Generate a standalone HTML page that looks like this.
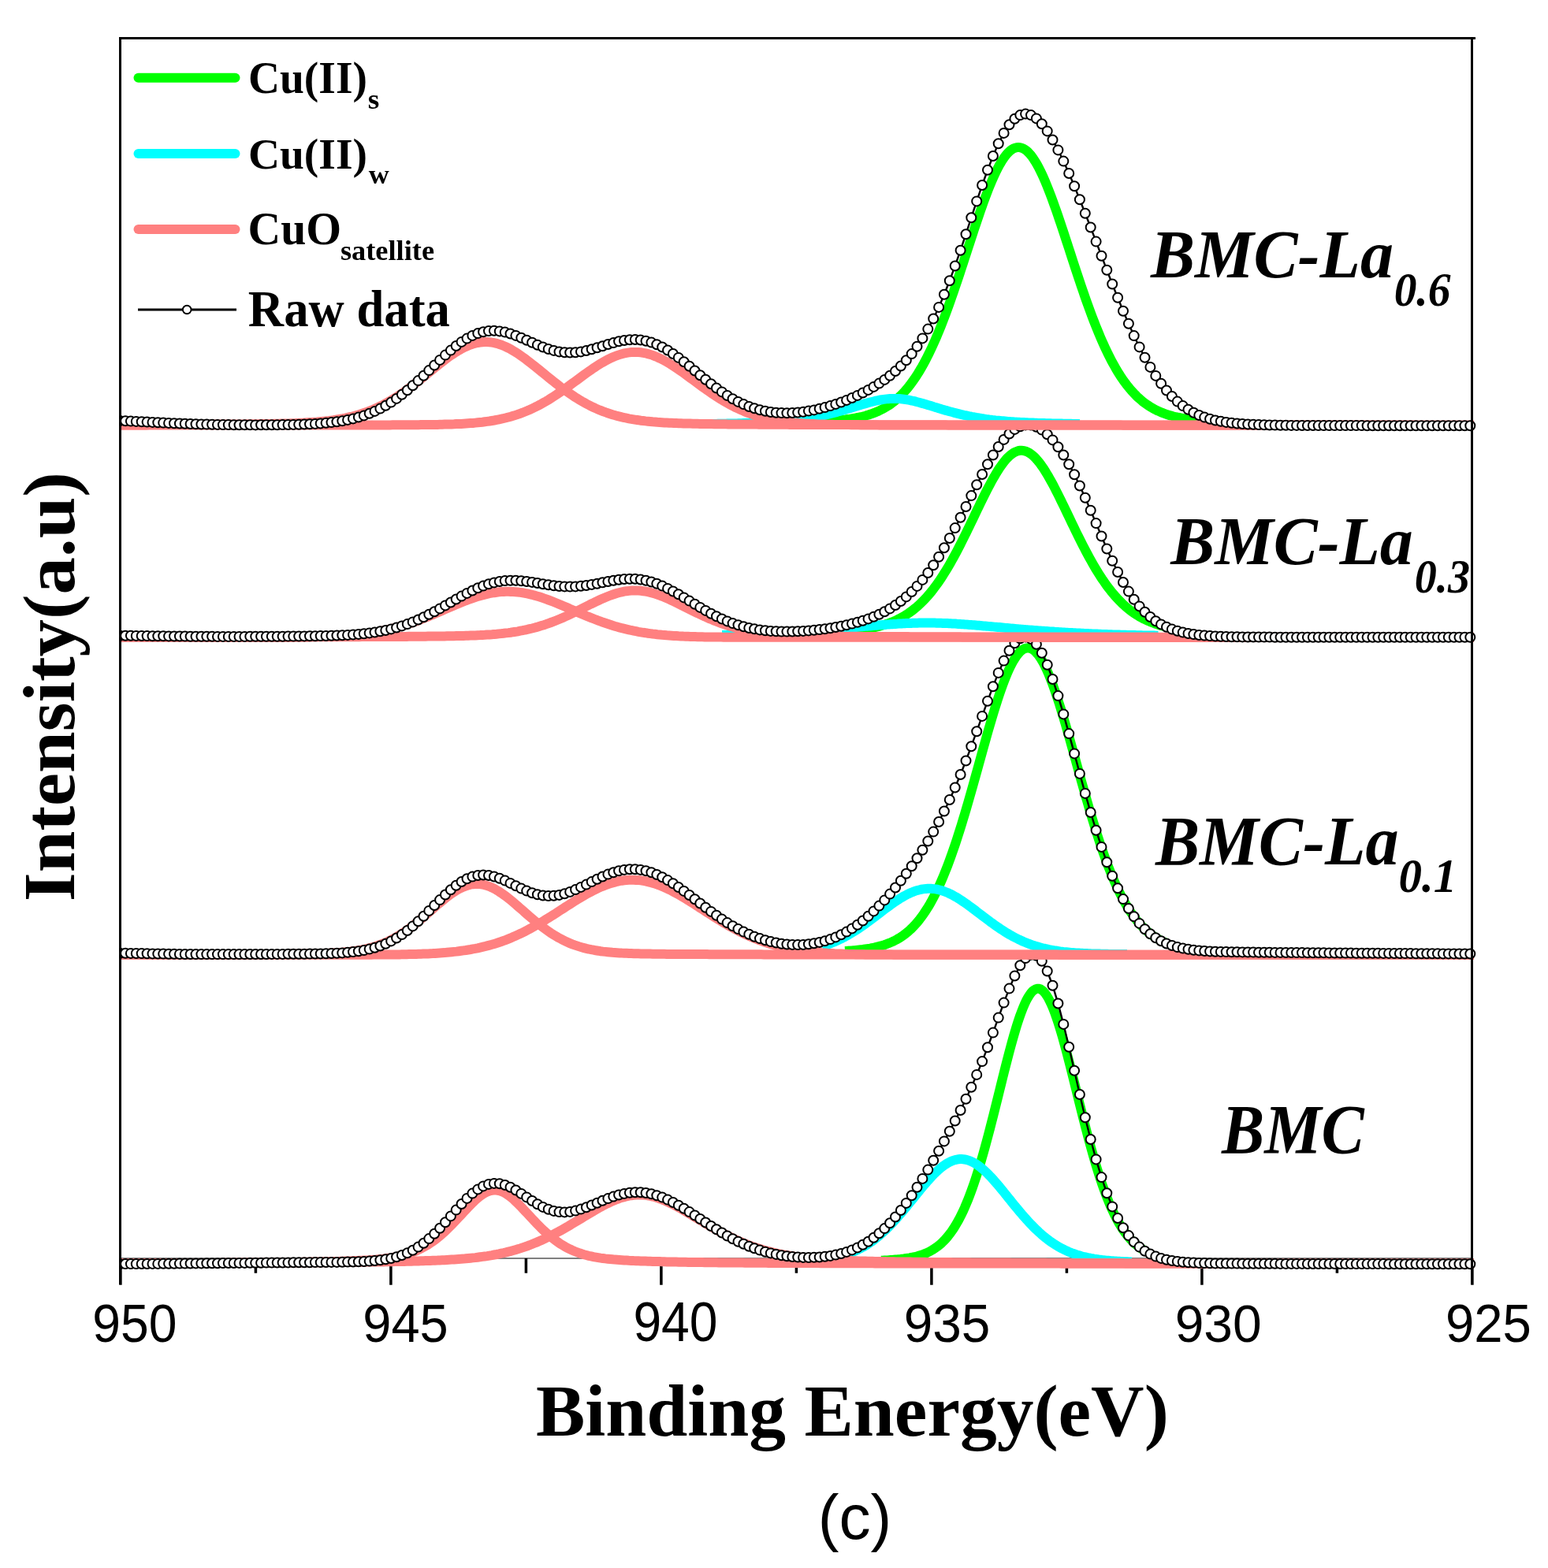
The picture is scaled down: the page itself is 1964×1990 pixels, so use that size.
<!DOCTYPE html><html><head><meta charset="utf-8"><title>XPS Cu 2p</title><style>html,body{margin:0;padding:0;background:#fff}svg{display:block}</style></head><body>
<svg xmlns="http://www.w3.org/2000/svg" width="1964" height="1990" viewBox="0 0 1964 1990">
<rect width="1964" height="1990" fill="#fff"/>
<defs>
<clipPath id="c0"><rect x="152" y="1211.7" width="1730" height="488.29999999999995"/></clipPath>
<clipPath id="c1"><rect x="152" y="808.9" width="1730" height="891.1"/></clipPath>
<clipPath id="c2"><rect x="152" y="539.7" width="1730" height="1160.3"/></clipPath>
<clipPath id="c3"><rect x="152" y="48" width="1730" height="1652"/></clipPath>
</defs>
<path d="M152.9,1597V1630.8 M324.4,1597V1615.8 M495.9,1597V1630.8 M667.4,1597V1615.8 M838.9,1597V1630.8 M1010.4,1597V1615.8 M1181.9,1597V1630.8 M1353.4,1597V1615.8 M1524.9,1597V1630.8 M1696.4,1597V1615.8 M1867.9,1597V1630.8" stroke="#000" stroke-width="3.5" fill="none"/>
<path d="M152,1597H1867" stroke="#000" stroke-width="1"/>
<g clip-path="url(#c0)" fill="none" stroke-width="12"><path d="M1118.0,1599.8 1120.0,1599.7 1122.0,1599.6 1124.0,1599.5 1126.0,1599.4 1128.0,1599.2 1130.0,1599.1 1132.0,1599.0 1134.0,1598.8 1136.0,1598.6 1138.0,1598.5 1140.0,1598.3 1142.0,1598.1 1144.0,1597.8 1146.0,1597.6 1148.0,1597.3 1150.0,1597.0 1152.0,1596.7 1154.0,1596.4 1156.0,1596.0 1158.0,1595.6 1160.0,1595.2 1162.0,1594.7 1164.0,1594.2 1166.0,1593.6 1168.0,1593.0 1170.0,1592.3 1172.0,1591.6 1174.0,1590.8 1176.0,1590.0 1178.0,1589.0 1180.0,1588.0 1182.0,1586.9 1184.0,1585.7 1186.0,1584.4 1188.0,1583.0 1190.0,1581.5 1192.0,1579.9 1194.0,1578.2 1196.0,1576.3 1198.0,1574.3 1200.0,1572.1 1202.0,1569.8 1204.0,1567.3 1206.0,1564.7 1208.0,1561.9 1210.0,1558.9 1212.0,1555.7 1214.0,1552.3 1216.0,1548.8 1218.0,1545.0 1220.0,1541.0 1222.0,1536.8 1224.0,1532.4 1226.0,1527.7 1228.0,1522.9 1230.0,1517.8 1232.0,1512.4 1234.0,1506.9 1236.0,1501.1 1238.0,1495.1 1240.0,1488.9 1242.0,1482.5 1244.0,1475.9 1246.0,1469.1 1248.0,1462.1 1250.0,1454.9 1252.0,1447.5 1254.0,1440.0 1256.0,1432.4 1258.0,1424.6 1260.0,1416.7 1262.0,1408.8 1264.0,1400.8 1266.0,1392.7 1268.0,1384.6 1270.0,1376.5 1272.0,1368.4 1274.0,1360.4 1276.0,1352.5 1278.0,1344.7 1280.0,1337.0 1282.0,1329.5 1284.0,1322.1 1286.0,1315.0 1288.0,1308.2 1290.0,1301.6 1292.0,1295.4 1294.0,1289.5 1296.0,1284.0 1298.0,1278.9 1300.0,1274.2 1302.0,1270.0 1304.0,1266.2 1306.0,1263.0 1308.0,1260.2 1310.0,1258.0 1312.0,1256.4 1314.0,1255.3 1316.0,1254.8 1318.0,1254.8 1320.0,1255.4 1322.0,1256.6 1324.0,1258.3 1326.0,1260.6 1328.0,1263.4 1330.0,1266.8 1332.0,1270.6 1334.0,1274.9 1336.0,1279.6 1338.0,1284.8 1340.0,1290.4 1342.0,1296.4 1344.0,1302.6 1346.0,1309.3 1348.0,1316.1 1350.0,1323.3 1352.0,1330.6 1354.0,1338.2 1356.0,1345.9 1358.0,1353.7 1360.0,1361.7 1362.0,1369.7 1364.0,1377.8 1366.0,1385.9 1368.0,1394.0 1370.0,1402.0 1372.0,1410.0 1374.0,1418.0 1376.0,1425.8 1378.0,1433.6 1380.0,1441.2 1382.0,1448.7 1384.0,1456.0 1386.0,1463.2 1388.0,1470.2 1390.0,1477.0 1392.0,1483.5 1394.0,1489.9 1396.0,1496.1 1398.0,1502.1 1400.0,1507.8 1402.0,1513.3 1404.0,1518.6 1406.0,1523.6 1408.0,1528.5 1410.0,1533.1 1412.0,1537.5 1414.0,1541.6 1416.0,1545.6 1418.0,1549.3 1420.0,1552.9 1422.0,1556.2 1424.0,1559.4 1426.0,1562.3 1428.0,1565.1 1430.0,1567.7 1432.0,1570.2 1434.0,1572.5 1436.0,1574.6 1438.0,1576.6 1440.0,1578.5 1442.0,1580.2 1444.0,1581.8 1446.0,1583.3 1448.0,1584.6 1450.0,1585.9 1452.0,1587.1" stroke="#00ff00"/><path d="M1050.0,1597.7 1052.0,1597.3 1054.0,1597.0 1056.0,1596.6 1058.0,1596.2 1060.0,1595.8 1062.0,1595.3 1064.0,1594.8 1066.0,1594.3 1068.0,1593.8 1070.0,1593.2 1072.0,1592.6 1074.0,1591.9 1076.0,1591.2 1078.0,1590.5 1080.0,1589.7 1082.0,1588.9 1084.0,1588.1 1086.0,1587.2 1088.0,1586.2 1090.0,1585.2 1092.0,1584.2 1094.0,1583.1 1096.0,1582.0 1098.0,1580.8 1100.0,1579.6 1102.0,1578.3 1104.0,1576.9 1106.0,1575.5 1108.0,1574.1 1110.0,1572.5 1112.0,1571.0 1114.0,1569.4 1116.0,1567.7 1118.0,1565.9 1120.0,1564.1 1122.0,1562.3 1124.0,1560.4 1126.0,1558.4 1128.0,1556.4 1130.0,1554.4 1132.0,1552.3 1134.0,1550.1 1136.0,1547.9 1138.0,1545.7 1140.0,1543.4 1142.0,1541.1 1144.0,1538.8 1146.0,1536.4 1148.0,1534.0 1150.0,1531.6 1152.0,1529.1 1154.0,1526.6 1156.0,1524.2 1158.0,1521.7 1160.0,1519.2 1162.0,1516.7 1164.0,1514.2 1166.0,1511.8 1168.0,1509.3 1170.0,1506.9 1172.0,1504.5 1174.0,1502.2 1176.0,1499.8 1178.0,1497.6 1180.0,1495.4 1182.0,1493.2 1184.0,1491.1 1186.0,1489.1 1188.0,1487.2 1190.0,1485.3 1192.0,1483.5 1194.0,1481.9 1196.0,1480.3 1198.0,1478.9 1200.0,1477.5 1202.0,1476.3 1204.0,1475.2 1206.0,1474.2 1208.0,1473.3 1210.0,1472.6 1212.0,1472.0 1214.0,1471.6 1216.0,1471.3 1218.0,1471.1 1220.0,1471.1 1222.0,1471.2 1224.0,1471.5 1226.0,1471.9 1228.0,1472.4 1230.0,1473.1 1232.0,1473.9 1234.0,1474.9 1236.0,1475.9 1238.0,1477.1 1240.0,1478.4 1242.0,1479.9 1244.0,1481.4 1246.0,1483.1 1248.0,1484.8 1250.0,1486.6 1252.0,1488.5 1254.0,1490.5 1256.0,1492.6 1258.0,1494.7 1260.0,1496.9 1262.0,1499.2 1264.0,1501.5 1266.0,1503.8 1268.0,1506.2 1270.0,1508.6 1272.0,1511.1 1274.0,1513.5 1276.0,1516.0 1278.0,1518.5 1280.0,1521.0 1282.0,1523.4 1284.0,1525.9 1286.0,1528.4 1288.0,1530.8 1290.0,1533.3 1292.0,1535.7 1294.0,1538.1 1296.0,1540.4 1298.0,1542.8 1300.0,1545.0 1302.0,1547.3 1304.0,1549.5 1306.0,1551.7 1308.0,1553.8 1310.0,1555.8 1312.0,1557.9 1314.0,1559.8 1316.0,1561.7 1318.0,1563.6 1320.0,1565.4 1322.0,1567.2 1324.0,1568.9 1326.0,1570.5 1328.0,1572.1 1330.0,1573.6 1332.0,1575.1 1334.0,1576.5 1336.0,1577.9 1338.0,1579.2 1340.0,1580.4 1342.0,1581.6 1344.0,1582.8 1346.0,1583.9 1348.0,1584.9 1350.0,1585.9 1352.0,1586.9 1354.0,1587.8 1356.0,1588.7 1358.0,1589.5 1360.0,1590.3 1362.0,1591.0 1364.0,1591.7 1366.0,1592.4 1368.0,1593.0 1370.0,1593.6 1372.0,1594.2 1374.0,1594.7 1376.0,1595.2 1378.0,1595.6 1380.0,1596.1 1382.0,1596.5 1384.0,1596.9 1386.0,1597.2 1388.0,1597.6 1390.0,1597.9 1392.0,1598.2 1394.0,1598.5 1396.0,1598.7 1398.0,1599.0 1400.0,1599.2 1402.0,1599.4 1404.0,1599.6 1406.0,1599.8 1408.0,1600.0 1410.0,1600.2 1412.0,1600.3 1414.0,1600.5 1416.0,1600.6 1418.0,1600.7 1420.0,1600.8 1422.0,1601.0 1424.0,1601.1 1426.0,1601.2 1428.0,1601.2 1430.0,1601.3 1432.0,1601.4 1434.0,1601.5 1436.0,1601.5" stroke="#00ffff"/><path d="M150.0,1603.3 153.0,1603.3 156.0,1603.3 159.0,1603.3 162.0,1603.3 165.0,1603.3 168.0,1603.3 171.0,1603.3 174.0,1603.3 177.0,1603.3 180.0,1603.3 183.0,1603.3 186.0,1603.2 189.0,1603.2 192.0,1603.2 195.0,1603.2 198.0,1603.2 201.0,1603.2 204.0,1603.2 207.0,1603.2 210.0,1603.2 213.0,1603.2 216.0,1603.2 219.0,1603.1 222.0,1603.1 225.0,1603.1 228.0,1603.1 231.0,1603.1 234.0,1603.1 237.0,1603.1 240.0,1603.1 243.0,1603.0 246.0,1603.0 249.0,1603.0 252.0,1603.0 255.0,1603.0 258.0,1603.0 261.0,1603.0 264.0,1602.9 267.0,1602.9 270.0,1602.9 273.0,1602.9 276.0,1602.9 279.0,1602.9 282.0,1602.8 285.0,1602.8 288.0,1602.8 291.0,1602.8 294.0,1602.8 297.0,1602.8 300.0,1602.7 303.0,1602.7 306.0,1602.7 309.0,1602.7 312.0,1602.6 315.0,1602.6 318.0,1602.6 321.0,1602.6 324.0,1602.5 327.0,1602.5 330.0,1602.5 333.0,1602.5 336.0,1602.4 339.0,1602.4 342.0,1602.4 345.0,1602.3 348.0,1602.3 351.0,1602.3 354.0,1602.2 357.0,1602.2 360.0,1602.2 363.0,1602.1 366.0,1602.1 369.0,1602.1 372.0,1602.0 375.0,1602.0 378.0,1601.9 381.0,1601.9 384.0,1601.8 387.0,1601.8 390.0,1601.7 393.0,1601.7 396.0,1601.6 399.0,1601.6 402.0,1601.5 405.0,1601.5 408.0,1601.4 411.0,1601.3 414.0,1601.3 417.0,1601.2 420.0,1601.1 423.0,1601.0 426.0,1600.9 429.0,1600.9 432.0,1600.8 435.0,1600.7 438.0,1600.6 441.0,1600.5 444.0,1600.4 447.0,1600.2 450.0,1600.1 453.0,1600.0 456.0,1599.8 459.0,1599.7 462.0,1599.5 465.0,1599.4 468.0,1599.2 471.0,1598.9 474.0,1598.7 477.0,1598.5 480.0,1598.2 483.0,1597.9 486.0,1597.6 489.0,1597.2 492.0,1596.8 495.0,1596.4 498.0,1595.9 501.0,1595.4 504.0,1594.8 507.0,1594.1 510.0,1593.4 513.0,1592.6 516.0,1591.8 519.0,1590.8 522.0,1589.8 525.0,1588.7 528.0,1587.4 531.0,1586.1 534.0,1584.7 537.0,1583.1 540.0,1581.4 543.0,1579.6 546.0,1577.6 549.0,1575.6 552.0,1573.4 555.0,1571.0 558.0,1568.6 561.0,1566.0 564.0,1563.3 567.0,1560.4 570.0,1557.5 573.0,1554.5 576.0,1551.4 579.0,1548.2 582.0,1545.0 585.0,1541.8 588.0,1538.5 591.0,1535.3 594.0,1532.1 597.0,1529.0 600.0,1526.0 603.0,1523.2 606.0,1520.5 609.0,1518.1 612.0,1516.0 615.0,1514.1 618.0,1512.6 621.0,1511.5 624.0,1510.8 627.0,1510.5 630.0,1510.5 633.0,1511.1 636.0,1512.0 639.0,1513.3 642.0,1514.9 645.0,1516.9 648.0,1519.2 651.0,1521.7 654.0,1524.5 657.0,1527.4 660.0,1530.4 663.0,1533.6 666.0,1536.8 669.0,1540.0 672.0,1543.3 675.0,1546.5 678.0,1549.7 681.0,1552.8 684.0,1555.9 687.0,1558.9 690.0,1561.8 693.0,1564.5 696.0,1567.2 699.0,1569.7 702.0,1572.1 705.0,1574.4 708.0,1576.5 711.0,1578.6 714.0,1580.4 717.0,1582.2 720.0,1583.8 723.0,1585.3 726.0,1586.7 729.0,1588.0 732.0,1589.2 735.0,1590.3 738.0,1591.3 741.0,1592.2 744.0,1593.0 747.0,1593.8 750.0,1594.4 753.0,1595.1 756.0,1595.6 759.0,1596.1 762.0,1596.6 765.0,1597.0 768.0,1597.4 771.0,1597.7 774.0,1598.0 777.0,1598.3 780.0,1598.6 783.0,1598.8 786.0,1599.0 789.0,1599.2 792.0,1599.4 795.0,1599.6 798.0,1599.8 801.0,1599.9 804.0,1600.1 807.0,1600.2 810.0,1600.3 813.0,1600.4 816.0,1600.5 819.0,1600.6 822.0,1600.7 825.0,1600.8 828.0,1600.9 831.0,1601.0 834.0,1601.1 837.0,1601.1 840.0,1601.2 843.0,1601.3 846.0,1601.4 849.0,1601.4 852.0,1601.5 855.0,1601.5 858.0,1601.6 861.0,1601.7 864.0,1601.7 867.0,1601.8 870.0,1601.8 873.0,1601.9 876.0,1601.9 879.0,1602.0 882.0,1602.0 885.0,1602.0 888.0,1602.1 891.0,1602.1 894.0,1602.2 897.0,1602.2 900.0,1602.2 903.0,1602.3 906.0,1602.3 909.0,1602.3 912.0,1602.4 915.0,1602.4 918.0,1602.4 921.0,1602.5 924.0,1602.5 927.0,1602.5 930.0,1602.5 933.0,1602.6 936.0,1602.6 939.0,1602.6 942.0,1602.6 945.0,1602.7 948.0,1602.7 951.0,1602.7 954.0,1602.7 957.0,1602.7 960.0,1602.8 963.0,1602.8 966.0,1602.8 969.0,1602.8 972.0,1602.8 975.0,1602.9 978.0,1602.9 981.0,1602.9 984.0,1602.9 987.0,1602.9 990.0,1602.9 993.0,1603.0 996.0,1603.0 999.0,1603.0 1002.0,1603.0 1005.0,1603.0 1008.0,1603.0 1011.0,1603.0 1014.0,1603.1 1017.0,1603.1 1020.0,1603.1 1023.0,1603.1 1026.0,1603.1 1029.0,1603.1 1032.0,1603.1 1035.0,1603.1 1038.0,1603.1 1041.0,1603.2 1044.0,1603.2 1047.0,1603.2 1050.0,1603.2 1053.0,1603.2 1056.0,1603.2 1059.0,1603.2 1062.0,1603.2 1065.0,1603.2 1068.0,1603.2 1071.0,1603.3 1074.0,1603.3 1077.0,1603.3 1080.0,1603.3 1083.0,1603.3 1086.0,1603.3 1089.0,1603.3 1092.0,1603.3 1095.0,1603.3 1098.0,1603.3 1101.0,1603.3 1104.0,1603.3 1107.0,1603.3 1110.0,1603.4 1113.0,1603.4 1116.0,1603.4 1119.0,1603.4 1122.0,1603.4 1125.0,1603.4 1128.0,1603.4 1131.0,1603.4 1134.0,1603.4 1137.0,1603.4 1140.0,1603.4 1143.0,1603.4 1146.0,1603.4 1149.0,1603.4 1152.0,1603.4 1155.0,1603.4 1158.0,1603.4 1161.0,1603.5 1164.0,1603.5 1167.0,1603.5 1170.0,1603.5 1173.0,1603.5 1176.0,1603.5 1179.0,1603.5 1182.0,1603.5 1185.0,1603.5 1188.0,1603.5 1191.0,1603.5 1194.0,1603.5 1197.0,1603.5 1200.0,1603.5 1203.0,1603.5 1206.0,1603.5 1209.0,1603.5 1212.0,1603.5 1215.0,1603.5 1218.0,1603.5 1221.0,1603.5 1224.0,1603.5 1227.0,1603.5 1230.0,1603.5 1233.0,1603.5 1236.0,1603.6 1239.0,1603.6 1242.0,1603.6 1245.0,1603.6 1248.0,1603.6 1251.0,1603.6 1254.0,1603.6 1257.0,1603.6 1260.0,1603.6 1263.0,1603.6 1266.0,1603.6 1269.0,1603.6 1272.0,1603.6 1275.0,1603.6 1278.0,1603.6 1281.0,1603.6 1284.0,1603.6 1287.0,1603.6 1290.0,1603.6 1293.0,1603.6 1296.0,1603.6 1299.0,1603.6 1302.0,1603.6 1305.0,1603.6 1308.0,1603.6 1311.0,1603.6 1314.0,1603.6 1317.0,1603.6 1320.0,1603.6 1323.0,1603.6 1326.0,1603.6 1329.0,1603.6 1332.0,1603.6 1335.0,1603.6 1338.0,1603.6 1341.0,1603.6 1344.0,1603.6 1347.0,1603.7 1350.0,1603.7 1353.0,1603.7 1356.0,1603.7 1359.0,1603.7 1362.0,1603.7 1365.0,1603.7 1368.0,1603.7 1371.0,1603.7 1374.0,1603.7 1377.0,1603.7 1380.0,1603.7 1383.0,1603.7 1386.0,1603.7 1389.0,1603.7 1392.0,1603.7 1395.0,1603.7 1398.0,1603.7 1401.0,1603.7 1404.0,1603.7 1407.0,1603.7 1410.0,1603.7 1413.0,1603.7 1416.0,1603.7 1419.0,1603.7 1422.0,1603.7 1425.0,1603.7 1428.0,1603.7 1431.0,1603.7 1434.0,1603.7 1437.0,1603.7 1440.0,1603.7 1443.0,1603.7 1446.0,1603.7 1449.0,1603.7 1452.0,1603.7 1455.0,1603.7 1458.0,1603.7 1461.0,1603.7 1464.0,1603.7 1467.0,1603.7 1470.0,1603.7 1473.0,1603.7 1476.0,1603.7 1479.0,1603.7 1482.0,1603.7 1485.0,1603.7 1488.0,1603.7 1491.0,1603.7 1494.0,1603.7 1497.0,1603.7 1500.0,1603.7 1503.0,1603.7 1506.0,1603.7 1509.0,1603.7 1512.0,1603.7 1515.0,1603.7 1518.0,1603.7 1521.0,1603.7 1524.0,1603.7 1527.0,1603.7 1530.0,1603.7 1533.0,1603.7 1536.0,1603.7 1539.0,1603.7 1542.0,1603.7 1545.0,1603.7 1548.0,1603.7 1551.0,1603.7 1554.0,1603.7 1557.0,1603.8 1560.0,1603.8 1563.0,1603.8 1566.0,1603.8 1569.0,1603.8 1572.0,1603.8 1575.0,1603.8 1578.0,1603.8 1581.0,1603.8 1584.0,1603.8 1587.0,1603.8 1590.0,1603.8 1593.0,1603.8 1596.0,1603.8 1599.0,1603.8 1602.0,1603.8 1605.0,1603.8 1608.0,1603.8 1611.0,1603.8 1614.0,1603.8 1617.0,1603.8 1620.0,1603.8 1623.0,1603.8 1626.0,1603.8 1629.0,1603.8 1632.0,1603.8 1635.0,1603.8 1638.0,1603.8 1641.0,1603.8 1644.0,1603.8 1647.0,1603.8 1650.0,1603.8 1653.0,1603.8 1656.0,1603.8 1659.0,1603.8 1662.0,1603.8 1665.0,1603.8 1668.0,1603.8 1671.0,1603.8 1674.0,1603.8 1677.0,1603.8 1680.0,1603.8 1683.0,1603.8 1686.0,1603.8 1689.0,1603.8 1692.0,1603.8 1695.0,1603.8 1698.0,1603.8 1701.0,1603.8 1704.0,1603.8 1707.0,1603.8 1710.0,1603.8 1713.0,1603.8 1716.0,1603.8 1719.0,1603.8 1722.0,1603.8 1725.0,1603.8 1728.0,1603.8 1731.0,1603.8 1734.0,1603.8 1737.0,1603.8 1740.0,1603.8 1743.0,1603.8 1746.0,1603.8 1749.0,1603.8 1752.0,1603.8 1755.0,1603.8 1758.0,1603.8 1761.0,1603.8 1764.0,1603.8 1767.0,1603.8 1770.0,1603.8 1773.0,1603.8 1776.0,1603.8 1779.0,1603.8 1782.0,1603.8 1785.0,1603.8 1788.0,1603.8 1791.0,1603.8 1794.0,1603.8 1797.0,1603.8 1800.0,1603.8 1803.0,1603.8 1806.0,1603.8 1809.0,1603.8 1812.0,1603.8 1815.0,1603.8 1818.0,1603.8 1821.0,1603.8 1824.0,1603.8 1827.0,1603.8 1830.0,1603.8 1833.0,1603.8 1836.0,1603.8 1839.0,1603.8 1842.0,1603.8 1845.0,1603.8 1848.0,1603.8 1851.0,1603.8 1854.0,1603.8 1857.0,1603.8 1860.0,1603.8 1863.0,1603.8 1866.0,1603.8 1869.0,1603.8 1870.0,1603.8" stroke="#ff8080"/><path d="M150.0,1603.3 153.0,1603.2 156.0,1603.2 159.0,1603.2 162.0,1603.2 165.0,1603.2 168.0,1603.2 171.0,1603.2 174.0,1603.2 177.0,1603.2 180.0,1603.2 183.0,1603.2 186.0,1603.2 189.0,1603.2 192.0,1603.2 195.0,1603.2 198.0,1603.1 201.0,1603.1 204.0,1603.1 207.0,1603.1 210.0,1603.1 213.0,1603.1 216.0,1603.1 219.0,1603.1 222.0,1603.1 225.0,1603.1 228.0,1603.1 231.0,1603.1 234.0,1603.1 237.0,1603.0 240.0,1603.0 243.0,1603.0 246.0,1603.0 249.0,1603.0 252.0,1603.0 255.0,1603.0 258.0,1603.0 261.0,1603.0 264.0,1603.0 267.0,1603.0 270.0,1602.9 273.0,1602.9 276.0,1602.9 279.0,1602.9 282.0,1602.9 285.0,1602.9 288.0,1602.9 291.0,1602.9 294.0,1602.9 297.0,1602.8 300.0,1602.8 303.0,1602.8 306.0,1602.8 309.0,1602.8 312.0,1602.8 315.0,1602.8 318.0,1602.8 321.0,1602.7 324.0,1602.7 327.0,1602.7 330.0,1602.7 333.0,1602.7 336.0,1602.7 339.0,1602.7 342.0,1602.6 345.0,1602.6 348.0,1602.6 351.0,1602.6 354.0,1602.6 357.0,1602.6 360.0,1602.5 363.0,1602.5 366.0,1602.5 369.0,1602.5 372.0,1602.5 375.0,1602.4 378.0,1602.4 381.0,1602.4 384.0,1602.4 387.0,1602.4 390.0,1602.3 393.0,1602.3 396.0,1602.3 399.0,1602.3 402.0,1602.3 405.0,1602.2 408.0,1602.2 411.0,1602.2 414.0,1602.2 417.0,1602.1 420.0,1602.1 423.0,1602.1 426.0,1602.1 429.0,1602.0 432.0,1602.0 435.0,1602.0 438.0,1601.9 441.0,1601.9 444.0,1601.9 447.0,1601.9 450.0,1601.8 453.0,1601.8 456.0,1601.8 459.0,1601.7 462.0,1601.7 465.0,1601.6 468.0,1601.6 471.0,1601.6 474.0,1601.5 477.0,1601.5 480.0,1601.4 483.0,1601.4 486.0,1601.4 489.0,1601.3 492.0,1601.3 495.0,1601.2 498.0,1601.2 501.0,1601.1 504.0,1601.0 507.0,1601.0 510.0,1600.9 513.0,1600.9 516.0,1600.8 519.0,1600.7 522.0,1600.7 525.0,1600.6 528.0,1600.5 531.0,1600.4 534.0,1600.3 537.0,1600.2 540.0,1600.1 543.0,1600.0 546.0,1599.9 549.0,1599.8 552.0,1599.7 555.0,1599.6 558.0,1599.4 561.0,1599.3 564.0,1599.2 567.0,1599.0 570.0,1598.8 573.0,1598.6 576.0,1598.4 579.0,1598.2 582.0,1598.0 585.0,1597.8 588.0,1597.6 591.0,1597.3 594.0,1597.0 597.0,1596.7 600.0,1596.4 603.0,1596.1 606.0,1595.7 609.0,1595.3 612.0,1594.9 615.0,1594.5 618.0,1594.1 621.0,1593.6 624.0,1593.1 627.0,1592.5 630.0,1592.0 633.0,1591.4 636.0,1590.7 639.0,1590.1 642.0,1589.4 645.0,1588.6 648.0,1587.9 651.0,1587.1 654.0,1586.2 657.0,1585.3 660.0,1584.4 663.0,1583.4 666.0,1582.4 669.0,1581.3 672.0,1580.2 675.0,1579.0 678.0,1577.8 681.0,1576.6 684.0,1575.3 687.0,1574.0 690.0,1572.6 693.0,1571.2 696.0,1569.7 699.0,1568.2 702.0,1566.7 705.0,1565.1 708.0,1563.5 711.0,1561.9 714.0,1560.2 717.0,1558.5 720.0,1556.8 723.0,1555.0 726.0,1553.2 729.0,1551.4 732.0,1549.6 735.0,1547.8 738.0,1546.0 741.0,1544.2 744.0,1542.4 747.0,1540.6 750.0,1538.8 753.0,1537.0 756.0,1535.3 759.0,1533.6 762.0,1531.9 765.0,1530.3 768.0,1528.7 771.0,1527.2 774.0,1525.8 777.0,1524.4 780.0,1523.2 783.0,1522.0 786.0,1520.9 789.0,1519.9 792.0,1519.1 795.0,1518.3 798.0,1517.7 801.0,1517.2 804.0,1516.8 807.0,1516.5 810.0,1516.4 813.0,1516.5 816.0,1516.6 819.0,1516.9 822.0,1517.3 825.0,1517.9 828.0,1518.5 831.0,1519.3 834.0,1520.2 837.0,1521.3 840.0,1522.4 843.0,1523.6 846.0,1524.9 849.0,1526.3 852.0,1527.7 855.0,1529.2 858.0,1530.8 861.0,1532.4 864.0,1534.1 867.0,1535.8 870.0,1537.6 873.0,1539.4 876.0,1541.2 879.0,1543.0 882.0,1544.8 885.0,1546.6 888.0,1548.4 891.0,1550.2 894.0,1552.0 897.0,1553.8 900.0,1555.6 903.0,1557.3 906.0,1559.1 909.0,1560.8 912.0,1562.4 915.0,1564.1 918.0,1565.7 921.0,1567.2 924.0,1568.7 927.0,1570.2 930.0,1571.7 933.0,1573.1 936.0,1574.4 939.0,1575.7 942.0,1577.0 945.0,1578.2 948.0,1579.4 951.0,1580.6 954.0,1581.7 957.0,1582.7 960.0,1583.7 963.0,1584.7 966.0,1585.6 969.0,1586.5 972.0,1587.3 975.0,1588.1 978.0,1588.9 981.0,1589.6 984.0,1590.3 987.0,1591.0 990.0,1591.6 993.0,1592.2 996.0,1592.7 999.0,1593.2 1002.0,1593.7 1005.0,1594.2 1008.0,1594.7 1011.0,1595.1 1014.0,1595.5 1017.0,1595.8 1020.0,1596.2 1023.0,1596.5 1026.0,1596.8 1029.0,1597.1 1032.0,1597.4 1035.0,1597.6 1038.0,1597.9 1041.0,1598.1 1044.0,1598.3 1047.0,1598.5 1050.0,1598.7 1053.0,1598.9 1056.0,1599.0 1059.0,1599.2 1062.0,1599.4 1065.0,1599.5 1068.0,1599.6 1071.0,1599.7 1074.0,1599.9 1077.0,1600.0 1080.0,1600.1 1083.0,1600.2 1086.0,1600.3 1089.0,1600.4 1092.0,1600.5 1095.0,1600.5 1098.0,1600.6 1101.0,1600.7 1104.0,1600.8 1107.0,1600.8 1110.0,1600.9 1113.0,1600.9 1116.0,1601.0 1119.0,1601.1 1122.0,1601.1 1125.0,1601.2 1128.0,1601.2 1131.0,1601.3 1134.0,1601.3 1137.0,1601.4 1140.0,1601.4 1143.0,1601.5 1146.0,1601.5 1149.0,1601.5 1152.0,1601.6 1155.0,1601.6 1158.0,1601.7 1161.0,1601.7 1164.0,1601.7 1167.0,1601.8 1170.0,1601.8 1173.0,1601.8 1176.0,1601.9 1179.0,1601.9 1182.0,1601.9 1185.0,1602.0 1188.0,1602.0 1191.0,1602.0 1194.0,1602.0 1197.0,1602.1 1200.0,1602.1 1203.0,1602.1 1206.0,1602.1 1209.0,1602.2 1212.0,1602.2 1215.0,1602.2 1218.0,1602.2 1221.0,1602.3 1224.0,1602.3 1227.0,1602.3 1230.0,1602.3 1233.0,1602.4 1236.0,1602.4 1239.0,1602.4 1242.0,1602.4 1245.0,1602.4 1248.0,1602.5 1251.0,1602.5 1254.0,1602.5 1257.0,1602.5 1260.0,1602.5 1263.0,1602.5 1266.0,1602.6 1269.0,1602.6 1272.0,1602.6 1275.0,1602.6 1278.0,1602.6 1281.0,1602.6 1284.0,1602.7 1287.0,1602.7 1290.0,1602.7 1293.0,1602.7 1296.0,1602.7 1299.0,1602.7 1302.0,1602.7 1305.0,1602.8 1308.0,1602.8 1311.0,1602.8 1314.0,1602.8 1317.0,1602.8 1320.0,1602.8 1323.0,1602.8 1326.0,1602.8 1329.0,1602.9 1332.0,1602.9 1335.0,1602.9 1338.0,1602.9 1341.0,1602.9 1344.0,1602.9 1347.0,1602.9 1350.0,1602.9 1353.0,1602.9 1356.0,1603.0 1359.0,1603.0 1362.0,1603.0 1365.0,1603.0 1368.0,1603.0 1371.0,1603.0 1374.0,1603.0 1377.0,1603.0 1380.0,1603.0 1383.0,1603.0 1386.0,1603.0 1389.0,1603.1 1392.0,1603.1 1395.0,1603.1 1398.0,1603.1 1401.0,1603.1 1404.0,1603.1 1407.0,1603.1 1410.0,1603.1 1413.0,1603.1 1416.0,1603.1 1419.0,1603.1 1422.0,1603.1 1425.0,1603.1 1428.0,1603.2 1431.0,1603.2 1434.0,1603.2 1437.0,1603.2 1440.0,1603.2 1443.0,1603.2 1446.0,1603.2 1449.0,1603.2 1452.0,1603.2 1455.0,1603.2 1458.0,1603.2 1461.0,1603.2 1464.0,1603.2 1467.0,1603.2 1470.0,1603.2 1473.0,1603.3 1476.0,1603.3 1479.0,1603.3 1482.0,1603.3 1485.0,1603.3 1488.0,1603.3 1491.0,1603.3 1494.0,1603.3 1497.0,1603.3 1500.0,1603.3 1503.0,1603.3 1506.0,1603.3 1509.0,1603.3 1512.0,1603.3 1515.0,1603.3 1518.0,1603.3 1521.0,1603.3 1524.0,1603.3 1527.0,1603.3 1530.0,1603.3 1533.0,1603.4 1536.0,1603.4 1539.0,1603.4 1542.0,1603.4 1545.0,1603.4 1548.0,1603.4 1551.0,1603.4 1554.0,1603.4 1557.0,1603.4 1560.0,1603.4 1563.0,1603.4 1566.0,1603.4 1569.0,1603.4 1572.0,1603.4 1575.0,1603.4 1578.0,1603.4 1581.0,1603.4 1584.0,1603.4 1587.0,1603.4 1590.0,1603.4 1593.0,1603.4 1596.0,1603.4 1599.0,1603.4 1602.0,1603.4 1605.0,1603.4 1608.0,1603.5 1611.0,1603.5 1614.0,1603.5 1617.0,1603.5 1620.0,1603.5 1623.0,1603.5 1626.0,1603.5 1629.0,1603.5 1632.0,1603.5 1635.0,1603.5 1638.0,1603.5 1641.0,1603.5 1644.0,1603.5 1647.0,1603.5 1650.0,1603.5 1653.0,1603.5 1656.0,1603.5 1659.0,1603.5 1662.0,1603.5 1665.0,1603.5 1668.0,1603.5 1671.0,1603.5 1674.0,1603.5 1677.0,1603.5 1680.0,1603.5 1683.0,1603.5 1686.0,1603.5 1689.0,1603.5 1692.0,1603.5 1695.0,1603.5 1698.0,1603.5 1701.0,1603.5 1704.0,1603.5 1707.0,1603.5 1710.0,1603.5 1713.0,1603.5 1716.0,1603.5 1719.0,1603.6 1722.0,1603.6 1725.0,1603.6 1728.0,1603.6 1731.0,1603.6 1734.0,1603.6 1737.0,1603.6 1740.0,1603.6 1743.0,1603.6 1746.0,1603.6 1749.0,1603.6 1752.0,1603.6 1755.0,1603.6 1758.0,1603.6 1761.0,1603.6 1764.0,1603.6 1767.0,1603.6 1770.0,1603.6 1773.0,1603.6 1776.0,1603.6 1779.0,1603.6 1782.0,1603.6 1785.0,1603.6 1788.0,1603.6 1791.0,1603.6 1794.0,1603.6 1797.0,1603.6 1800.0,1603.6 1803.0,1603.6 1806.0,1603.6 1809.0,1603.6 1812.0,1603.6 1815.0,1603.6 1818.0,1603.6 1821.0,1603.6 1824.0,1603.6 1827.0,1603.6 1830.0,1603.6 1833.0,1603.6 1836.0,1603.6 1839.0,1603.6 1842.0,1603.6 1845.0,1603.6 1848.0,1603.6 1851.0,1603.6 1854.0,1603.6 1857.0,1603.6 1860.0,1603.6 1863.0,1603.6 1866.0,1603.6 1869.0,1603.6 1870.0,1603.6" stroke="#ff8080"/><path d="M152.2,1604.2 159.1,1604.1 165.9,1604.1 172.8,1604.1 179.7,1604.0 186.6,1604.0 193.5,1603.9 200.3,1603.9 207.2,1603.8 214.1,1603.8 221.0,1603.7 227.9,1603.6 234.7,1603.6 241.6,1603.5 248.5,1603.4 255.4,1603.4 262.3,1603.3 269.1,1603.2 276.0,1603.2 282.9,1603.1 289.8,1603.0 296.7,1603.0 303.5,1602.9 310.4,1602.9 317.3,1602.8 324.2,1602.7 331.1,1602.7 337.9,1602.6 344.8,1602.6 351.7,1602.5 358.6,1602.5 365.5,1602.4 372.3,1602.3 379.2,1602.3 386.1,1602.2 393.0,1602.2 399.9,1602.1 406.7,1602.1 413.6,1602.0 420.5,1601.9 427.4,1601.9 434.3,1601.8 441.1,1601.6 448.0,1601.5 454.9,1601.3 461.8,1601.0 468.7,1600.6 475.5,1600.0 482.4,1599.3 489.3,1598.3 496.2,1597.0 503.1,1595.3 509.9,1593.0 516.8,1590.2 523.7,1586.8 530.6,1582.6 537.5,1577.7 544.3,1572.1 551.2,1565.7 558.1,1558.7 565.0,1551.2 571.9,1543.4 578.7,1535.6 585.6,1528.0 592.5,1520.9 599.4,1514.6 606.3,1509.4 613.1,1505.4 620.0,1502.9 626.9,1501.9 633.8,1502.2 640.7,1504.0 647.5,1506.8 654.4,1510.5 661.3,1514.9 668.2,1519.4 675.1,1524.0 681.9,1528.2 688.8,1531.9 695.7,1534.8 702.6,1536.9 709.5,1538.1 716.3,1538.4 723.2,1537.9 730.1,1536.6 737.0,1534.6 743.9,1532.2 750.7,1529.5 757.6,1526.7 764.5,1523.8 771.4,1521.1 778.3,1518.6 785.1,1516.5 792.0,1514.9 798.9,1513.8 805.8,1513.2 812.7,1513.3 819.5,1514.0 826.4,1515.3 833.3,1517.2 840.2,1519.6 847.1,1522.6 853.9,1526.0 860.8,1529.7 867.7,1533.8 874.6,1538.1 881.5,1542.5 888.3,1547.0 895.2,1551.5 902.1,1556.0 909.0,1560.3 915.9,1564.5 922.7,1568.5 929.6,1572.2 936.5,1575.7 943.4,1578.8 950.3,1581.7 957.1,1584.3 964.0,1586.6 970.9,1588.7 977.8,1590.4 984.7,1591.9 991.5,1593.2 998.4,1594.2 1005.3,1595.0 1012.2,1595.5 1019.1,1595.9 1025.9,1596.0 1032.8,1595.8 1039.7,1595.5 1046.6,1594.8 1053.5,1593.9 1060.3,1592.6 1067.2,1591.0 1074.1,1588.9 1081.0,1586.4 1087.9,1583.4 1094.7,1579.8 1101.6,1575.7 1108.5,1570.8 1115.4,1565.3 1122.3,1559.1 1129.1,1552.2 1136.0,1544.5 1142.9,1536.0 1149.8,1526.9 1156.7,1517.2 1163.5,1506.8 1170.4,1495.9 1177.3,1484.6 1184.2,1472.8 1191.1,1460.8 1197.9,1448.4 1204.8,1435.7 1211.7,1422.5 1218.6,1409.0 1225.5,1394.8 1232.3,1379.8 1239.2,1363.9 1246.1,1347.1 1253.0,1329.2 1259.9,1310.6 1266.7,1291.6 1273.6,1272.6 1280.5,1254.6 1287.4,1238.5 1294.3,1225.3 1301.1,1216.1 1308.0,1211.7 1314.9,1212.8 1321.8,1219.8 1328.7,1232.5 1335.5,1250.7 1342.4,1273.5 1349.3,1299.9 1356.2,1328.7 1363.1,1358.8 1369.9,1389.0 1376.8,1418.3 1383.7,1446.0 1390.6,1471.4 1397.5,1494.1 1404.3,1514.2 1411.2,1531.4 1418.1,1546.0 1425.0,1558.2 1431.9,1568.1 1438.7,1576.2 1445.6,1582.6 1452.5,1587.7 1459.4,1591.6 1466.3,1594.6 1473.1,1596.9 1480.0,1598.7 1486.9,1600.0 1493.8,1600.9 1500.7,1601.7 1507.5,1602.2 1514.4,1602.6 1521.3,1602.9 1528.2,1603.1 1535.1,1603.2 1541.9,1603.4 1548.8,1603.4 1555.7,1603.5 1562.6,1603.6 1569.5,1603.6 1576.3,1603.7 1583.2,1603.7 1590.1,1603.7 1597.0,1603.8 1603.9,1603.8 1610.7,1603.8 1617.6,1603.8 1624.5,1603.9 1631.4,1603.9 1638.3,1603.9 1645.1,1603.9 1652.0,1603.9 1658.9,1604.0 1665.8,1604.0 1672.7,1604.0 1679.5,1604.0 1686.4,1604.0 1693.3,1604.0 1700.2,1604.0 1707.1,1604.1 1713.9,1604.1 1720.8,1604.1 1727.7,1604.1 1734.6,1604.1 1741.5,1604.1 1748.3,1604.1 1755.2,1604.1 1762.1,1604.2 1769.0,1604.2 1775.9,1604.2 1782.7,1604.2 1789.6,1604.2 1796.5,1604.2 1803.4,1604.2 1810.3,1604.2 1817.1,1604.2 1824.0,1604.2 1830.9,1604.2 1837.8,1604.2 1844.7,1604.3 1851.5,1604.3 1858.4,1604.3 1865.3,1604.3" stroke="#000" stroke-width="2.4"/><g fill="#fff" stroke="#000" stroke-width="2.0"><circle cx="152.2" cy="1604.2" r="6.0"/><circle cx="159.1" cy="1604.1" r="6.0"/><circle cx="165.9" cy="1604.1" r="6.0"/><circle cx="172.8" cy="1604.1" r="6.0"/><circle cx="179.7" cy="1604.0" r="6.0"/><circle cx="186.6" cy="1604.0" r="6.0"/><circle cx="193.5" cy="1603.9" r="6.0"/><circle cx="200.3" cy="1603.9" r="6.0"/><circle cx="207.2" cy="1603.8" r="6.0"/><circle cx="214.1" cy="1603.8" r="6.0"/><circle cx="221.0" cy="1603.7" r="6.0"/><circle cx="227.9" cy="1603.6" r="6.0"/><circle cx="234.7" cy="1603.6" r="6.0"/><circle cx="241.6" cy="1603.5" r="6.0"/><circle cx="248.5" cy="1603.4" r="6.0"/><circle cx="255.4" cy="1603.4" r="6.0"/><circle cx="262.3" cy="1603.3" r="6.0"/><circle cx="269.1" cy="1603.2" r="6.0"/><circle cx="276.0" cy="1603.2" r="6.0"/><circle cx="282.9" cy="1603.1" r="6.0"/><circle cx="289.8" cy="1603.0" r="6.0"/><circle cx="296.7" cy="1603.0" r="6.0"/><circle cx="303.5" cy="1602.9" r="6.0"/><circle cx="310.4" cy="1602.9" r="6.0"/><circle cx="317.3" cy="1602.8" r="6.0"/><circle cx="324.2" cy="1602.7" r="6.0"/><circle cx="331.1" cy="1602.7" r="6.0"/><circle cx="337.9" cy="1602.6" r="6.0"/><circle cx="344.8" cy="1602.6" r="6.0"/><circle cx="351.7" cy="1602.5" r="6.0"/><circle cx="358.6" cy="1602.5" r="6.0"/><circle cx="365.5" cy="1602.4" r="6.0"/><circle cx="372.3" cy="1602.3" r="6.0"/><circle cx="379.2" cy="1602.3" r="6.0"/><circle cx="386.1" cy="1602.2" r="6.0"/><circle cx="393.0" cy="1602.2" r="6.0"/><circle cx="399.9" cy="1602.1" r="6.0"/><circle cx="406.7" cy="1602.1" r="6.0"/><circle cx="413.6" cy="1602.0" r="6.0"/><circle cx="420.5" cy="1601.9" r="6.0"/><circle cx="427.4" cy="1601.9" r="6.0"/><circle cx="434.3" cy="1601.8" r="6.0"/><circle cx="441.1" cy="1601.6" r="6.0"/><circle cx="448.0" cy="1601.5" r="6.0"/><circle cx="454.9" cy="1601.3" r="6.0"/><circle cx="461.8" cy="1601.0" r="6.0"/><circle cx="468.7" cy="1600.6" r="6.0"/><circle cx="475.5" cy="1600.0" r="6.0"/><circle cx="482.4" cy="1599.3" r="6.0"/><circle cx="489.3" cy="1598.3" r="6.0"/><circle cx="496.2" cy="1597.0" r="6.0"/><circle cx="503.1" cy="1595.3" r="6.0"/><circle cx="509.9" cy="1593.0" r="6.0"/><circle cx="516.8" cy="1590.2" r="6.0"/><circle cx="523.7" cy="1586.8" r="6.0"/><circle cx="530.6" cy="1582.6" r="6.0"/><circle cx="537.5" cy="1577.7" r="6.0"/><circle cx="544.3" cy="1572.1" r="6.0"/><circle cx="551.2" cy="1565.7" r="6.0"/><circle cx="558.1" cy="1558.7" r="6.0"/><circle cx="565.0" cy="1551.2" r="6.0"/><circle cx="571.9" cy="1543.4" r="6.0"/><circle cx="578.7" cy="1535.6" r="6.0"/><circle cx="585.6" cy="1528.0" r="6.0"/><circle cx="592.5" cy="1520.9" r="6.0"/><circle cx="599.4" cy="1514.6" r="6.0"/><circle cx="606.3" cy="1509.4" r="6.0"/><circle cx="613.1" cy="1505.4" r="6.0"/><circle cx="620.0" cy="1502.9" r="6.0"/><circle cx="626.9" cy="1501.9" r="6.0"/><circle cx="633.8" cy="1502.2" r="6.0"/><circle cx="640.7" cy="1504.0" r="6.0"/><circle cx="647.5" cy="1506.8" r="6.0"/><circle cx="654.4" cy="1510.5" r="6.0"/><circle cx="661.3" cy="1514.9" r="6.0"/><circle cx="668.2" cy="1519.4" r="6.0"/><circle cx="675.1" cy="1524.0" r="6.0"/><circle cx="681.9" cy="1528.2" r="6.0"/><circle cx="688.8" cy="1531.9" r="6.0"/><circle cx="695.7" cy="1534.8" r="6.0"/><circle cx="702.6" cy="1536.9" r="6.0"/><circle cx="709.5" cy="1538.1" r="6.0"/><circle cx="716.3" cy="1538.4" r="6.0"/><circle cx="723.2" cy="1537.9" r="6.0"/><circle cx="730.1" cy="1536.6" r="6.0"/><circle cx="737.0" cy="1534.6" r="6.0"/><circle cx="743.9" cy="1532.2" r="6.0"/><circle cx="750.7" cy="1529.5" r="6.0"/><circle cx="757.6" cy="1526.7" r="6.0"/><circle cx="764.5" cy="1523.8" r="6.0"/><circle cx="771.4" cy="1521.1" r="6.0"/><circle cx="778.3" cy="1518.6" r="6.0"/><circle cx="785.1" cy="1516.5" r="6.0"/><circle cx="792.0" cy="1514.9" r="6.0"/><circle cx="798.9" cy="1513.8" r="6.0"/><circle cx="805.8" cy="1513.2" r="6.0"/><circle cx="812.7" cy="1513.3" r="6.0"/><circle cx="819.5" cy="1514.0" r="6.0"/><circle cx="826.4" cy="1515.3" r="6.0"/><circle cx="833.3" cy="1517.2" r="6.0"/><circle cx="840.2" cy="1519.6" r="6.0"/><circle cx="847.1" cy="1522.6" r="6.0"/><circle cx="853.9" cy="1526.0" r="6.0"/><circle cx="860.8" cy="1529.7" r="6.0"/><circle cx="867.7" cy="1533.8" r="6.0"/><circle cx="874.6" cy="1538.1" r="6.0"/><circle cx="881.5" cy="1542.5" r="6.0"/><circle cx="888.3" cy="1547.0" r="6.0"/><circle cx="895.2" cy="1551.5" r="6.0"/><circle cx="902.1" cy="1556.0" r="6.0"/><circle cx="909.0" cy="1560.3" r="6.0"/><circle cx="915.9" cy="1564.5" r="6.0"/><circle cx="922.7" cy="1568.5" r="6.0"/><circle cx="929.6" cy="1572.2" r="6.0"/><circle cx="936.5" cy="1575.7" r="6.0"/><circle cx="943.4" cy="1578.8" r="6.0"/><circle cx="950.3" cy="1581.7" r="6.0"/><circle cx="957.1" cy="1584.3" r="6.0"/><circle cx="964.0" cy="1586.6" r="6.0"/><circle cx="970.9" cy="1588.7" r="6.0"/><circle cx="977.8" cy="1590.4" r="6.0"/><circle cx="984.7" cy="1591.9" r="6.0"/><circle cx="991.5" cy="1593.2" r="6.0"/><circle cx="998.4" cy="1594.2" r="6.0"/><circle cx="1005.3" cy="1595.0" r="6.0"/><circle cx="1012.2" cy="1595.5" r="6.0"/><circle cx="1019.1" cy="1595.9" r="6.0"/><circle cx="1025.9" cy="1596.0" r="6.0"/><circle cx="1032.8" cy="1595.8" r="6.0"/><circle cx="1039.7" cy="1595.5" r="6.0"/><circle cx="1046.6" cy="1594.8" r="6.0"/><circle cx="1053.5" cy="1593.9" r="6.0"/><circle cx="1060.3" cy="1592.6" r="6.0"/><circle cx="1067.2" cy="1591.0" r="6.0"/><circle cx="1074.1" cy="1588.9" r="6.0"/><circle cx="1081.0" cy="1586.4" r="6.0"/><circle cx="1087.9" cy="1583.4" r="6.0"/><circle cx="1094.7" cy="1579.8" r="6.0"/><circle cx="1101.6" cy="1575.7" r="6.0"/><circle cx="1108.5" cy="1570.8" r="6.0"/><circle cx="1115.4" cy="1565.3" r="6.0"/><circle cx="1122.3" cy="1559.1" r="6.0"/><circle cx="1129.1" cy="1552.2" r="6.0"/><circle cx="1136.0" cy="1544.5" r="6.0"/><circle cx="1142.9" cy="1536.0" r="6.0"/><circle cx="1149.8" cy="1526.9" r="6.0"/><circle cx="1156.7" cy="1517.2" r="6.0"/><circle cx="1163.5" cy="1506.8" r="6.0"/><circle cx="1170.4" cy="1495.9" r="6.0"/><circle cx="1177.3" cy="1484.6" r="6.0"/><circle cx="1184.2" cy="1472.8" r="6.0"/><circle cx="1191.1" cy="1460.8" r="6.0"/><circle cx="1197.9" cy="1448.4" r="6.0"/><circle cx="1204.8" cy="1435.7" r="6.0"/><circle cx="1211.7" cy="1422.5" r="6.0"/><circle cx="1218.6" cy="1409.0" r="6.0"/><circle cx="1225.5" cy="1394.8" r="6.0"/><circle cx="1232.3" cy="1379.8" r="6.0"/><circle cx="1239.2" cy="1363.9" r="6.0"/><circle cx="1246.1" cy="1347.1" r="6.0"/><circle cx="1253.0" cy="1329.2" r="6.0"/><circle cx="1259.9" cy="1310.6" r="6.0"/><circle cx="1266.7" cy="1291.6" r="6.0"/><circle cx="1273.6" cy="1272.6" r="6.0"/><circle cx="1280.5" cy="1254.6" r="6.0"/><circle cx="1287.4" cy="1238.5" r="6.0"/><circle cx="1294.3" cy="1225.3" r="6.0"/><circle cx="1301.1" cy="1216.1" r="6.0"/><circle cx="1308.0" cy="1211.7" r="6.0"/><circle cx="1314.9" cy="1212.8" r="6.0"/><circle cx="1321.8" cy="1219.8" r="6.0"/><circle cx="1328.7" cy="1232.5" r="6.0"/><circle cx="1335.5" cy="1250.7" r="6.0"/><circle cx="1342.4" cy="1273.5" r="6.0"/><circle cx="1349.3" cy="1299.9" r="6.0"/><circle cx="1356.2" cy="1328.7" r="6.0"/><circle cx="1363.1" cy="1358.8" r="6.0"/><circle cx="1369.9" cy="1389.0" r="6.0"/><circle cx="1376.8" cy="1418.3" r="6.0"/><circle cx="1383.7" cy="1446.0" r="6.0"/><circle cx="1390.6" cy="1471.4" r="6.0"/><circle cx="1397.5" cy="1494.1" r="6.0"/><circle cx="1404.3" cy="1514.2" r="6.0"/><circle cx="1411.2" cy="1531.4" r="6.0"/><circle cx="1418.1" cy="1546.0" r="6.0"/><circle cx="1425.0" cy="1558.2" r="6.0"/><circle cx="1431.9" cy="1568.1" r="6.0"/><circle cx="1438.7" cy="1576.2" r="6.0"/><circle cx="1445.6" cy="1582.6" r="6.0"/><circle cx="1452.5" cy="1587.7" r="6.0"/><circle cx="1459.4" cy="1591.6" r="6.0"/><circle cx="1466.3" cy="1594.6" r="6.0"/><circle cx="1473.1" cy="1596.9" r="6.0"/><circle cx="1480.0" cy="1598.7" r="6.0"/><circle cx="1486.9" cy="1600.0" r="6.0"/><circle cx="1493.8" cy="1600.9" r="6.0"/><circle cx="1500.7" cy="1601.7" r="6.0"/><circle cx="1507.5" cy="1602.2" r="6.0"/><circle cx="1514.4" cy="1602.6" r="6.0"/><circle cx="1521.3" cy="1602.9" r="6.0"/><circle cx="1528.2" cy="1603.1" r="6.0"/><circle cx="1535.1" cy="1603.2" r="6.0"/><circle cx="1541.9" cy="1603.4" r="6.0"/><circle cx="1548.8" cy="1603.4" r="6.0"/><circle cx="1555.7" cy="1603.5" r="6.0"/><circle cx="1562.6" cy="1603.6" r="6.0"/><circle cx="1569.5" cy="1603.6" r="6.0"/><circle cx="1576.3" cy="1603.7" r="6.0"/><circle cx="1583.2" cy="1603.7" r="6.0"/><circle cx="1590.1" cy="1603.7" r="6.0"/><circle cx="1597.0" cy="1603.8" r="6.0"/><circle cx="1603.9" cy="1603.8" r="6.0"/><circle cx="1610.7" cy="1603.8" r="6.0"/><circle cx="1617.6" cy="1603.8" r="6.0"/><circle cx="1624.5" cy="1603.9" r="6.0"/><circle cx="1631.4" cy="1603.9" r="6.0"/><circle cx="1638.3" cy="1603.9" r="6.0"/><circle cx="1645.1" cy="1603.9" r="6.0"/><circle cx="1652.0" cy="1603.9" r="6.0"/><circle cx="1658.9" cy="1604.0" r="6.0"/><circle cx="1665.8" cy="1604.0" r="6.0"/><circle cx="1672.7" cy="1604.0" r="6.0"/><circle cx="1679.5" cy="1604.0" r="6.0"/><circle cx="1686.4" cy="1604.0" r="6.0"/><circle cx="1693.3" cy="1604.0" r="6.0"/><circle cx="1700.2" cy="1604.0" r="6.0"/><circle cx="1707.1" cy="1604.1" r="6.0"/><circle cx="1713.9" cy="1604.1" r="6.0"/><circle cx="1720.8" cy="1604.1" r="6.0"/><circle cx="1727.7" cy="1604.1" r="6.0"/><circle cx="1734.6" cy="1604.1" r="6.0"/><circle cx="1741.5" cy="1604.1" r="6.0"/><circle cx="1748.3" cy="1604.1" r="6.0"/><circle cx="1755.2" cy="1604.1" r="6.0"/><circle cx="1762.1" cy="1604.2" r="6.0"/><circle cx="1769.0" cy="1604.2" r="6.0"/><circle cx="1775.9" cy="1604.2" r="6.0"/><circle cx="1782.7" cy="1604.2" r="6.0"/><circle cx="1789.6" cy="1604.2" r="6.0"/><circle cx="1796.5" cy="1604.2" r="6.0"/><circle cx="1803.4" cy="1604.2" r="6.0"/><circle cx="1810.3" cy="1604.2" r="6.0"/><circle cx="1817.1" cy="1604.2" r="6.0"/><circle cx="1824.0" cy="1604.2" r="6.0"/><circle cx="1830.9" cy="1604.2" r="6.0"/><circle cx="1837.8" cy="1604.2" r="6.0"/><circle cx="1844.7" cy="1604.3" r="6.0"/><circle cx="1851.5" cy="1604.3" r="6.0"/><circle cx="1858.4" cy="1604.3" r="6.0"/><circle cx="1865.3" cy="1604.3" r="6.0"/></g></g>
<g clip-path="url(#c1)" fill="none" stroke-width="12"><path d="M1072.0,1207.0 1074.0,1206.9 1076.0,1206.7 1078.0,1206.6 1080.0,1206.4 1082.0,1206.3 1084.0,1206.1 1086.0,1205.9 1088.0,1205.7 1090.0,1205.5 1092.0,1205.3 1094.0,1205.1 1096.0,1204.8 1098.0,1204.5 1100.0,1204.2 1102.0,1203.9 1104.0,1203.6 1106.0,1203.2 1108.0,1202.8 1110.0,1202.4 1112.0,1201.9 1114.0,1201.5 1116.0,1200.9 1118.0,1200.4 1120.0,1199.8 1122.0,1199.2 1124.0,1198.5 1126.0,1197.7 1128.0,1197.0 1130.0,1196.1 1132.0,1195.2 1134.0,1194.3 1136.0,1193.3 1138.0,1192.2 1140.0,1191.0 1142.0,1189.8 1144.0,1188.5 1146.0,1187.1 1148.0,1185.6 1150.0,1184.1 1152.0,1182.4 1154.0,1180.6 1156.0,1178.8 1158.0,1176.8 1160.0,1174.7 1162.0,1172.5 1164.0,1170.2 1166.0,1167.8 1168.0,1165.2 1170.0,1162.5 1172.0,1159.7 1174.0,1156.7 1176.0,1153.6 1178.0,1150.4 1180.0,1147.0 1182.0,1143.4 1184.0,1139.7 1186.0,1135.8 1188.0,1131.8 1190.0,1127.6 1192.0,1123.3 1194.0,1118.8 1196.0,1114.1 1198.0,1109.3 1200.0,1104.3 1202.0,1099.2 1204.0,1093.9 1206.0,1088.4 1208.0,1082.8 1210.0,1077.1 1212.0,1071.2 1214.0,1065.1 1216.0,1058.9 1218.0,1052.6 1220.0,1046.2 1222.0,1039.6 1224.0,1033.0 1226.0,1026.2 1228.0,1019.3 1230.0,1012.4 1232.0,1005.4 1234.0,998.3 1236.0,991.1 1238.0,984.0 1240.0,976.8 1242.0,969.6 1244.0,962.3 1246.0,955.1 1248.0,947.9 1250.0,940.8 1252.0,933.7 1254.0,926.7 1256.0,919.8 1258.0,913.0 1260.0,906.3 1262.0,899.8 1264.0,893.4 1266.0,887.2 1268.0,881.2 1270.0,875.3 1272.0,869.7 1274.0,864.4 1276.0,859.3 1278.0,854.5 1280.0,849.9 1282.0,845.7 1284.0,841.8 1286.0,838.2 1288.0,835.0 1290.0,832.1 1292.0,829.5 1294.0,827.4 1296.0,825.6 1298.0,824.2 1300.0,823.2 1302.0,822.6 1304.0,822.4 1306.0,822.6 1308.0,823.2 1310.0,824.2 1312.0,825.6 1314.0,827.4 1316.0,829.6 1318.0,832.1 1320.0,835.0 1322.0,838.3 1324.0,841.8 1326.0,845.8 1328.0,850.0 1330.0,854.5 1332.0,859.4 1334.0,864.5 1336.0,869.8 1338.0,875.4 1340.0,881.3 1342.0,887.3 1344.0,893.5 1346.0,899.9 1348.0,906.4 1350.0,913.1 1352.0,919.9 1354.0,926.8 1356.0,933.8 1358.0,940.9 1360.0,948.1 1362.0,955.2 1364.0,962.4 1366.0,969.7 1368.0,976.9 1370.0,984.1 1372.0,991.3 1374.0,998.4 1376.0,1005.5 1378.0,1012.5 1380.0,1019.4 1382.0,1026.3 1384.0,1033.1 1386.0,1039.7 1388.0,1046.3 1390.0,1052.7 1392.0,1059.0 1394.0,1065.2 1396.0,1071.3 1398.0,1077.2 1400.0,1082.9 1402.0,1088.5 1404.0,1094.0 1406.0,1099.3 1408.0,1104.4 1410.0,1109.4 1412.0,1114.2 1414.0,1118.9 1416.0,1123.4 1418.0,1127.7 1420.0,1131.9 1422.0,1135.9 1424.0,1139.8 1426.0,1143.5 1428.0,1147.0 1430.0,1150.4 1432.0,1153.7 1434.0,1156.8 1436.0,1159.7 1438.0,1162.6 1440.0,1165.2 1442.0,1167.8 1444.0,1170.2 1446.0,1172.6 1448.0,1174.8 1450.0,1176.8 1452.0,1178.8 1454.0,1180.7 1456.0,1182.4 1458.0,1184.1 1460.0,1185.6 1462.0,1187.1 1464.0,1188.5 1466.0,1189.8 1468.0,1191.0 1470.0,1192.2 1472.0,1193.3 1474.0,1194.3 1476.0,1195.2 1478.0,1196.1 1480.0,1197.0" stroke="#00ff00"/><path d="M1043.0,1201.0 1045.0,1200.4 1047.0,1199.7 1049.0,1199.1 1051.0,1198.3 1053.0,1197.6 1055.0,1196.8 1057.0,1196.0 1059.0,1195.2 1061.0,1194.3 1063.0,1193.4 1065.0,1192.4 1067.0,1191.5 1069.0,1190.5 1071.0,1189.4 1073.0,1188.3 1075.0,1187.2 1077.0,1186.1 1079.0,1184.9 1081.0,1183.7 1083.0,1182.5 1085.0,1181.2 1087.0,1179.9 1089.0,1178.6 1091.0,1177.3 1093.0,1175.9 1095.0,1174.5 1097.0,1173.1 1099.0,1171.6 1101.0,1170.2 1103.0,1168.7 1105.0,1167.2 1107.0,1165.7 1109.0,1164.2 1111.0,1162.7 1113.0,1161.1 1115.0,1159.6 1117.0,1158.1 1119.0,1156.6 1121.0,1155.0 1123.0,1153.5 1125.0,1152.0 1127.0,1150.6 1129.0,1149.1 1131.0,1147.7 1133.0,1146.2 1135.0,1144.9 1137.0,1143.5 1139.0,1142.2 1141.0,1140.9 1143.0,1139.7 1145.0,1138.5 1147.0,1137.3 1149.0,1136.2 1151.0,1135.2 1153.0,1134.2 1155.0,1133.3 1157.0,1132.4 1159.0,1131.6 1161.0,1130.9 1163.0,1130.2 1165.0,1129.7 1167.0,1129.2 1169.0,1128.7 1171.0,1128.4 1173.0,1128.1 1175.0,1127.9 1177.0,1127.8 1179.0,1127.7 1181.0,1127.8 1183.0,1127.9 1185.0,1128.1 1187.0,1128.4 1189.0,1128.7 1191.0,1129.2 1193.0,1129.7 1195.0,1130.3 1197.0,1130.9 1199.0,1131.7 1201.0,1132.5 1203.0,1133.3 1205.0,1134.3 1207.0,1135.2 1209.0,1136.3 1211.0,1137.4 1213.0,1138.5 1215.0,1139.7 1217.0,1141.0 1219.0,1142.3 1221.0,1143.6 1223.0,1144.9 1225.0,1146.3 1227.0,1147.7 1229.0,1149.2 1231.0,1150.7 1233.0,1152.1 1235.0,1153.6 1237.0,1155.1 1239.0,1156.7 1241.0,1158.2 1243.0,1159.7 1245.0,1161.2 1247.0,1162.8 1249.0,1164.3 1251.0,1165.8 1253.0,1167.3 1255.0,1168.8 1257.0,1170.3 1259.0,1171.7 1261.0,1173.2 1263.0,1174.6 1265.0,1176.0 1267.0,1177.3 1269.0,1178.7 1271.0,1180.0 1273.0,1181.3 1275.0,1182.6 1277.0,1183.8 1279.0,1185.0 1281.0,1186.2 1283.0,1187.3 1285.0,1188.4 1287.0,1189.5 1289.0,1190.5 1291.0,1191.5 1293.0,1192.5 1295.0,1193.4 1297.0,1194.4 1299.0,1195.2 1301.0,1196.1 1303.0,1196.9 1305.0,1197.6 1307.0,1198.4 1309.0,1199.1 1311.0,1199.8 1313.0,1200.4 1315.0,1201.1 1317.0,1201.6 1319.0,1202.2 1321.0,1202.8 1323.0,1203.3 1325.0,1203.7 1327.0,1204.2 1329.0,1204.6 1331.0,1205.1 1333.0,1205.5 1335.0,1205.8 1337.0,1206.2 1339.0,1206.5 1341.0,1206.8 1343.0,1207.1 1345.0,1207.4 1347.0,1207.6 1349.0,1207.9 1351.0,1208.1 1353.0,1208.3 1355.0,1208.5 1357.0,1208.7 1359.0,1208.9 1361.0,1209.1 1363.0,1209.2 1365.0,1209.4 1367.0,1209.5 1369.0,1209.6 1371.0,1209.7 1373.0,1209.8 1375.0,1209.9 1377.0,1210.0 1379.0,1210.1 1381.0,1210.2 1383.0,1210.3 1385.0,1210.4 1387.0,1210.4 1389.0,1210.5 1391.0,1210.5 1393.0,1210.6 1395.0,1210.6 1397.0,1210.7 1399.0,1210.7 1401.0,1210.8 1403.0,1210.8 1405.0,1210.8 1407.0,1210.9 1409.0,1210.9 1411.0,1210.9 1413.0,1211.0 1415.0,1211.0 1417.0,1211.0 1419.0,1211.0 1421.0,1211.0 1423.0,1211.1 1425.0,1211.1 1427.0,1211.1 1429.0,1211.1 1430.0,1211.1" stroke="#00ffff"/><path d="M150.0,1211.5 153.0,1211.5 156.0,1211.5 159.0,1211.5 162.0,1211.5 165.0,1211.5 168.0,1211.5 171.0,1211.5 174.0,1211.5 177.0,1211.5 180.0,1211.5 183.0,1211.5 186.0,1211.4 189.0,1211.4 192.0,1211.4 195.0,1211.4 198.0,1211.4 201.0,1211.4 204.0,1211.4 207.0,1211.4 210.0,1211.4 213.0,1211.4 216.0,1211.4 219.0,1211.4 222.0,1211.4 225.0,1211.4 228.0,1211.4 231.0,1211.4 234.0,1211.4 237.0,1211.4 240.0,1211.4 243.0,1211.3 246.0,1211.3 249.0,1211.3 252.0,1211.3 255.0,1211.3 258.0,1211.3 261.0,1211.3 264.0,1211.3 267.0,1211.3 270.0,1211.3 273.0,1211.3 276.0,1211.3 279.0,1211.3 282.0,1211.2 285.0,1211.2 288.0,1211.2 291.0,1211.2 294.0,1211.2 297.0,1211.2 300.0,1211.2 303.0,1211.2 306.0,1211.2 309.0,1211.2 312.0,1211.1 315.0,1211.1 318.0,1211.1 321.0,1211.1 324.0,1211.1 327.0,1211.1 330.0,1211.1 333.0,1211.1 336.0,1211.0 339.0,1211.0 342.0,1211.0 345.0,1211.0 348.0,1211.0 351.0,1211.0 354.0,1210.9 357.0,1210.9 360.0,1210.9 363.0,1210.9 366.0,1210.8 369.0,1210.8 372.0,1210.8 375.0,1210.7 378.0,1210.7 381.0,1210.7 384.0,1210.6 387.0,1210.6 390.0,1210.5 393.0,1210.5 396.0,1210.4 399.0,1210.4 402.0,1210.3 405.0,1210.2 408.0,1210.1 411.0,1210.0 414.0,1209.9 417.0,1209.8 420.0,1209.6 423.0,1209.5 426.0,1209.3 429.0,1209.1 432.0,1208.9 435.0,1208.6 438.0,1208.3 441.0,1208.0 444.0,1207.7 447.0,1207.3 450.0,1206.9 453.0,1206.4 456.0,1205.9 459.0,1205.4 462.0,1204.8 465.0,1204.1 468.0,1203.4 471.0,1202.6 474.0,1201.7 477.0,1200.8 480.0,1199.7 483.0,1198.6 486.0,1197.5 489.0,1196.2 492.0,1194.9 495.0,1193.4 498.0,1191.9 501.0,1190.2 504.0,1188.5 507.0,1186.7 510.0,1184.8 513.0,1182.8 516.0,1180.7 519.0,1178.6 522.0,1176.3 525.0,1174.0 528.0,1171.6 531.0,1169.1 534.0,1166.6 537.0,1164.1 540.0,1161.5 543.0,1158.8 546.0,1156.2 549.0,1153.6 552.0,1150.9 555.0,1148.3 558.0,1145.8 561.0,1143.3 564.0,1140.8 567.0,1138.4 570.0,1136.2 573.0,1134.0 576.0,1132.0 579.0,1130.2 582.0,1128.4 585.0,1126.9 588.0,1125.6 591.0,1124.4 594.0,1123.5 597.0,1122.7 600.0,1122.2 603.0,1122.0 606.0,1121.9 609.0,1122.1 612.0,1122.5 615.0,1123.2 618.0,1124.1 621.0,1125.1 624.0,1126.4 627.0,1127.9 630.0,1129.6 633.0,1131.4 636.0,1133.4 639.0,1135.5 642.0,1137.7 645.0,1140.0 648.0,1142.4 651.0,1144.9 654.0,1147.5 657.0,1150.1 660.0,1152.7 663.0,1155.3 666.0,1158.0 669.0,1160.6 672.0,1163.2 675.0,1165.8 678.0,1168.3 681.0,1170.8 684.0,1173.2 687.0,1175.5 690.0,1177.8 693.0,1180.0 696.0,1182.1 699.0,1184.2 702.0,1186.1 705.0,1187.9 708.0,1189.7 711.0,1191.3 714.0,1192.9 717.0,1194.4 720.0,1195.8 723.0,1197.1 726.0,1198.3 729.0,1199.4 732.0,1200.4 735.0,1201.4 738.0,1202.3 741.0,1203.1 744.0,1203.9 747.0,1204.5 750.0,1205.2 753.0,1205.7 756.0,1206.3 759.0,1206.7 762.0,1207.2 765.0,1207.6 768.0,1207.9 771.0,1208.2 774.0,1208.5 777.0,1208.8 780.0,1209.0 783.0,1209.2 786.0,1209.4 789.0,1209.6 792.0,1209.7 795.0,1209.8 798.0,1210.0 801.0,1210.1 804.0,1210.2 807.0,1210.3 810.0,1210.3 813.0,1210.4 816.0,1210.5 819.0,1210.5 822.0,1210.6 825.0,1210.6 828.0,1210.7 831.0,1210.7 834.0,1210.7 837.0,1210.8 840.0,1210.8 843.0,1210.8 846.0,1210.9 849.0,1210.9 852.0,1210.9 855.0,1210.9 858.0,1210.9 861.0,1211.0 864.0,1211.0 867.0,1211.0 870.0,1211.0 873.0,1211.0 876.0,1211.0 879.0,1211.1 882.0,1211.1 885.0,1211.1 888.0,1211.1 891.0,1211.1 894.0,1211.1 897.0,1211.1 900.0,1211.2 903.0,1211.2 906.0,1211.2 909.0,1211.2 912.0,1211.2 915.0,1211.2 918.0,1211.2 921.0,1211.2 924.0,1211.2 927.0,1211.2 930.0,1211.3 933.0,1211.3 936.0,1211.3 939.0,1211.3 942.0,1211.3 945.0,1211.3 948.0,1211.3 951.0,1211.3 954.0,1211.3 957.0,1211.3 960.0,1211.3 963.0,1211.3 966.0,1211.3 969.0,1211.4 972.0,1211.4 975.0,1211.4 978.0,1211.4 981.0,1211.4 984.0,1211.4 987.0,1211.4 990.0,1211.4 993.0,1211.4 996.0,1211.4 999.0,1211.4 1002.0,1211.4 1005.0,1211.4 1008.0,1211.4 1011.0,1211.4 1014.0,1211.4 1017.0,1211.4 1020.0,1211.4 1023.0,1211.4 1026.0,1211.4 1029.0,1211.5 1032.0,1211.5 1035.0,1211.5 1038.0,1211.5 1041.0,1211.5 1044.0,1211.5 1047.0,1211.5 1050.0,1211.5 1053.0,1211.5 1056.0,1211.5 1059.0,1211.5 1062.0,1211.5 1065.0,1211.5 1068.0,1211.5 1071.0,1211.5 1074.0,1211.5 1077.0,1211.5 1080.0,1211.5 1083.0,1211.5 1086.0,1211.5 1089.0,1211.5 1092.0,1211.5 1095.0,1211.5 1098.0,1211.5 1101.0,1211.5 1104.0,1211.5 1107.0,1211.5 1110.0,1211.5 1113.0,1211.5 1116.0,1211.5 1119.0,1211.5 1122.0,1211.5 1125.0,1211.6 1128.0,1211.6 1131.0,1211.6 1134.0,1211.6 1137.0,1211.6 1140.0,1211.6 1143.0,1211.6 1146.0,1211.6 1149.0,1211.6 1152.0,1211.6 1155.0,1211.6 1158.0,1211.6 1161.0,1211.6 1164.0,1211.6 1167.0,1211.6 1170.0,1211.6 1173.0,1211.6 1176.0,1211.6 1179.0,1211.6 1182.0,1211.6 1185.0,1211.6 1188.0,1211.6 1191.0,1211.6 1194.0,1211.6 1197.0,1211.6 1200.0,1211.6 1203.0,1211.6 1206.0,1211.6 1209.0,1211.6 1212.0,1211.6 1215.0,1211.6 1218.0,1211.6 1221.0,1211.6 1224.0,1211.6 1227.0,1211.6 1230.0,1211.6 1233.0,1211.6 1236.0,1211.6 1239.0,1211.6 1242.0,1211.6 1245.0,1211.6 1248.0,1211.6 1251.0,1211.6 1254.0,1211.6 1257.0,1211.6 1260.0,1211.6 1263.0,1211.6 1266.0,1211.6 1269.0,1211.6 1272.0,1211.6 1275.0,1211.6 1278.0,1211.6 1281.0,1211.6 1284.0,1211.6 1287.0,1211.6 1290.0,1211.6 1293.0,1211.6 1296.0,1211.6 1299.0,1211.6 1302.0,1211.6 1305.0,1211.6 1308.0,1211.6 1311.0,1211.6 1314.0,1211.6 1317.0,1211.6 1320.0,1211.6 1323.0,1211.6 1326.0,1211.6 1329.0,1211.6 1332.0,1211.6 1335.0,1211.6 1338.0,1211.6 1341.0,1211.6 1344.0,1211.7 1347.0,1211.7 1350.0,1211.7 1353.0,1211.7 1356.0,1211.7 1359.0,1211.7 1362.0,1211.7 1365.0,1211.7 1368.0,1211.7 1371.0,1211.7 1374.0,1211.7 1377.0,1211.7 1380.0,1211.7 1383.0,1211.7 1386.0,1211.7 1389.0,1211.7 1392.0,1211.7 1395.0,1211.7 1398.0,1211.7 1401.0,1211.7 1404.0,1211.7 1407.0,1211.7 1410.0,1211.7 1413.0,1211.7 1416.0,1211.7 1419.0,1211.7 1422.0,1211.7 1425.0,1211.7 1428.0,1211.7 1431.0,1211.7 1434.0,1211.7 1437.0,1211.7 1440.0,1211.7 1443.0,1211.7 1446.0,1211.7 1449.0,1211.7 1452.0,1211.7 1455.0,1211.7 1458.0,1211.7 1461.0,1211.7 1464.0,1211.7 1467.0,1211.7 1470.0,1211.7 1473.0,1211.7 1476.0,1211.7 1479.0,1211.7 1482.0,1211.7 1485.0,1211.7 1488.0,1211.7 1491.0,1211.7 1494.0,1211.7 1497.0,1211.7 1500.0,1211.7 1503.0,1211.7 1506.0,1211.7 1509.0,1211.7 1512.0,1211.7 1515.0,1211.7 1518.0,1211.7 1521.0,1211.7 1524.0,1211.7 1527.0,1211.7 1530.0,1211.7 1533.0,1211.7 1536.0,1211.7 1539.0,1211.7 1542.0,1211.7 1545.0,1211.7 1548.0,1211.7 1551.0,1211.7 1554.0,1211.7 1557.0,1211.7 1560.0,1211.7 1563.0,1211.7 1566.0,1211.7 1569.0,1211.7 1572.0,1211.7 1575.0,1211.7 1578.0,1211.7 1581.0,1211.7 1584.0,1211.7 1587.0,1211.7 1590.0,1211.7 1593.0,1211.7 1596.0,1211.7 1599.0,1211.7 1602.0,1211.7 1605.0,1211.7 1608.0,1211.7 1611.0,1211.7 1614.0,1211.7 1617.0,1211.7 1620.0,1211.7 1623.0,1211.7 1626.0,1211.7 1629.0,1211.7 1632.0,1211.7 1635.0,1211.7 1638.0,1211.7 1641.0,1211.7 1644.0,1211.7 1647.0,1211.7 1650.0,1211.7 1653.0,1211.7 1656.0,1211.7 1659.0,1211.7 1662.0,1211.7 1665.0,1211.7 1668.0,1211.7 1671.0,1211.7 1674.0,1211.7 1677.0,1211.7 1680.0,1211.7 1683.0,1211.7 1686.0,1211.7 1689.0,1211.7 1692.0,1211.7 1695.0,1211.7 1698.0,1211.7 1701.0,1211.7 1704.0,1211.7 1707.0,1211.7 1710.0,1211.7 1713.0,1211.7 1716.0,1211.7 1719.0,1211.7 1722.0,1211.7 1725.0,1211.7 1728.0,1211.7 1731.0,1211.7 1734.0,1211.7 1737.0,1211.7 1740.0,1211.7 1743.0,1211.7 1746.0,1211.7 1749.0,1211.7 1752.0,1211.7 1755.0,1211.7 1758.0,1211.7 1761.0,1211.7 1764.0,1211.7 1767.0,1211.7 1770.0,1211.7 1773.0,1211.7 1776.0,1211.7 1779.0,1211.7 1782.0,1211.7 1785.0,1211.7 1788.0,1211.7 1791.0,1211.7 1794.0,1211.7 1797.0,1211.7 1800.0,1211.7 1803.0,1211.7 1806.0,1211.7 1809.0,1211.7 1812.0,1211.7 1815.0,1211.7 1818.0,1211.7 1821.0,1211.7 1824.0,1211.7 1827.0,1211.7 1830.0,1211.7 1833.0,1211.7 1836.0,1211.7 1839.0,1211.7 1842.0,1211.7 1845.0,1211.7 1848.0,1211.7 1851.0,1211.7 1854.0,1211.7 1857.0,1211.7 1860.0,1211.7 1863.0,1211.7 1866.0,1211.7 1869.0,1211.7 1870.0,1211.7" stroke="#ff8080"/><path d="M150.0,1211.7 153.0,1211.7 156.0,1211.7 159.0,1211.7 162.0,1211.7 165.0,1211.7 168.0,1211.7 171.0,1211.7 174.0,1211.7 177.0,1211.7 180.0,1211.7 183.0,1211.7 186.0,1211.7 189.0,1211.7 192.0,1211.7 195.0,1211.7 198.0,1211.7 201.0,1211.7 204.0,1211.7 207.0,1211.7 210.0,1211.7 213.0,1211.7 216.0,1211.7 219.0,1211.7 222.0,1211.7 225.0,1211.7 228.0,1211.7 231.0,1211.7 234.0,1211.7 237.0,1211.7 240.0,1211.7 243.0,1211.7 246.0,1211.7 249.0,1211.7 252.0,1211.7 255.0,1211.7 258.0,1211.7 261.0,1211.7 264.0,1211.7 267.0,1211.7 270.0,1211.7 273.0,1211.7 276.0,1211.7 279.0,1211.7 282.0,1211.7 285.0,1211.7 288.0,1211.7 291.0,1211.7 294.0,1211.7 297.0,1211.7 300.0,1211.7 303.0,1211.7 306.0,1211.7 309.0,1211.7 312.0,1211.7 315.0,1211.7 318.0,1211.7 321.0,1211.7 324.0,1211.7 327.0,1211.7 330.0,1211.7 333.0,1211.7 336.0,1211.7 339.0,1211.7 342.0,1211.7 345.0,1211.7 348.0,1211.7 351.0,1211.7 354.0,1211.7 357.0,1211.7 360.0,1211.7 363.0,1211.7 366.0,1211.7 369.0,1211.7 372.0,1211.7 375.0,1211.7 378.0,1211.7 381.0,1211.7 384.0,1211.7 387.0,1211.7 390.0,1211.7 393.0,1211.7 396.0,1211.7 399.0,1211.7 402.0,1211.7 405.0,1211.7 408.0,1211.7 411.0,1211.7 414.0,1211.7 417.0,1211.7 420.0,1211.7 423.0,1211.7 426.0,1211.7 429.0,1211.7 432.0,1211.7 435.0,1211.7 438.0,1211.7 441.0,1211.7 444.0,1211.7 447.0,1211.7 450.0,1211.7 453.0,1211.7 456.0,1211.7 459.0,1211.7 462.0,1211.7 465.0,1211.7 468.0,1211.7 471.0,1211.7 474.0,1211.6 477.0,1211.6 480.0,1211.6 483.0,1211.6 486.0,1211.6 489.0,1211.5 492.0,1211.5 495.0,1211.5 498.0,1211.5 501.0,1211.4 504.0,1211.4 507.0,1211.4 510.0,1211.3 513.0,1211.3 516.0,1211.2 519.0,1211.1 522.0,1211.1 525.0,1211.0 528.0,1210.9 531.0,1210.8 534.0,1210.7 537.0,1210.6 540.0,1210.5 543.0,1210.4 546.0,1210.2 549.0,1210.1 552.0,1209.9 555.0,1209.7 558.0,1209.5 561.0,1209.3 564.0,1209.1 567.0,1208.8 570.0,1208.5 573.0,1208.2 576.0,1207.9 579.0,1207.6 582.0,1207.2 585.0,1206.8 588.0,1206.4 591.0,1206.0 594.0,1205.5 597.0,1205.0 600.0,1204.4 603.0,1203.9 606.0,1203.3 609.0,1202.6 612.0,1201.9 615.0,1201.2 618.0,1200.4 621.0,1199.6 624.0,1198.8 627.0,1197.9 630.0,1197.0 633.0,1196.0 636.0,1195.0 639.0,1193.9 642.0,1192.8 645.0,1191.6 648.0,1190.4 651.0,1189.1 654.0,1187.8 657.0,1186.4 660.0,1185.0 663.0,1183.6 666.0,1182.1 669.0,1180.5 672.0,1178.9 675.0,1177.3 678.0,1175.6 681.0,1173.9 684.0,1172.2 687.0,1170.4 690.0,1168.6 693.0,1166.7 696.0,1164.9 699.0,1163.0 702.0,1161.1 705.0,1159.2 708.0,1157.2 711.0,1155.3 714.0,1153.4 717.0,1151.4 720.0,1149.5 723.0,1147.6 726.0,1145.7 729.0,1143.8 732.0,1141.9 735.0,1140.1 738.0,1138.3 741.0,1136.5 744.0,1134.8 747.0,1133.2 750.0,1131.6 753.0,1130.0 756.0,1128.6 759.0,1127.1 762.0,1125.8 765.0,1124.6 768.0,1123.4 771.0,1122.3 774.0,1121.3 777.0,1120.4 780.0,1119.6 783.0,1118.8 786.0,1118.2 789.0,1117.7 792.0,1117.3 795.0,1117.0 798.0,1116.8 801.0,1116.7 804.0,1116.7 807.0,1116.9 810.0,1117.1 813.0,1117.4 816.0,1117.9 819.0,1118.4 822.0,1119.1 825.0,1119.8 828.0,1120.7 831.0,1121.6 834.0,1122.6 837.0,1123.8 840.0,1125.0 843.0,1126.2 846.0,1127.6 849.0,1129.0 852.0,1130.5 855.0,1132.1 858.0,1133.7 861.0,1135.4 864.0,1137.1 867.0,1138.9 870.0,1140.7 873.0,1142.5 876.0,1144.4 879.0,1146.3 882.0,1148.2 885.0,1150.1 888.0,1152.1 891.0,1154.0 894.0,1155.9 897.0,1157.9 900.0,1159.8 903.0,1161.7 906.0,1163.6 909.0,1165.5 912.0,1167.3 915.0,1169.2 918.0,1171.0 921.0,1172.7 924.0,1174.5 927.0,1176.2 930.0,1177.8 933.0,1179.5 936.0,1181.0 939.0,1182.6 942.0,1184.0 945.0,1185.5 948.0,1186.9 951.0,1188.2 954.0,1189.5 957.0,1190.8 960.0,1192.0 963.0,1193.1 966.0,1194.2 969.0,1195.3 972.0,1196.3 975.0,1197.3 978.0,1198.2 981.0,1199.1 984.0,1199.9 987.0,1200.7 990.0,1201.5 993.0,1202.2 996.0,1202.8 999.0,1203.5 1002.0,1204.1 1005.0,1204.6 1008.0,1205.2 1011.0,1205.7 1014.0,1206.1 1017.0,1206.6 1020.0,1207.0 1023.0,1207.3 1026.0,1207.7 1029.0,1208.0 1032.0,1208.3 1035.0,1208.6 1038.0,1208.9 1041.0,1209.1 1044.0,1209.4 1047.0,1209.6 1050.0,1209.8 1053.0,1209.9 1056.0,1210.1 1059.0,1210.3 1062.0,1210.4 1065.0,1210.5 1068.0,1210.6 1071.0,1210.7 1074.0,1210.8 1077.0,1210.9 1080.0,1211.0 1083.0,1211.1 1086.0,1211.2 1089.0,1211.2 1092.0,1211.3 1095.0,1211.3 1098.0,1211.4 1101.0,1211.4 1104.0,1211.4 1107.0,1211.5 1110.0,1211.5 1113.0,1211.5 1116.0,1211.6 1119.0,1211.6 1122.0,1211.6 1125.0,1211.6 1128.0,1211.6 1131.0,1211.6 1134.0,1211.7 1137.0,1211.7 1140.0,1211.7 1143.0,1211.7 1146.0,1211.7 1149.0,1211.7 1152.0,1211.7 1155.0,1211.7 1158.0,1211.7 1161.0,1211.7 1164.0,1211.7 1167.0,1211.7 1170.0,1211.7 1173.0,1211.7 1176.0,1211.7 1179.0,1211.7 1182.0,1211.7 1185.0,1211.7 1188.0,1211.7 1191.0,1211.7 1194.0,1211.7 1197.0,1211.7 1200.0,1211.7 1203.0,1211.7 1206.0,1211.7 1209.0,1211.7 1212.0,1211.7 1215.0,1211.7 1218.0,1211.7 1221.0,1211.7 1224.0,1211.7 1227.0,1211.7 1230.0,1211.7 1233.0,1211.7 1236.0,1211.7 1239.0,1211.7 1242.0,1211.7 1245.0,1211.7 1248.0,1211.7 1251.0,1211.7 1254.0,1211.7 1257.0,1211.7 1260.0,1211.7 1263.0,1211.7 1266.0,1211.7 1269.0,1211.7 1272.0,1211.7 1275.0,1211.7 1278.0,1211.7 1281.0,1211.7 1284.0,1211.7 1287.0,1211.7 1290.0,1211.7 1293.0,1211.7 1296.0,1211.7 1299.0,1211.7 1302.0,1211.7 1305.0,1211.7 1308.0,1211.7 1311.0,1211.7 1314.0,1211.7 1317.0,1211.7 1320.0,1211.7 1323.0,1211.7 1326.0,1211.7 1329.0,1211.7 1332.0,1211.7 1335.0,1211.7 1338.0,1211.7 1341.0,1211.7 1344.0,1211.7 1347.0,1211.7 1350.0,1211.7 1353.0,1211.7 1356.0,1211.7 1359.0,1211.7 1362.0,1211.7 1365.0,1211.7 1368.0,1211.7 1371.0,1211.7 1374.0,1211.7 1377.0,1211.7 1380.0,1211.7 1383.0,1211.7 1386.0,1211.7 1389.0,1211.7 1392.0,1211.7 1395.0,1211.7 1398.0,1211.7 1401.0,1211.7 1404.0,1211.7 1407.0,1211.7 1410.0,1211.7 1413.0,1211.7 1416.0,1211.7 1419.0,1211.7 1422.0,1211.7 1425.0,1211.7 1428.0,1211.7 1431.0,1211.7 1434.0,1211.7 1437.0,1211.7 1440.0,1211.7 1443.0,1211.7 1446.0,1211.7 1449.0,1211.7 1452.0,1211.7 1455.0,1211.7 1458.0,1211.7 1461.0,1211.7 1464.0,1211.7 1467.0,1211.7 1470.0,1211.7 1473.0,1211.7 1476.0,1211.7 1479.0,1211.7 1482.0,1211.7 1485.0,1211.7 1488.0,1211.7 1491.0,1211.7 1494.0,1211.7 1497.0,1211.7 1500.0,1211.7 1503.0,1211.7 1506.0,1211.7 1509.0,1211.7 1512.0,1211.7 1515.0,1211.7 1518.0,1211.7 1521.0,1211.7 1524.0,1211.7 1527.0,1211.7 1530.0,1211.7 1533.0,1211.7 1536.0,1211.7 1539.0,1211.7 1542.0,1211.7 1545.0,1211.7 1548.0,1211.7 1551.0,1211.7 1554.0,1211.7 1557.0,1211.7 1560.0,1211.7 1563.0,1211.8 1566.0,1211.8 1569.0,1211.8 1572.0,1211.8 1575.0,1211.8 1578.0,1211.8 1581.0,1211.8 1584.0,1211.8 1587.0,1211.8 1590.0,1211.8 1593.0,1211.8 1596.0,1211.8 1599.0,1211.8 1602.0,1211.8 1605.0,1211.8 1608.0,1211.8 1611.0,1211.8 1614.0,1211.8 1617.0,1211.8 1620.0,1211.8 1623.0,1211.8 1626.0,1211.8 1629.0,1211.8 1632.0,1211.8 1635.0,1211.8 1638.0,1211.8 1641.0,1211.8 1644.0,1211.8 1647.0,1211.8 1650.0,1211.8 1653.0,1211.8 1656.0,1211.8 1659.0,1211.8 1662.0,1211.8 1665.0,1211.8 1668.0,1211.8 1671.0,1211.8 1674.0,1211.8 1677.0,1211.8 1680.0,1211.8 1683.0,1211.8 1686.0,1211.8 1689.0,1211.8 1692.0,1211.8 1695.0,1211.8 1698.0,1211.8 1701.0,1211.8 1704.0,1211.8 1707.0,1211.8 1710.0,1211.8 1713.0,1211.8 1716.0,1211.8 1719.0,1211.8 1722.0,1211.8 1725.0,1211.8 1728.0,1211.8 1731.0,1211.8 1734.0,1211.8 1737.0,1211.8 1740.0,1211.8 1743.0,1211.8 1746.0,1211.8 1749.0,1211.8 1752.0,1211.8 1755.0,1211.8 1758.0,1211.8 1761.0,1211.8 1764.0,1211.8 1767.0,1211.8 1770.0,1211.8 1773.0,1211.8 1776.0,1211.8 1779.0,1211.8 1782.0,1211.8 1785.0,1211.8 1788.0,1211.8 1791.0,1211.8 1794.0,1211.8 1797.0,1211.8 1800.0,1211.8 1803.0,1211.8 1806.0,1211.8 1809.0,1211.8 1812.0,1211.8 1815.0,1211.8 1818.0,1211.8 1821.0,1211.8 1824.0,1211.8 1827.0,1211.8 1830.0,1211.8 1833.0,1211.8 1836.0,1211.8 1839.0,1211.8 1842.0,1211.8 1845.0,1211.8 1848.0,1211.8 1851.0,1211.8 1854.0,1211.8 1857.0,1211.8 1860.0,1211.8 1863.0,1211.8 1866.0,1211.8 1869.0,1211.8 1870.0,1211.8" stroke="#ff8080"/><path d="M152.2,1209.8 159.1,1209.8 165.9,1209.9 172.8,1210.0 179.7,1210.1 186.6,1210.2 193.5,1210.4 200.3,1210.5 207.2,1210.6 214.1,1210.7 221.0,1210.8 227.9,1210.9 234.7,1211.0 241.6,1211.0 248.5,1211.1 255.4,1211.1 262.3,1211.1 269.1,1211.1 276.0,1211.1 282.9,1211.1 289.8,1211.1 296.7,1211.1 303.5,1211.1 310.4,1211.1 317.3,1211.0 324.2,1211.0 331.1,1211.0 337.9,1211.0 344.8,1210.9 351.7,1210.9 358.6,1210.9 365.5,1210.8 372.3,1210.8 379.2,1210.8 386.1,1210.7 393.0,1210.6 399.9,1210.5 406.7,1210.4 413.6,1210.3 420.5,1210.0 427.4,1209.7 434.3,1209.4 441.1,1208.8 448.0,1208.1 454.9,1207.2 461.8,1206.1 468.7,1204.6 475.5,1202.8 482.4,1200.5 489.3,1197.7 496.2,1194.4 503.1,1190.5 509.9,1186.1 516.8,1181.0 523.7,1175.4 530.6,1169.3 537.5,1162.7 544.3,1155.9 551.2,1149.0 558.1,1142.1 565.0,1135.5 571.9,1129.3 578.7,1123.8 585.6,1119.0 592.5,1115.3 599.4,1112.6 606.3,1111.0 613.1,1110.5 620.0,1111.0 626.9,1112.5 633.8,1114.8 640.7,1117.6 647.5,1120.9 654.4,1124.3 661.3,1127.6 668.2,1130.6 675.1,1133.2 681.9,1135.2 688.8,1136.5 695.7,1137.1 702.6,1136.8 709.5,1135.9 716.3,1134.2 723.2,1131.9 730.1,1129.1 737.0,1125.9 743.9,1122.6 750.7,1119.1 757.6,1115.7 764.5,1112.5 771.4,1109.6 778.3,1107.2 785.1,1105.2 792.0,1103.9 798.9,1103.2 805.8,1103.2 812.7,1103.9 819.5,1105.2 826.4,1107.3 833.3,1110.0 840.2,1113.3 847.1,1117.1 853.9,1121.3 860.8,1126.0 867.7,1130.9 874.6,1136.0 881.5,1141.2 888.3,1146.5 895.2,1151.7 902.1,1156.9 909.0,1161.8 915.9,1166.6 922.7,1171.1 929.6,1175.2 936.5,1179.1 943.4,1182.6 950.3,1185.8 957.1,1188.7 964.0,1191.1 970.9,1193.3 977.8,1195.1 984.7,1196.5 991.5,1197.7 998.4,1198.5 1005.3,1198.9 1012.2,1199.1 1019.1,1198.9 1025.9,1198.3 1032.8,1197.3 1039.7,1196.0 1046.6,1194.2 1053.5,1192.1 1060.3,1189.4 1067.2,1186.2 1074.1,1182.6 1081.0,1178.4 1087.9,1173.7 1094.7,1168.5 1101.6,1162.7 1108.5,1156.4 1115.4,1149.6 1122.3,1142.4 1129.1,1134.6 1136.0,1126.5 1142.9,1117.8 1149.8,1108.8 1156.7,1099.2 1163.5,1089.2 1170.4,1078.7 1177.3,1067.5 1184.2,1055.6 1191.1,1043.0 1197.9,1029.5 1204.8,1015.0 1211.7,999.5 1218.6,983.0 1225.5,965.5 1232.3,947.2 1239.2,928.2 1246.1,908.9 1253.0,889.7 1259.9,871.2 1266.7,853.9 1273.6,838.6 1280.5,825.8 1287.4,816.2 1294.3,810.2 1301.1,808.4 1308.0,810.9 1314.9,817.7 1321.8,828.8 1328.7,843.7 1335.5,862.0 1342.4,883.1 1349.3,906.4 1356.2,931.1 1363.1,956.4 1369.9,981.9 1376.8,1006.9 1383.7,1031.0 1390.6,1053.7 1397.5,1074.9 1404.3,1094.3 1411.2,1111.8 1418.1,1127.3 1425.0,1141.1 1431.9,1153.0 1438.7,1163.2 1445.6,1171.9 1452.5,1179.2 1459.4,1185.3 1466.3,1190.2 1473.1,1194.3 1480.0,1197.5 1486.9,1200.0 1493.8,1202.1 1500.7,1203.6 1507.5,1204.8 1514.4,1205.7 1521.3,1206.4 1528.2,1207.0 1535.1,1207.4 1541.9,1207.7 1548.8,1207.9 1555.7,1208.1 1562.6,1208.2 1569.5,1208.3 1576.3,1208.4 1583.2,1208.5 1590.1,1208.6 1597.0,1208.7 1603.9,1208.7 1610.7,1208.8 1617.6,1208.9 1624.5,1208.9 1631.4,1209.0 1638.3,1209.0 1645.1,1209.1 1652.0,1209.1 1658.9,1209.2 1665.8,1209.2 1672.7,1209.3 1679.5,1209.3 1686.4,1209.4 1693.3,1209.5 1700.2,1209.5 1707.1,1209.6 1713.9,1209.6 1720.8,1209.7 1727.7,1209.7 1734.6,1209.8 1741.5,1209.8 1748.3,1209.8 1755.2,1209.9 1762.1,1209.9 1769.0,1210.0 1775.9,1210.0 1782.7,1210.1 1789.6,1210.1 1796.5,1210.2 1803.4,1210.2 1810.3,1210.2 1817.1,1210.3 1824.0,1210.3 1830.9,1210.4 1837.8,1210.4 1844.7,1210.4 1851.5,1210.5 1858.4,1210.5 1865.3,1210.5" stroke="#000" stroke-width="2.4"/><g fill="#fff" stroke="#000" stroke-width="2.0"><circle cx="152.2" cy="1209.8" r="6.0"/><circle cx="159.1" cy="1209.8" r="6.0"/><circle cx="165.9" cy="1209.9" r="6.0"/><circle cx="172.8" cy="1210.0" r="6.0"/><circle cx="179.7" cy="1210.1" r="6.0"/><circle cx="186.6" cy="1210.2" r="6.0"/><circle cx="193.5" cy="1210.4" r="6.0"/><circle cx="200.3" cy="1210.5" r="6.0"/><circle cx="207.2" cy="1210.6" r="6.0"/><circle cx="214.1" cy="1210.7" r="6.0"/><circle cx="221.0" cy="1210.8" r="6.0"/><circle cx="227.9" cy="1210.9" r="6.0"/><circle cx="234.7" cy="1211.0" r="6.0"/><circle cx="241.6" cy="1211.0" r="6.0"/><circle cx="248.5" cy="1211.1" r="6.0"/><circle cx="255.4" cy="1211.1" r="6.0"/><circle cx="262.3" cy="1211.1" r="6.0"/><circle cx="269.1" cy="1211.1" r="6.0"/><circle cx="276.0" cy="1211.1" r="6.0"/><circle cx="282.9" cy="1211.1" r="6.0"/><circle cx="289.8" cy="1211.1" r="6.0"/><circle cx="296.7" cy="1211.1" r="6.0"/><circle cx="303.5" cy="1211.1" r="6.0"/><circle cx="310.4" cy="1211.1" r="6.0"/><circle cx="317.3" cy="1211.0" r="6.0"/><circle cx="324.2" cy="1211.0" r="6.0"/><circle cx="331.1" cy="1211.0" r="6.0"/><circle cx="337.9" cy="1211.0" r="6.0"/><circle cx="344.8" cy="1210.9" r="6.0"/><circle cx="351.7" cy="1210.9" r="6.0"/><circle cx="358.6" cy="1210.9" r="6.0"/><circle cx="365.5" cy="1210.8" r="6.0"/><circle cx="372.3" cy="1210.8" r="6.0"/><circle cx="379.2" cy="1210.8" r="6.0"/><circle cx="386.1" cy="1210.7" r="6.0"/><circle cx="393.0" cy="1210.6" r="6.0"/><circle cx="399.9" cy="1210.5" r="6.0"/><circle cx="406.7" cy="1210.4" r="6.0"/><circle cx="413.6" cy="1210.3" r="6.0"/><circle cx="420.5" cy="1210.0" r="6.0"/><circle cx="427.4" cy="1209.7" r="6.0"/><circle cx="434.3" cy="1209.4" r="6.0"/><circle cx="441.1" cy="1208.8" r="6.0"/><circle cx="448.0" cy="1208.1" r="6.0"/><circle cx="454.9" cy="1207.2" r="6.0"/><circle cx="461.8" cy="1206.1" r="6.0"/><circle cx="468.7" cy="1204.6" r="6.0"/><circle cx="475.5" cy="1202.8" r="6.0"/><circle cx="482.4" cy="1200.5" r="6.0"/><circle cx="489.3" cy="1197.7" r="6.0"/><circle cx="496.2" cy="1194.4" r="6.0"/><circle cx="503.1" cy="1190.5" r="6.0"/><circle cx="509.9" cy="1186.1" r="6.0"/><circle cx="516.8" cy="1181.0" r="6.0"/><circle cx="523.7" cy="1175.4" r="6.0"/><circle cx="530.6" cy="1169.3" r="6.0"/><circle cx="537.5" cy="1162.7" r="6.0"/><circle cx="544.3" cy="1155.9" r="6.0"/><circle cx="551.2" cy="1149.0" r="6.0"/><circle cx="558.1" cy="1142.1" r="6.0"/><circle cx="565.0" cy="1135.5" r="6.0"/><circle cx="571.9" cy="1129.3" r="6.0"/><circle cx="578.7" cy="1123.8" r="6.0"/><circle cx="585.6" cy="1119.0" r="6.0"/><circle cx="592.5" cy="1115.3" r="6.0"/><circle cx="599.4" cy="1112.6" r="6.0"/><circle cx="606.3" cy="1111.0" r="6.0"/><circle cx="613.1" cy="1110.5" r="6.0"/><circle cx="620.0" cy="1111.0" r="6.0"/><circle cx="626.9" cy="1112.5" r="6.0"/><circle cx="633.8" cy="1114.8" r="6.0"/><circle cx="640.7" cy="1117.6" r="6.0"/><circle cx="647.5" cy="1120.9" r="6.0"/><circle cx="654.4" cy="1124.3" r="6.0"/><circle cx="661.3" cy="1127.6" r="6.0"/><circle cx="668.2" cy="1130.6" r="6.0"/><circle cx="675.1" cy="1133.2" r="6.0"/><circle cx="681.9" cy="1135.2" r="6.0"/><circle cx="688.8" cy="1136.5" r="6.0"/><circle cx="695.7" cy="1137.1" r="6.0"/><circle cx="702.6" cy="1136.8" r="6.0"/><circle cx="709.5" cy="1135.9" r="6.0"/><circle cx="716.3" cy="1134.2" r="6.0"/><circle cx="723.2" cy="1131.9" r="6.0"/><circle cx="730.1" cy="1129.1" r="6.0"/><circle cx="737.0" cy="1125.9" r="6.0"/><circle cx="743.9" cy="1122.6" r="6.0"/><circle cx="750.7" cy="1119.1" r="6.0"/><circle cx="757.6" cy="1115.7" r="6.0"/><circle cx="764.5" cy="1112.5" r="6.0"/><circle cx="771.4" cy="1109.6" r="6.0"/><circle cx="778.3" cy="1107.2" r="6.0"/><circle cx="785.1" cy="1105.2" r="6.0"/><circle cx="792.0" cy="1103.9" r="6.0"/><circle cx="798.9" cy="1103.2" r="6.0"/><circle cx="805.8" cy="1103.2" r="6.0"/><circle cx="812.7" cy="1103.9" r="6.0"/><circle cx="819.5" cy="1105.2" r="6.0"/><circle cx="826.4" cy="1107.3" r="6.0"/><circle cx="833.3" cy="1110.0" r="6.0"/><circle cx="840.2" cy="1113.3" r="6.0"/><circle cx="847.1" cy="1117.1" r="6.0"/><circle cx="853.9" cy="1121.3" r="6.0"/><circle cx="860.8" cy="1126.0" r="6.0"/><circle cx="867.7" cy="1130.9" r="6.0"/><circle cx="874.6" cy="1136.0" r="6.0"/><circle cx="881.5" cy="1141.2" r="6.0"/><circle cx="888.3" cy="1146.5" r="6.0"/><circle cx="895.2" cy="1151.7" r="6.0"/><circle cx="902.1" cy="1156.9" r="6.0"/><circle cx="909.0" cy="1161.8" r="6.0"/><circle cx="915.9" cy="1166.6" r="6.0"/><circle cx="922.7" cy="1171.1" r="6.0"/><circle cx="929.6" cy="1175.2" r="6.0"/><circle cx="936.5" cy="1179.1" r="6.0"/><circle cx="943.4" cy="1182.6" r="6.0"/><circle cx="950.3" cy="1185.8" r="6.0"/><circle cx="957.1" cy="1188.7" r="6.0"/><circle cx="964.0" cy="1191.1" r="6.0"/><circle cx="970.9" cy="1193.3" r="6.0"/><circle cx="977.8" cy="1195.1" r="6.0"/><circle cx="984.7" cy="1196.5" r="6.0"/><circle cx="991.5" cy="1197.7" r="6.0"/><circle cx="998.4" cy="1198.5" r="6.0"/><circle cx="1005.3" cy="1198.9" r="6.0"/><circle cx="1012.2" cy="1199.1" r="6.0"/><circle cx="1019.1" cy="1198.9" r="6.0"/><circle cx="1025.9" cy="1198.3" r="6.0"/><circle cx="1032.8" cy="1197.3" r="6.0"/><circle cx="1039.7" cy="1196.0" r="6.0"/><circle cx="1046.6" cy="1194.2" r="6.0"/><circle cx="1053.5" cy="1192.1" r="6.0"/><circle cx="1060.3" cy="1189.4" r="6.0"/><circle cx="1067.2" cy="1186.2" r="6.0"/><circle cx="1074.1" cy="1182.6" r="6.0"/><circle cx="1081.0" cy="1178.4" r="6.0"/><circle cx="1087.9" cy="1173.7" r="6.0"/><circle cx="1094.7" cy="1168.5" r="6.0"/><circle cx="1101.6" cy="1162.7" r="6.0"/><circle cx="1108.5" cy="1156.4" r="6.0"/><circle cx="1115.4" cy="1149.6" r="6.0"/><circle cx="1122.3" cy="1142.4" r="6.0"/><circle cx="1129.1" cy="1134.6" r="6.0"/><circle cx="1136.0" cy="1126.5" r="6.0"/><circle cx="1142.9" cy="1117.8" r="6.0"/><circle cx="1149.8" cy="1108.8" r="6.0"/><circle cx="1156.7" cy="1099.2" r="6.0"/><circle cx="1163.5" cy="1089.2" r="6.0"/><circle cx="1170.4" cy="1078.7" r="6.0"/><circle cx="1177.3" cy="1067.5" r="6.0"/><circle cx="1184.2" cy="1055.6" r="6.0"/><circle cx="1191.1" cy="1043.0" r="6.0"/><circle cx="1197.9" cy="1029.5" r="6.0"/><circle cx="1204.8" cy="1015.0" r="6.0"/><circle cx="1211.7" cy="999.5" r="6.0"/><circle cx="1218.6" cy="983.0" r="6.0"/><circle cx="1225.5" cy="965.5" r="6.0"/><circle cx="1232.3" cy="947.2" r="6.0"/><circle cx="1239.2" cy="928.2" r="6.0"/><circle cx="1246.1" cy="908.9" r="6.0"/><circle cx="1253.0" cy="889.7" r="6.0"/><circle cx="1259.9" cy="871.2" r="6.0"/><circle cx="1266.7" cy="853.9" r="6.0"/><circle cx="1273.6" cy="838.6" r="6.0"/><circle cx="1280.5" cy="825.8" r="6.0"/><circle cx="1287.4" cy="816.2" r="6.0"/><circle cx="1294.3" cy="810.2" r="6.0"/><circle cx="1301.1" cy="808.4" r="6.0"/><circle cx="1308.0" cy="810.9" r="6.0"/><circle cx="1314.9" cy="817.7" r="6.0"/><circle cx="1321.8" cy="828.8" r="6.0"/><circle cx="1328.7" cy="843.7" r="6.0"/><circle cx="1335.5" cy="862.0" r="6.0"/><circle cx="1342.4" cy="883.1" r="6.0"/><circle cx="1349.3" cy="906.4" r="6.0"/><circle cx="1356.2" cy="931.1" r="6.0"/><circle cx="1363.1" cy="956.4" r="6.0"/><circle cx="1369.9" cy="981.9" r="6.0"/><circle cx="1376.8" cy="1006.9" r="6.0"/><circle cx="1383.7" cy="1031.0" r="6.0"/><circle cx="1390.6" cy="1053.7" r="6.0"/><circle cx="1397.5" cy="1074.9" r="6.0"/><circle cx="1404.3" cy="1094.3" r="6.0"/><circle cx="1411.2" cy="1111.8" r="6.0"/><circle cx="1418.1" cy="1127.3" r="6.0"/><circle cx="1425.0" cy="1141.1" r="6.0"/><circle cx="1431.9" cy="1153.0" r="6.0"/><circle cx="1438.7" cy="1163.2" r="6.0"/><circle cx="1445.6" cy="1171.9" r="6.0"/><circle cx="1452.5" cy="1179.2" r="6.0"/><circle cx="1459.4" cy="1185.3" r="6.0"/><circle cx="1466.3" cy="1190.2" r="6.0"/><circle cx="1473.1" cy="1194.3" r="6.0"/><circle cx="1480.0" cy="1197.5" r="6.0"/><circle cx="1486.9" cy="1200.0" r="6.0"/><circle cx="1493.8" cy="1202.1" r="6.0"/><circle cx="1500.7" cy="1203.6" r="6.0"/><circle cx="1507.5" cy="1204.8" r="6.0"/><circle cx="1514.4" cy="1205.7" r="6.0"/><circle cx="1521.3" cy="1206.4" r="6.0"/><circle cx="1528.2" cy="1207.0" r="6.0"/><circle cx="1535.1" cy="1207.4" r="6.0"/><circle cx="1541.9" cy="1207.7" r="6.0"/><circle cx="1548.8" cy="1207.9" r="6.0"/><circle cx="1555.7" cy="1208.1" r="6.0"/><circle cx="1562.6" cy="1208.2" r="6.0"/><circle cx="1569.5" cy="1208.3" r="6.0"/><circle cx="1576.3" cy="1208.4" r="6.0"/><circle cx="1583.2" cy="1208.5" r="6.0"/><circle cx="1590.1" cy="1208.6" r="6.0"/><circle cx="1597.0" cy="1208.7" r="6.0"/><circle cx="1603.9" cy="1208.7" r="6.0"/><circle cx="1610.7" cy="1208.8" r="6.0"/><circle cx="1617.6" cy="1208.9" r="6.0"/><circle cx="1624.5" cy="1208.9" r="6.0"/><circle cx="1631.4" cy="1209.0" r="6.0"/><circle cx="1638.3" cy="1209.0" r="6.0"/><circle cx="1645.1" cy="1209.1" r="6.0"/><circle cx="1652.0" cy="1209.1" r="6.0"/><circle cx="1658.9" cy="1209.2" r="6.0"/><circle cx="1665.8" cy="1209.2" r="6.0"/><circle cx="1672.7" cy="1209.3" r="6.0"/><circle cx="1679.5" cy="1209.3" r="6.0"/><circle cx="1686.4" cy="1209.4" r="6.0"/><circle cx="1693.3" cy="1209.5" r="6.0"/><circle cx="1700.2" cy="1209.5" r="6.0"/><circle cx="1707.1" cy="1209.6" r="6.0"/><circle cx="1713.9" cy="1209.6" r="6.0"/><circle cx="1720.8" cy="1209.7" r="6.0"/><circle cx="1727.7" cy="1209.7" r="6.0"/><circle cx="1734.6" cy="1209.8" r="6.0"/><circle cx="1741.5" cy="1209.8" r="6.0"/><circle cx="1748.3" cy="1209.8" r="6.0"/><circle cx="1755.2" cy="1209.9" r="6.0"/><circle cx="1762.1" cy="1209.9" r="6.0"/><circle cx="1769.0" cy="1210.0" r="6.0"/><circle cx="1775.9" cy="1210.0" r="6.0"/><circle cx="1782.7" cy="1210.1" r="6.0"/><circle cx="1789.6" cy="1210.1" r="6.0"/><circle cx="1796.5" cy="1210.2" r="6.0"/><circle cx="1803.4" cy="1210.2" r="6.0"/><circle cx="1810.3" cy="1210.2" r="6.0"/><circle cx="1817.1" cy="1210.3" r="6.0"/><circle cx="1824.0" cy="1210.3" r="6.0"/><circle cx="1830.9" cy="1210.4" r="6.0"/><circle cx="1837.8" cy="1210.4" r="6.0"/><circle cx="1844.7" cy="1210.4" r="6.0"/><circle cx="1851.5" cy="1210.5" r="6.0"/><circle cx="1858.4" cy="1210.5" r="6.0"/><circle cx="1865.3" cy="1210.5" r="6.0"/></g></g>
<g clip-path="url(#c2)" fill="none" stroke-width="12"><path d="M1076.0,800.9 1078.0,800.7 1080.0,800.5 1082.0,800.3 1084.0,800.1 1086.0,799.9 1088.0,799.7 1090.0,799.4 1092.0,799.1 1094.0,798.9 1096.0,798.6 1098.0,798.3 1100.0,797.9 1102.0,797.6 1104.0,797.2 1106.0,796.8 1108.0,796.4 1110.0,796.0 1112.0,795.6 1114.0,795.1 1116.0,794.6 1118.0,794.0 1120.0,793.5 1122.0,792.9 1124.0,792.2 1126.0,791.6 1128.0,790.9 1130.0,790.1 1132.0,789.3 1134.0,788.5 1136.0,787.6 1138.0,786.7 1140.0,785.7 1142.0,784.7 1144.0,783.6 1146.0,782.5 1148.0,781.3 1150.0,780.0 1152.0,778.7 1154.0,777.4 1156.0,775.9 1158.0,774.4 1160.0,772.8 1162.0,771.2 1164.0,769.5 1166.0,767.7 1168.0,765.8 1170.0,763.8 1172.0,761.8 1174.0,759.7 1176.0,757.5 1178.0,755.2 1180.0,752.8 1182.0,750.4 1184.0,747.8 1186.0,745.2 1188.0,742.5 1190.0,739.7 1192.0,736.8 1194.0,733.8 1196.0,730.7 1198.0,727.6 1200.0,724.4 1202.0,721.1 1204.0,717.7 1206.0,714.2 1208.0,710.6 1210.0,707.0 1212.0,703.3 1214.0,699.6 1216.0,695.7 1218.0,691.9 1220.0,687.9 1222.0,683.9 1224.0,679.9 1226.0,675.8 1228.0,671.7 1230.0,667.6 1232.0,663.4 1234.0,659.3 1236.0,655.1 1238.0,650.9 1240.0,646.7 1242.0,642.6 1244.0,638.4 1246.0,634.3 1248.0,630.3 1250.0,626.3 1252.0,622.3 1254.0,618.5 1256.0,614.7 1258.0,611.0 1260.0,607.4 1262.0,603.9 1264.0,600.5 1266.0,597.3 1268.0,594.2 1270.0,591.3 1272.0,588.5 1274.0,585.9 1276.0,583.5 1278.0,581.3 1280.0,579.4 1282.0,577.6 1284.0,576.0 1286.0,574.7 1288.0,573.6 1290.0,572.8 1292.0,572.2 1294.0,571.8 1296.0,571.7 1298.0,571.9 1300.0,572.3 1302.0,572.9 1304.0,573.8 1306.0,574.9 1308.0,576.3 1310.0,577.8 1312.0,579.6 1314.0,581.7 1316.0,583.9 1318.0,586.3 1320.0,588.9 1322.0,591.7 1324.0,594.6 1326.0,597.8 1328.0,601.0 1330.0,604.4 1332.0,607.9 1334.0,611.5 1336.0,615.2 1338.0,619.0 1340.0,622.9 1342.0,626.9 1344.0,630.9 1346.0,635.0 1348.0,639.1 1350.0,643.2 1352.0,647.4 1354.0,651.5 1356.0,655.7 1358.0,659.9 1360.0,664.1 1362.0,668.2 1364.0,672.3 1366.0,676.5 1368.0,680.5 1370.0,684.5 1372.0,688.5 1374.0,692.4 1376.0,696.3 1378.0,700.1 1380.0,703.9 1382.0,707.6 1384.0,711.2 1386.0,714.7 1388.0,718.2 1390.0,721.6 1392.0,724.9 1394.0,728.1 1396.0,731.2 1398.0,734.3 1400.0,737.2 1402.0,740.1 1404.0,742.9 1406.0,745.6 1408.0,748.2 1410.0,750.7 1412.0,753.2 1414.0,755.5 1416.0,757.8 1418.0,760.0 1420.0,762.1 1422.0,764.1 1424.0,766.1 1426.0,767.9 1428.0,769.7 1430.0,771.4 1432.0,773.1 1434.0,774.6 1436.0,776.1 1438.0,777.6 1440.0,778.9 1442.0,780.2 1444.0,781.5 1446.0,782.7 1448.0,783.8 1450.0,784.9 1452.0,785.9 1454.0,786.8 1456.0,787.7 1458.0,788.6 1460.0,789.4 1462.0,790.2 1464.0,791.0 1466.0,791.7 1468.0,792.3 1470.0,793.0 1472.0,793.6 1474.0,794.1 1476.0,794.6 1477.0,794.9" stroke="#00ff00"/><path d="M916.0,806.0 918.0,806.0 920.0,805.9 922.0,805.9 924.0,805.8 926.0,805.8 928.0,805.7 930.0,805.7 932.0,805.6 934.0,805.5 936.0,805.5 938.0,805.4 940.0,805.4 942.0,805.3 944.0,805.2 946.0,805.2 948.0,805.1 950.0,805.0 952.0,804.9 954.0,804.9 956.0,804.8 958.0,804.7 960.0,804.6 962.0,804.5 964.0,804.5 966.0,804.4 968.0,804.3 970.0,804.2 972.0,804.1 974.0,804.0 976.0,803.9 978.0,803.8 980.0,803.7 982.0,803.6 984.0,803.5 986.0,803.4 988.0,803.3 990.0,803.2 992.0,803.1 994.0,803.0 996.0,802.9 998.0,802.8 1000.0,802.7 1002.0,802.5 1004.0,802.4 1006.0,802.3 1008.0,802.2 1010.0,802.0 1012.0,801.9 1014.0,801.8 1016.0,801.6 1018.0,801.5 1020.0,801.4 1022.0,801.2 1024.0,801.1 1026.0,801.0 1028.0,800.8 1030.0,800.7 1032.0,800.5 1034.0,800.4 1036.0,800.2 1038.0,800.1 1040.0,799.9 1042.0,799.7 1044.0,799.6 1046.0,799.4 1048.0,799.3 1050.0,799.1 1052.0,798.9 1054.0,798.8 1056.0,798.6 1058.0,798.4 1060.0,798.3 1062.0,798.1 1064.0,797.9 1066.0,797.7 1068.0,797.6 1070.0,797.4 1072.0,797.2 1074.0,797.0 1076.0,796.9 1078.0,796.7 1080.0,796.5 1082.0,796.3 1084.0,796.1 1086.0,796.0 1088.0,795.8 1090.0,795.6 1092.0,795.4 1094.0,795.2 1096.0,795.1 1098.0,794.9 1100.0,794.7 1102.0,794.5 1104.0,794.4 1106.0,794.2 1108.0,794.0 1110.0,793.8 1112.0,793.7 1114.0,793.5 1116.0,793.3 1118.0,793.2 1120.0,793.0 1122.0,792.9 1124.0,792.7 1126.0,792.6 1128.0,792.4 1130.0,792.3 1132.0,792.2 1134.0,792.0 1136.0,791.9 1138.0,791.8 1140.0,791.6 1142.0,791.5 1144.0,791.4 1146.0,791.3 1148.0,791.2 1150.0,791.1 1152.0,791.0 1154.0,791.0 1156.0,790.9 1158.0,790.8 1160.0,790.8 1162.0,790.7 1164.0,790.7 1166.0,790.6 1168.0,790.6 1170.0,790.6 1172.0,790.6 1174.0,790.5 1176.0,790.5 1178.0,790.5 1180.0,790.6 1182.0,790.6 1184.0,790.6 1186.0,790.6 1188.0,790.7 1190.0,790.7 1192.0,790.8 1194.0,790.8 1196.0,790.9 1198.0,791.0 1200.0,791.0 1202.0,791.1 1204.0,791.2 1206.0,791.3 1208.0,791.4 1210.0,791.5 1212.0,791.6 1214.0,791.8 1216.0,791.9 1218.0,792.0 1220.0,792.2 1222.0,792.3 1224.0,792.4 1226.0,792.6 1228.0,792.7 1230.0,792.9 1232.0,793.0 1234.0,793.2 1236.0,793.3 1238.0,793.5 1240.0,793.7 1242.0,793.8 1244.0,794.0 1246.0,794.2 1248.0,794.4 1250.0,794.5 1252.0,794.7 1254.0,794.9 1256.0,795.1 1258.0,795.2 1260.0,795.4 1262.0,795.6 1264.0,795.8 1266.0,796.0 1268.0,796.1 1270.0,796.3 1272.0,796.5 1274.0,796.7 1276.0,796.9 1278.0,797.0 1280.0,797.2 1282.0,797.4 1284.0,797.6 1286.0,797.7 1288.0,797.9 1290.0,798.1 1292.0,798.3 1294.0,798.4 1296.0,798.6 1298.0,798.8 1300.0,798.9 1302.0,799.1 1304.0,799.3 1306.0,799.4 1308.0,799.6 1310.0,799.7 1312.0,799.9 1314.0,800.1 1316.0,800.2 1318.0,800.4 1320.0,800.5 1322.0,800.7 1324.0,800.8 1326.0,801.0 1328.0,801.1 1330.0,801.2 1332.0,801.4 1334.0,801.5 1336.0,801.6 1338.0,801.8 1340.0,801.9 1342.0,802.0 1344.0,802.2 1346.0,802.3 1348.0,802.4 1350.0,802.5 1352.0,802.7 1354.0,802.8 1356.0,802.9 1358.0,803.0 1360.0,803.1 1362.0,803.2 1364.0,803.3 1366.0,803.4 1368.0,803.5 1370.0,803.6 1372.0,803.7 1374.0,803.8 1376.0,803.9 1378.0,804.0 1380.0,804.1 1382.0,804.2 1384.0,804.3 1386.0,804.4 1388.0,804.5 1390.0,804.5 1392.0,804.6 1394.0,804.7 1396.0,804.8 1398.0,804.9 1400.0,804.9 1402.0,805.0 1404.0,805.1 1406.0,805.2 1408.0,805.2 1410.0,805.3 1412.0,805.4 1414.0,805.4 1416.0,805.5 1418.0,805.5 1420.0,805.6 1422.0,805.7 1424.0,805.7 1426.0,805.8 1428.0,805.8 1430.0,805.9 1432.0,805.9 1434.0,806.0 1436.0,806.0 1438.0,806.1 1440.0,806.1 1442.0,806.2 1444.0,806.2 1446.0,806.3 1448.0,806.3 1450.0,806.4 1452.0,806.4 1454.0,806.4 1456.0,806.5 1458.0,806.5 1460.0,806.6 1462.0,806.6 1464.0,806.6 1466.0,806.7 1468.0,806.7 1469.5,806.7" stroke="#00ffff"/><path d="M150.0,808.8 153.0,808.8 156.0,808.8 159.0,808.8 162.0,808.8 165.0,808.8 168.0,808.8 171.0,808.8 174.0,808.8 177.0,808.8 180.0,808.8 183.0,808.8 186.0,808.8 189.0,808.8 192.0,808.8 195.0,808.8 198.0,808.8 201.0,808.8 204.0,808.8 207.0,808.8 210.0,808.8 213.0,808.8 216.0,808.8 219.0,808.8 222.0,808.8 225.0,808.8 228.0,808.8 231.0,808.8 234.0,808.8 237.0,808.8 240.0,808.8 243.0,808.8 246.0,808.8 249.0,808.8 252.0,808.8 255.0,808.8 258.0,808.8 261.0,808.8 264.0,808.8 267.0,808.8 270.0,808.8 273.0,808.8 276.0,808.8 279.0,808.8 282.0,808.8 285.0,808.8 288.0,808.8 291.0,808.8 294.0,808.8 297.0,808.8 300.0,808.8 303.0,808.8 306.0,808.8 309.0,808.8 312.0,808.8 315.0,808.8 318.0,808.8 321.0,808.8 324.0,808.8 327.0,808.8 330.0,808.8 333.0,808.8 336.0,808.8 339.0,808.8 342.0,808.8 345.0,808.8 348.0,808.8 351.0,808.8 354.0,808.8 357.0,808.7 360.0,808.7 363.0,808.7 366.0,808.7 369.0,808.7 372.0,808.7 375.0,808.6 378.0,808.6 381.0,808.6 384.0,808.5 387.0,808.5 390.0,808.5 393.0,808.4 396.0,808.3 399.0,808.3 402.0,808.2 405.0,808.1 408.0,808.1 411.0,808.0 414.0,807.9 417.0,807.8 420.0,807.6 423.0,807.5 426.0,807.4 429.0,807.2 432.0,807.0 435.0,806.9 438.0,806.7 441.0,806.4 444.0,806.2 447.0,806.0 450.0,805.7 453.0,805.4 456.0,805.1 459.0,804.7 462.0,804.4 465.0,804.0 468.0,803.6 471.0,803.1 474.0,802.6 477.0,802.1 480.0,801.6 483.0,801.0 486.0,800.4 489.0,799.8 492.0,799.1 495.0,798.4 498.0,797.7 501.0,796.9 504.0,796.1 507.0,795.3 510.0,794.4 513.0,793.5 516.0,792.6 519.0,791.6 522.0,790.6 525.0,789.5 528.0,788.4 531.0,787.3 534.0,786.2 537.0,785.0 540.0,783.8 543.0,782.6 546.0,781.3 549.0,780.1 552.0,778.8 555.0,777.5 558.0,776.2 561.0,774.9 564.0,773.6 567.0,772.3 570.0,771.0 573.0,769.7 576.0,768.4 579.0,767.1 582.0,765.9 585.0,764.7 588.0,763.5 591.0,762.3 594.0,761.2 597.0,760.1 600.0,759.0 603.0,758.0 606.0,757.1 609.0,756.2 612.0,755.4 615.0,754.6 618.0,753.9 621.0,753.2 624.0,752.7 627.0,752.2 630.0,751.8 633.0,751.4 636.0,751.1 639.0,751.0 642.0,750.8 645.0,750.8 648.0,750.9 651.0,751.0 654.0,751.2 657.0,751.5 660.0,751.9 663.0,752.3 666.0,752.8 669.0,753.4 672.0,754.1 675.0,754.8 678.0,755.6 681.0,756.4 684.0,757.3 687.0,758.3 690.0,759.3 693.0,760.4 696.0,761.5 699.0,762.6 702.0,763.8 705.0,765.0 708.0,766.2 711.0,767.5 714.0,768.8 717.0,770.0 720.0,771.3 723.0,772.7 726.0,774.0 729.0,775.3 732.0,776.6 735.0,777.9 738.0,779.2 741.0,780.4 744.0,781.7 747.0,782.9 750.0,784.1 753.0,785.3 756.0,786.5 759.0,787.6 762.0,788.7 765.0,789.8 768.0,790.8 771.0,791.8 774.0,792.8 777.0,793.8 780.0,794.7 783.0,795.5 786.0,796.4 789.0,797.2 792.0,797.9 795.0,798.6 798.0,799.3 801.0,800.0 804.0,800.6 807.0,801.2 810.0,801.8 813.0,802.3 816.0,802.8 819.0,803.2 822.0,803.7 825.0,804.1 828.0,804.5 831.0,804.8 834.0,805.2 837.0,805.5 840.0,805.8 843.0,806.0 846.0,806.3 849.0,806.5 852.0,806.7 855.0,806.9 858.0,807.1 861.0,807.3 864.0,807.4 867.0,807.6 870.0,807.7 873.0,807.8 876.0,807.9 879.0,808.0 882.0,808.1 885.0,808.2 888.0,808.2 891.0,808.3 894.0,808.4 897.0,808.4 900.0,808.5 903.0,808.5 906.0,808.5 909.0,808.6 912.0,808.6 915.0,808.6 918.0,808.7 921.0,808.7 924.0,808.7 927.0,808.7 930.0,808.7 933.0,808.8 936.0,808.8 939.0,808.8 942.0,808.8 945.0,808.8 948.0,808.8 951.0,808.8 954.0,808.8 957.0,808.8 960.0,808.8 963.0,808.8 966.0,808.8 969.0,808.8 972.0,808.8 975.0,808.8 978.0,808.8 981.0,808.8 984.0,808.8 987.0,808.8 990.0,808.8 993.0,808.8 996.0,808.8 999.0,808.8 1002.0,808.8 1005.0,808.8 1008.0,808.8 1011.0,808.8 1014.0,808.8 1017.0,808.8 1020.0,808.8 1023.0,808.8 1026.0,808.8 1029.0,808.8 1032.0,808.8 1035.0,808.8 1038.0,808.8 1041.0,808.8 1044.0,808.8 1047.0,808.8 1050.0,808.8 1053.0,808.8 1056.0,808.8 1059.0,808.8 1062.0,808.8 1065.0,808.8 1068.0,808.8 1071.0,808.8 1074.0,808.8 1077.0,808.8 1080.0,808.8 1083.0,808.8 1086.0,808.8 1089.0,808.8 1092.0,808.8 1095.0,808.8 1098.0,808.8 1101.0,808.8 1104.0,808.8 1107.0,808.8 1110.0,808.8 1113.0,808.8 1116.0,808.8 1119.0,808.8 1122.0,808.8 1125.0,808.8 1128.0,808.8 1131.0,808.8 1134.0,808.8 1137.0,808.8 1140.0,808.8 1143.0,808.8 1146.0,808.8 1149.0,808.8 1152.0,808.8 1155.0,808.8 1158.0,808.8 1161.0,808.8 1164.0,808.8 1167.0,808.8 1170.0,808.8 1173.0,808.8 1176.0,808.8 1179.0,808.8 1182.0,808.8 1185.0,808.8 1188.0,808.8 1191.0,808.8 1194.0,808.8 1197.0,808.8 1200.0,808.8 1203.0,808.8 1206.0,808.8 1209.0,808.8 1212.0,808.8 1215.0,808.8 1218.0,808.8 1221.0,808.8 1224.0,808.8 1227.0,808.8 1230.0,808.8 1233.0,808.8 1236.0,808.8 1239.0,808.8 1242.0,808.8 1245.0,808.8 1248.0,808.8 1251.0,808.8 1254.0,808.8 1257.0,808.8 1260.0,808.8 1263.0,808.8 1266.0,808.8 1269.0,808.8 1272.0,808.8 1275.0,808.8 1278.0,808.8 1281.0,808.8 1284.0,808.8 1287.0,808.8 1290.0,808.8 1293.0,808.8 1296.0,808.8 1299.0,808.8 1302.0,808.8 1305.0,808.8 1308.0,808.8 1311.0,808.8 1314.0,808.8 1317.0,808.8 1320.0,808.9 1323.0,808.9 1326.0,808.9 1329.0,808.9 1332.0,808.9 1335.0,808.9 1338.0,808.9 1341.0,808.9 1344.0,808.9 1347.0,808.9 1350.0,808.9 1353.0,808.9 1356.0,808.9 1359.0,808.9 1362.0,808.9 1365.0,808.9 1368.0,808.9 1371.0,808.9 1374.0,808.9 1377.0,808.9 1380.0,808.9 1383.0,808.9 1386.0,808.9 1389.0,808.9 1392.0,808.9 1395.0,808.9 1398.0,808.9 1401.0,808.9 1404.0,808.9 1407.0,808.9 1410.0,808.9 1413.0,808.9 1416.0,808.9 1419.0,808.9 1422.0,808.9 1425.0,808.9 1428.0,808.9 1431.0,808.9 1434.0,808.9 1437.0,808.9 1440.0,808.9 1443.0,808.9 1446.0,808.9 1449.0,808.9 1452.0,808.9 1455.0,808.9 1458.0,808.9 1461.0,808.9 1464.0,808.9 1467.0,808.9 1470.0,808.9 1473.0,808.9 1476.0,808.9 1479.0,808.9 1482.0,808.9 1485.0,808.9 1488.0,808.9 1491.0,808.9 1494.0,808.9 1497.0,808.9 1500.0,808.9 1503.0,808.9 1506.0,808.9 1509.0,808.9 1512.0,808.9 1515.0,808.9 1518.0,808.9 1521.0,808.9 1524.0,808.9 1527.0,808.9 1530.0,808.9 1533.0,808.9 1536.0,808.9 1539.0,808.9 1542.0,808.9 1545.0,808.9 1548.0,808.9 1551.0,808.9 1554.0,808.9 1557.0,808.9 1560.0,808.9 1563.0,808.9 1566.0,808.9 1569.0,808.9 1572.0,808.9 1575.0,808.9 1578.0,808.9 1581.0,808.9 1584.0,808.9 1587.0,808.9 1590.0,808.9 1593.0,808.9 1596.0,808.9 1599.0,808.9 1602.0,808.9 1605.0,808.9 1608.0,808.9 1611.0,808.9 1614.0,808.9 1617.0,808.9 1620.0,808.9 1623.0,808.9 1626.0,808.9 1629.0,808.9 1632.0,808.9 1635.0,808.9 1638.0,808.9 1641.0,808.9 1644.0,808.9 1647.0,808.9 1650.0,808.9 1653.0,808.9 1656.0,808.9 1659.0,808.9 1662.0,808.9 1665.0,808.9 1668.0,808.9 1671.0,808.9 1674.0,808.9 1677.0,808.9 1680.0,808.9 1683.0,808.9 1686.0,808.9 1689.0,808.9 1692.0,808.9 1695.0,808.9 1698.0,808.9 1701.0,808.9 1704.0,808.9 1707.0,808.9 1710.0,808.9 1713.0,808.9 1716.0,808.9 1719.0,808.9 1722.0,808.9 1725.0,808.9 1728.0,808.9 1731.0,808.9 1734.0,808.9 1737.0,808.9 1740.0,808.9 1743.0,808.9 1746.0,808.9 1749.0,808.9 1752.0,808.9 1755.0,808.9 1758.0,808.9 1761.0,808.9 1764.0,808.9 1767.0,808.9 1770.0,808.9 1773.0,808.9 1776.0,808.9 1779.0,808.9 1782.0,808.9 1785.0,808.9 1788.0,808.9 1791.0,808.9 1794.0,808.9 1797.0,808.9 1800.0,808.9 1803.0,808.9 1806.0,808.9 1809.0,808.9 1812.0,808.9 1815.0,808.9 1818.0,808.9 1821.0,808.9 1824.0,808.9 1827.0,808.9 1830.0,808.9 1833.0,808.9 1836.0,808.9 1839.0,808.9 1842.0,808.9 1845.0,808.9 1848.0,808.9 1851.0,808.9 1854.0,808.9 1857.0,808.9 1860.0,808.9 1863.0,808.9 1866.0,808.9 1869.0,808.9 1870.0,808.9" stroke="#ff8080"/><path d="M150.0,808.6 153.0,808.6 156.0,808.6 159.0,808.6 162.0,808.6 165.0,808.6 168.0,808.6 171.0,808.6 174.0,808.6 177.0,808.6 180.0,808.6 183.0,808.6 186.0,808.6 189.0,808.6 192.0,808.6 195.0,808.6 198.0,808.6 201.0,808.6 204.0,808.6 207.0,808.6 210.0,808.6 213.0,808.6 216.0,808.6 219.0,808.6 222.0,808.6 225.0,808.6 228.0,808.6 231.0,808.6 234.0,808.6 237.0,808.6 240.0,808.6 243.0,808.6 246.0,808.6 249.0,808.6 252.0,808.6 255.0,808.6 258.0,808.6 261.0,808.6 264.0,808.6 267.0,808.6 270.0,808.5 273.0,808.5 276.0,808.5 279.0,808.5 282.0,808.5 285.0,808.5 288.0,808.5 291.0,808.5 294.0,808.5 297.0,808.5 300.0,808.5 303.0,808.5 306.0,808.5 309.0,808.5 312.0,808.5 315.0,808.5 318.0,808.5 321.0,808.5 324.0,808.5 327.0,808.5 330.0,808.5 333.0,808.5 336.0,808.5 339.0,808.5 342.0,808.4 345.0,808.4 348.0,808.4 351.0,808.4 354.0,808.4 357.0,808.4 360.0,808.4 363.0,808.4 366.0,808.4 369.0,808.4 372.0,808.4 375.0,808.4 378.0,808.4 381.0,808.4 384.0,808.4 387.0,808.4 390.0,808.4 393.0,808.3 396.0,808.3 399.0,808.3 402.0,808.3 405.0,808.3 408.0,808.3 411.0,808.3 414.0,808.3 417.0,808.3 420.0,808.3 423.0,808.3 426.0,808.3 429.0,808.3 432.0,808.2 435.0,808.2 438.0,808.2 441.0,808.2 444.0,808.2 447.0,808.2 450.0,808.2 453.0,808.2 456.0,808.2 459.0,808.1 462.0,808.1 465.0,808.1 468.0,808.1 471.0,808.1 474.0,808.1 477.0,808.1 480.0,808.1 483.0,808.0 486.0,808.0 489.0,808.0 492.0,808.0 495.0,808.0 498.0,808.0 501.0,808.0 504.0,807.9 507.0,807.9 510.0,807.9 513.0,807.9 516.0,807.9 519.0,807.8 522.0,807.8 525.0,807.8 528.0,807.8 531.0,807.8 534.0,807.7 537.0,807.7 540.0,807.7 543.0,807.6 546.0,807.6 549.0,807.6 552.0,807.5 555.0,807.5 558.0,807.5 561.0,807.4 564.0,807.4 567.0,807.3 570.0,807.3 573.0,807.2 576.0,807.2 579.0,807.1 582.0,807.0 585.0,807.0 588.0,806.9 591.0,806.8 594.0,806.7 597.0,806.6 600.0,806.5 603.0,806.4 606.0,806.2 609.0,806.1 612.0,805.9 615.0,805.8 618.0,805.6 621.0,805.4 624.0,805.2 627.0,804.9 630.0,804.7 633.0,804.4 636.0,804.1 639.0,803.8 642.0,803.4 645.0,803.1 648.0,802.7 651.0,802.2 654.0,801.8 657.0,801.3 660.0,800.7 663.0,800.2 666.0,799.5 669.0,798.9 672.0,798.2 675.0,797.5 678.0,796.7 681.0,795.9 684.0,795.0 687.0,794.1 690.0,793.2 693.0,792.2 696.0,791.1 699.0,790.0 702.0,788.9 705.0,787.7 708.0,786.5 711.0,785.3 714.0,784.0 717.0,782.6 720.0,781.3 723.0,779.9 726.0,778.4 729.0,777.0 732.0,775.5 735.0,774.0 738.0,772.5 741.0,771.0 744.0,769.5 747.0,768.0 750.0,766.5 753.0,765.1 756.0,763.6 759.0,762.2 762.0,760.8 765.0,759.5 768.0,758.2 771.0,757.0 774.0,755.8 777.0,754.8 780.0,753.8 783.0,752.8 786.0,752.0 789.0,751.3 792.0,750.7 795.0,750.2 798.0,749.9 801.0,749.6 804.0,749.5 807.0,749.5 810.0,749.6 813.0,749.8 816.0,750.2 819.0,750.6 822.0,751.2 825.0,751.9 828.0,752.7 831.0,753.6 834.0,754.6 837.0,755.7 840.0,756.8 843.0,758.0 846.0,759.3 849.0,760.6 852.0,762.0 855.0,763.4 858.0,764.9 861.0,766.3 864.0,767.8 867.0,769.3 870.0,770.8 873.0,772.3 876.0,773.8 879.0,775.3 882.0,776.8 885.0,778.2 888.0,779.7 891.0,781.1 894.0,782.4 897.0,783.8 900.0,785.1 903.0,786.3 906.0,787.6 909.0,788.7 912.0,789.9 915.0,791.0 918.0,792.0 921.0,793.0 924.0,794.0 927.0,794.9 930.0,795.8 933.0,796.6 936.0,797.4 939.0,798.1 942.0,798.8 945.0,799.5 948.0,800.1 951.0,800.7 954.0,801.2 957.0,801.7 960.0,802.2 963.0,802.6 966.0,803.0 969.0,803.4 972.0,803.7 975.0,804.1 978.0,804.4 981.0,804.7 984.0,804.9 987.0,805.1 990.0,805.4 993.0,805.6 996.0,805.8 999.0,805.9 1002.0,806.1 1005.0,806.2 1008.0,806.4 1011.0,806.5 1014.0,806.6 1017.0,806.7 1020.0,806.8 1023.0,806.9 1026.0,807.0 1029.0,807.0 1032.0,807.1 1035.0,807.2 1038.0,807.2 1041.0,807.3 1044.0,807.3 1047.0,807.4 1050.0,807.4 1053.0,807.5 1056.0,807.5 1059.0,807.5 1062.0,807.6 1065.0,807.6 1068.0,807.6 1071.0,807.7 1074.0,807.7 1077.0,807.7 1080.0,807.7 1083.0,807.8 1086.0,807.8 1089.0,807.8 1092.0,807.8 1095.0,807.9 1098.0,807.9 1101.0,807.9 1104.0,807.9 1107.0,807.9 1110.0,808.0 1113.0,808.0 1116.0,808.0 1119.0,808.0 1122.0,808.0 1125.0,808.0 1128.0,808.0 1131.0,808.1 1134.0,808.1 1137.0,808.1 1140.0,808.1 1143.0,808.1 1146.0,808.1 1149.0,808.1 1152.0,808.1 1155.0,808.2 1158.0,808.2 1161.0,808.2 1164.0,808.2 1167.0,808.2 1170.0,808.2 1173.0,808.2 1176.0,808.2 1179.0,808.2 1182.0,808.3 1185.0,808.3 1188.0,808.3 1191.0,808.3 1194.0,808.3 1197.0,808.3 1200.0,808.3 1203.0,808.3 1206.0,808.3 1209.0,808.3 1212.0,808.3 1215.0,808.3 1218.0,808.3 1221.0,808.4 1224.0,808.4 1227.0,808.4 1230.0,808.4 1233.0,808.4 1236.0,808.4 1239.0,808.4 1242.0,808.4 1245.0,808.4 1248.0,808.4 1251.0,808.4 1254.0,808.4 1257.0,808.4 1260.0,808.4 1263.0,808.4 1266.0,808.4 1269.0,808.4 1272.0,808.5 1275.0,808.5 1278.0,808.5 1281.0,808.5 1284.0,808.5 1287.0,808.5 1290.0,808.5 1293.0,808.5 1296.0,808.5 1299.0,808.5 1302.0,808.5 1305.0,808.5 1308.0,808.5 1311.0,808.5 1314.0,808.5 1317.0,808.5 1320.0,808.5 1323.0,808.5 1326.0,808.5 1329.0,808.5 1332.0,808.5 1335.0,808.5 1338.0,808.5 1341.0,808.5 1344.0,808.6 1347.0,808.6 1350.0,808.6 1353.0,808.6 1356.0,808.6 1359.0,808.6 1362.0,808.6 1365.0,808.6 1368.0,808.6 1371.0,808.6 1374.0,808.6 1377.0,808.6 1380.0,808.6 1383.0,808.6 1386.0,808.6 1389.0,808.6 1392.0,808.6 1395.0,808.6 1398.0,808.6 1401.0,808.6 1404.0,808.6 1407.0,808.6 1410.0,808.6 1413.0,808.6 1416.0,808.6 1419.0,808.6 1422.0,808.6 1425.0,808.6 1428.0,808.6 1431.0,808.6 1434.0,808.6 1437.0,808.6 1440.0,808.6 1443.0,808.6 1446.0,808.6 1449.0,808.6 1452.0,808.6 1455.0,808.6 1458.0,808.6 1461.0,808.6 1464.0,808.6 1467.0,808.6 1470.0,808.7 1473.0,808.7 1476.0,808.7 1479.0,808.7 1482.0,808.7 1485.0,808.7 1488.0,808.7 1491.0,808.7 1494.0,808.7 1497.0,808.7 1500.0,808.7 1503.0,808.7 1506.0,808.7 1509.0,808.7 1512.0,808.7 1515.0,808.7 1518.0,808.7 1521.0,808.7 1524.0,808.7 1527.0,808.7 1530.0,808.7 1533.0,808.7 1536.0,808.7 1539.0,808.7 1542.0,808.7 1545.0,808.7 1548.0,808.7 1551.0,808.7 1554.0,808.7 1557.0,808.7 1560.0,808.7 1563.0,808.7 1566.0,808.7 1569.0,808.7 1572.0,808.7 1575.0,808.7 1578.0,808.7 1581.0,808.7 1584.0,808.7 1587.0,808.7 1590.0,808.7 1593.0,808.7 1596.0,808.7 1599.0,808.7 1602.0,808.7 1605.0,808.7 1608.0,808.7 1611.0,808.7 1614.0,808.7 1617.0,808.7 1620.0,808.7 1623.0,808.7 1626.0,808.7 1629.0,808.7 1632.0,808.7 1635.0,808.7 1638.0,808.7 1641.0,808.7 1644.0,808.7 1647.0,808.7 1650.0,808.7 1653.0,808.7 1656.0,808.7 1659.0,808.7 1662.0,808.7 1665.0,808.7 1668.0,808.7 1671.0,808.7 1674.0,808.7 1677.0,808.7 1680.0,808.7 1683.0,808.7 1686.0,808.7 1689.0,808.7 1692.0,808.7 1695.0,808.7 1698.0,808.7 1701.0,808.7 1704.0,808.7 1707.0,808.7 1710.0,808.7 1713.0,808.7 1716.0,808.7 1719.0,808.7 1722.0,808.7 1725.0,808.7 1728.0,808.7 1731.0,808.7 1734.0,808.7 1737.0,808.7 1740.0,808.7 1743.0,808.7 1746.0,808.8 1749.0,808.8 1752.0,808.8 1755.0,808.8 1758.0,808.8 1761.0,808.8 1764.0,808.8 1767.0,808.8 1770.0,808.8 1773.0,808.8 1776.0,808.8 1779.0,808.8 1782.0,808.8 1785.0,808.8 1788.0,808.8 1791.0,808.8 1794.0,808.8 1797.0,808.8 1800.0,808.8 1803.0,808.8 1806.0,808.8 1809.0,808.8 1812.0,808.8 1815.0,808.8 1818.0,808.8 1821.0,808.8 1824.0,808.8 1827.0,808.8 1830.0,808.8 1833.0,808.8 1836.0,808.8 1839.0,808.8 1842.0,808.8 1845.0,808.8 1848.0,808.8 1851.0,808.8 1854.0,808.8 1857.0,808.8 1860.0,808.8 1863.0,808.8 1866.0,808.8 1869.0,808.8 1870.0,808.8" stroke="#ff8080"/><path d="M152.2,806.7 159.1,806.8 165.9,806.8 172.8,806.9 179.7,807.0 186.6,807.1 193.5,807.2 200.3,807.2 207.2,807.3 214.1,807.4 221.0,807.5 227.9,807.5 234.7,807.6 241.6,807.7 248.5,807.7 255.4,807.8 262.3,807.8 269.1,807.8 276.0,807.9 282.9,807.9 289.8,807.9 296.7,807.9 303.5,807.9 310.4,807.9 317.3,807.8 324.2,807.8 331.1,807.8 337.9,807.8 344.8,807.7 351.7,807.7 358.6,807.7 365.5,807.6 372.3,807.6 379.2,807.5 386.1,807.4 393.0,807.3 399.9,807.2 406.7,807.1 413.6,807.0 420.5,806.8 427.4,806.5 434.3,806.2 441.1,805.9 448.0,805.4 454.9,804.9 461.8,804.2 468.7,803.4 475.5,802.5 482.4,801.3 489.3,800.0 496.2,798.4 503.1,796.5 509.9,794.4 516.8,792.1 523.7,789.4 530.6,786.5 537.5,783.3 544.3,779.8 551.2,776.2 558.1,772.4 565.0,768.4 571.9,764.5 578.7,760.5 585.6,756.6 592.5,752.9 599.4,749.5 606.3,746.3 613.1,743.6 620.0,741.2 626.9,739.4 633.8,738.0 640.7,737.1 647.5,736.7 654.4,736.8 661.3,737.2 668.2,738.0 675.1,738.9 681.9,740.0 688.8,741.2 695.7,742.3 702.6,743.2 709.5,744.0 716.3,744.4 723.2,744.6 730.1,744.4 737.0,743.8 743.9,743.0 750.7,741.9 757.6,740.7 764.5,739.3 771.4,738.0 778.3,736.7 785.1,735.7 792.0,735.0 798.9,734.7 805.8,734.8 812.7,735.5 819.5,736.7 826.4,738.5 833.3,740.8 840.2,743.6 847.1,746.9 853.9,750.5 860.8,754.3 867.7,758.4 874.6,762.6 881.5,766.8 888.3,770.9 895.2,774.9 902.1,778.7 909.0,782.3 915.9,785.5 922.7,788.4 929.6,791.1 936.5,793.3 943.4,795.3 950.3,797.0 957.1,798.3 964.0,799.4 970.9,800.3 977.8,800.9 984.7,801.3 991.5,801.6 998.4,801.6 1005.3,801.5 1012.2,801.3 1019.1,800.9 1025.9,800.4 1032.8,799.8 1039.7,799.1 1046.6,798.2 1053.5,797.2 1060.3,796.0 1067.2,794.7 1074.1,793.3 1081.0,791.6 1087.9,789.8 1094.7,787.7 1101.6,785.4 1108.5,782.7 1115.4,779.7 1122.3,776.3 1129.1,772.4 1136.0,768.0 1142.9,763.0 1149.8,757.4 1156.7,751.0 1163.5,743.9 1170.4,735.9 1177.3,727.0 1184.2,717.3 1191.1,706.7 1197.9,695.2 1204.8,683.0 1211.7,670.1 1218.6,656.7 1225.5,643.0 1232.3,629.1 1239.2,615.3 1246.1,602.0 1253.0,589.3 1259.9,577.5 1266.7,567.0 1273.6,557.9 1280.5,550.5 1287.4,544.9 1294.3,541.2 1301.1,539.4 1308.0,539.6 1314.9,541.7 1321.8,545.6 1328.7,551.2 1335.5,558.4 1342.4,567.2 1349.3,577.5 1356.2,589.2 1363.1,602.3 1369.9,616.5 1376.8,631.8 1383.7,647.8 1390.6,664.1 1397.5,680.5 1404.3,696.5 1411.2,711.8 1418.1,726.0 1425.0,739.0 1431.9,750.6 1438.7,760.7 1445.6,769.4 1452.5,776.8 1459.4,783.0 1466.3,788.2 1473.1,792.4 1480.0,795.8 1486.9,798.6 1493.8,800.8 1500.7,802.6 1507.5,804.0 1514.4,805.1 1521.3,806.0 1528.2,806.6 1535.1,807.1 1541.9,807.5 1548.8,807.8 1555.7,808.0 1562.6,808.2 1569.5,808.3 1576.3,808.4 1583.2,808.5 1590.1,808.5 1597.0,808.6 1603.9,808.6 1610.7,808.6 1617.6,808.7 1624.5,808.7 1631.4,808.7 1638.3,808.7 1645.1,808.7 1652.0,808.7 1658.9,808.7 1665.8,808.7 1672.7,808.7 1679.5,808.7 1686.4,808.8 1693.3,808.8 1700.2,808.8 1707.1,808.8 1713.9,808.8 1720.8,808.8 1727.7,808.8 1734.6,808.8 1741.5,808.8 1748.3,808.8 1755.2,808.8 1762.1,808.8 1769.0,808.8 1775.9,808.8 1782.7,808.8 1789.6,808.8 1796.5,808.8 1803.4,808.8 1810.3,808.8 1817.1,808.8 1824.0,808.8 1830.9,808.8 1837.8,808.8 1844.7,808.8 1851.5,808.8 1858.4,808.8 1865.3,808.8" stroke="#000" stroke-width="2.4"/><g fill="#fff" stroke="#000" stroke-width="2.0"><circle cx="152.2" cy="806.7" r="6.0"/><circle cx="159.1" cy="806.8" r="6.0"/><circle cx="165.9" cy="806.8" r="6.0"/><circle cx="172.8" cy="806.9" r="6.0"/><circle cx="179.7" cy="807.0" r="6.0"/><circle cx="186.6" cy="807.1" r="6.0"/><circle cx="193.5" cy="807.2" r="6.0"/><circle cx="200.3" cy="807.2" r="6.0"/><circle cx="207.2" cy="807.3" r="6.0"/><circle cx="214.1" cy="807.4" r="6.0"/><circle cx="221.0" cy="807.5" r="6.0"/><circle cx="227.9" cy="807.5" r="6.0"/><circle cx="234.7" cy="807.6" r="6.0"/><circle cx="241.6" cy="807.7" r="6.0"/><circle cx="248.5" cy="807.7" r="6.0"/><circle cx="255.4" cy="807.8" r="6.0"/><circle cx="262.3" cy="807.8" r="6.0"/><circle cx="269.1" cy="807.8" r="6.0"/><circle cx="276.0" cy="807.9" r="6.0"/><circle cx="282.9" cy="807.9" r="6.0"/><circle cx="289.8" cy="807.9" r="6.0"/><circle cx="296.7" cy="807.9" r="6.0"/><circle cx="303.5" cy="807.9" r="6.0"/><circle cx="310.4" cy="807.9" r="6.0"/><circle cx="317.3" cy="807.8" r="6.0"/><circle cx="324.2" cy="807.8" r="6.0"/><circle cx="331.1" cy="807.8" r="6.0"/><circle cx="337.9" cy="807.8" r="6.0"/><circle cx="344.8" cy="807.7" r="6.0"/><circle cx="351.7" cy="807.7" r="6.0"/><circle cx="358.6" cy="807.7" r="6.0"/><circle cx="365.5" cy="807.6" r="6.0"/><circle cx="372.3" cy="807.6" r="6.0"/><circle cx="379.2" cy="807.5" r="6.0"/><circle cx="386.1" cy="807.4" r="6.0"/><circle cx="393.0" cy="807.3" r="6.0"/><circle cx="399.9" cy="807.2" r="6.0"/><circle cx="406.7" cy="807.1" r="6.0"/><circle cx="413.6" cy="807.0" r="6.0"/><circle cx="420.5" cy="806.8" r="6.0"/><circle cx="427.4" cy="806.5" r="6.0"/><circle cx="434.3" cy="806.2" r="6.0"/><circle cx="441.1" cy="805.9" r="6.0"/><circle cx="448.0" cy="805.4" r="6.0"/><circle cx="454.9" cy="804.9" r="6.0"/><circle cx="461.8" cy="804.2" r="6.0"/><circle cx="468.7" cy="803.4" r="6.0"/><circle cx="475.5" cy="802.5" r="6.0"/><circle cx="482.4" cy="801.3" r="6.0"/><circle cx="489.3" cy="800.0" r="6.0"/><circle cx="496.2" cy="798.4" r="6.0"/><circle cx="503.1" cy="796.5" r="6.0"/><circle cx="509.9" cy="794.4" r="6.0"/><circle cx="516.8" cy="792.1" r="6.0"/><circle cx="523.7" cy="789.4" r="6.0"/><circle cx="530.6" cy="786.5" r="6.0"/><circle cx="537.5" cy="783.3" r="6.0"/><circle cx="544.3" cy="779.8" r="6.0"/><circle cx="551.2" cy="776.2" r="6.0"/><circle cx="558.1" cy="772.4" r="6.0"/><circle cx="565.0" cy="768.4" r="6.0"/><circle cx="571.9" cy="764.5" r="6.0"/><circle cx="578.7" cy="760.5" r="6.0"/><circle cx="585.6" cy="756.6" r="6.0"/><circle cx="592.5" cy="752.9" r="6.0"/><circle cx="599.4" cy="749.5" r="6.0"/><circle cx="606.3" cy="746.3" r="6.0"/><circle cx="613.1" cy="743.6" r="6.0"/><circle cx="620.0" cy="741.2" r="6.0"/><circle cx="626.9" cy="739.4" r="6.0"/><circle cx="633.8" cy="738.0" r="6.0"/><circle cx="640.7" cy="737.1" r="6.0"/><circle cx="647.5" cy="736.7" r="6.0"/><circle cx="654.4" cy="736.8" r="6.0"/><circle cx="661.3" cy="737.2" r="6.0"/><circle cx="668.2" cy="738.0" r="6.0"/><circle cx="675.1" cy="738.9" r="6.0"/><circle cx="681.9" cy="740.0" r="6.0"/><circle cx="688.8" cy="741.2" r="6.0"/><circle cx="695.7" cy="742.3" r="6.0"/><circle cx="702.6" cy="743.2" r="6.0"/><circle cx="709.5" cy="744.0" r="6.0"/><circle cx="716.3" cy="744.4" r="6.0"/><circle cx="723.2" cy="744.6" r="6.0"/><circle cx="730.1" cy="744.4" r="6.0"/><circle cx="737.0" cy="743.8" r="6.0"/><circle cx="743.9" cy="743.0" r="6.0"/><circle cx="750.7" cy="741.9" r="6.0"/><circle cx="757.6" cy="740.7" r="6.0"/><circle cx="764.5" cy="739.3" r="6.0"/><circle cx="771.4" cy="738.0" r="6.0"/><circle cx="778.3" cy="736.7" r="6.0"/><circle cx="785.1" cy="735.7" r="6.0"/><circle cx="792.0" cy="735.0" r="6.0"/><circle cx="798.9" cy="734.7" r="6.0"/><circle cx="805.8" cy="734.8" r="6.0"/><circle cx="812.7" cy="735.5" r="6.0"/><circle cx="819.5" cy="736.7" r="6.0"/><circle cx="826.4" cy="738.5" r="6.0"/><circle cx="833.3" cy="740.8" r="6.0"/><circle cx="840.2" cy="743.6" r="6.0"/><circle cx="847.1" cy="746.9" r="6.0"/><circle cx="853.9" cy="750.5" r="6.0"/><circle cx="860.8" cy="754.3" r="6.0"/><circle cx="867.7" cy="758.4" r="6.0"/><circle cx="874.6" cy="762.6" r="6.0"/><circle cx="881.5" cy="766.8" r="6.0"/><circle cx="888.3" cy="770.9" r="6.0"/><circle cx="895.2" cy="774.9" r="6.0"/><circle cx="902.1" cy="778.7" r="6.0"/><circle cx="909.0" cy="782.3" r="6.0"/><circle cx="915.9" cy="785.5" r="6.0"/><circle cx="922.7" cy="788.4" r="6.0"/><circle cx="929.6" cy="791.1" r="6.0"/><circle cx="936.5" cy="793.3" r="6.0"/><circle cx="943.4" cy="795.3" r="6.0"/><circle cx="950.3" cy="797.0" r="6.0"/><circle cx="957.1" cy="798.3" r="6.0"/><circle cx="964.0" cy="799.4" r="6.0"/><circle cx="970.9" cy="800.3" r="6.0"/><circle cx="977.8" cy="800.9" r="6.0"/><circle cx="984.7" cy="801.3" r="6.0"/><circle cx="991.5" cy="801.6" r="6.0"/><circle cx="998.4" cy="801.6" r="6.0"/><circle cx="1005.3" cy="801.5" r="6.0"/><circle cx="1012.2" cy="801.3" r="6.0"/><circle cx="1019.1" cy="800.9" r="6.0"/><circle cx="1025.9" cy="800.4" r="6.0"/><circle cx="1032.8" cy="799.8" r="6.0"/><circle cx="1039.7" cy="799.1" r="6.0"/><circle cx="1046.6" cy="798.2" r="6.0"/><circle cx="1053.5" cy="797.2" r="6.0"/><circle cx="1060.3" cy="796.0" r="6.0"/><circle cx="1067.2" cy="794.7" r="6.0"/><circle cx="1074.1" cy="793.3" r="6.0"/><circle cx="1081.0" cy="791.6" r="6.0"/><circle cx="1087.9" cy="789.8" r="6.0"/><circle cx="1094.7" cy="787.7" r="6.0"/><circle cx="1101.6" cy="785.4" r="6.0"/><circle cx="1108.5" cy="782.7" r="6.0"/><circle cx="1115.4" cy="779.7" r="6.0"/><circle cx="1122.3" cy="776.3" r="6.0"/><circle cx="1129.1" cy="772.4" r="6.0"/><circle cx="1136.0" cy="768.0" r="6.0"/><circle cx="1142.9" cy="763.0" r="6.0"/><circle cx="1149.8" cy="757.4" r="6.0"/><circle cx="1156.7" cy="751.0" r="6.0"/><circle cx="1163.5" cy="743.9" r="6.0"/><circle cx="1170.4" cy="735.9" r="6.0"/><circle cx="1177.3" cy="727.0" r="6.0"/><circle cx="1184.2" cy="717.3" r="6.0"/><circle cx="1191.1" cy="706.7" r="6.0"/><circle cx="1197.9" cy="695.2" r="6.0"/><circle cx="1204.8" cy="683.0" r="6.0"/><circle cx="1211.7" cy="670.1" r="6.0"/><circle cx="1218.6" cy="656.7" r="6.0"/><circle cx="1225.5" cy="643.0" r="6.0"/><circle cx="1232.3" cy="629.1" r="6.0"/><circle cx="1239.2" cy="615.3" r="6.0"/><circle cx="1246.1" cy="602.0" r="6.0"/><circle cx="1253.0" cy="589.3" r="6.0"/><circle cx="1259.9" cy="577.5" r="6.0"/><circle cx="1266.7" cy="567.0" r="6.0"/><circle cx="1273.6" cy="557.9" r="6.0"/><circle cx="1280.5" cy="550.5" r="6.0"/><circle cx="1287.4" cy="544.9" r="6.0"/><circle cx="1294.3" cy="541.2" r="6.0"/><circle cx="1301.1" cy="539.4" r="6.0"/><circle cx="1308.0" cy="539.6" r="6.0"/><circle cx="1314.9" cy="541.7" r="6.0"/><circle cx="1321.8" cy="545.6" r="6.0"/><circle cx="1328.7" cy="551.2" r="6.0"/><circle cx="1335.5" cy="558.4" r="6.0"/><circle cx="1342.4" cy="567.2" r="6.0"/><circle cx="1349.3" cy="577.5" r="6.0"/><circle cx="1356.2" cy="589.2" r="6.0"/><circle cx="1363.1" cy="602.3" r="6.0"/><circle cx="1369.9" cy="616.5" r="6.0"/><circle cx="1376.8" cy="631.8" r="6.0"/><circle cx="1383.7" cy="647.8" r="6.0"/><circle cx="1390.6" cy="664.1" r="6.0"/><circle cx="1397.5" cy="680.5" r="6.0"/><circle cx="1404.3" cy="696.5" r="6.0"/><circle cx="1411.2" cy="711.8" r="6.0"/><circle cx="1418.1" cy="726.0" r="6.0"/><circle cx="1425.0" cy="739.0" r="6.0"/><circle cx="1431.9" cy="750.6" r="6.0"/><circle cx="1438.7" cy="760.7" r="6.0"/><circle cx="1445.6" cy="769.4" r="6.0"/><circle cx="1452.5" cy="776.8" r="6.0"/><circle cx="1459.4" cy="783.0" r="6.0"/><circle cx="1466.3" cy="788.2" r="6.0"/><circle cx="1473.1" cy="792.4" r="6.0"/><circle cx="1480.0" cy="795.8" r="6.0"/><circle cx="1486.9" cy="798.6" r="6.0"/><circle cx="1493.8" cy="800.8" r="6.0"/><circle cx="1500.7" cy="802.6" r="6.0"/><circle cx="1507.5" cy="804.0" r="6.0"/><circle cx="1514.4" cy="805.1" r="6.0"/><circle cx="1521.3" cy="806.0" r="6.0"/><circle cx="1528.2" cy="806.6" r="6.0"/><circle cx="1535.1" cy="807.1" r="6.0"/><circle cx="1541.9" cy="807.5" r="6.0"/><circle cx="1548.8" cy="807.8" r="6.0"/><circle cx="1555.7" cy="808.0" r="6.0"/><circle cx="1562.6" cy="808.2" r="6.0"/><circle cx="1569.5" cy="808.3" r="6.0"/><circle cx="1576.3" cy="808.4" r="6.0"/><circle cx="1583.2" cy="808.5" r="6.0"/><circle cx="1590.1" cy="808.5" r="6.0"/><circle cx="1597.0" cy="808.6" r="6.0"/><circle cx="1603.9" cy="808.6" r="6.0"/><circle cx="1610.7" cy="808.6" r="6.0"/><circle cx="1617.6" cy="808.7" r="6.0"/><circle cx="1624.5" cy="808.7" r="6.0"/><circle cx="1631.4" cy="808.7" r="6.0"/><circle cx="1638.3" cy="808.7" r="6.0"/><circle cx="1645.1" cy="808.7" r="6.0"/><circle cx="1652.0" cy="808.7" r="6.0"/><circle cx="1658.9" cy="808.7" r="6.0"/><circle cx="1665.8" cy="808.7" r="6.0"/><circle cx="1672.7" cy="808.7" r="6.0"/><circle cx="1679.5" cy="808.7" r="6.0"/><circle cx="1686.4" cy="808.8" r="6.0"/><circle cx="1693.3" cy="808.8" r="6.0"/><circle cx="1700.2" cy="808.8" r="6.0"/><circle cx="1707.1" cy="808.8" r="6.0"/><circle cx="1713.9" cy="808.8" r="6.0"/><circle cx="1720.8" cy="808.8" r="6.0"/><circle cx="1727.7" cy="808.8" r="6.0"/><circle cx="1734.6" cy="808.8" r="6.0"/><circle cx="1741.5" cy="808.8" r="6.0"/><circle cx="1748.3" cy="808.8" r="6.0"/><circle cx="1755.2" cy="808.8" r="6.0"/><circle cx="1762.1" cy="808.8" r="6.0"/><circle cx="1769.0" cy="808.8" r="6.0"/><circle cx="1775.9" cy="808.8" r="6.0"/><circle cx="1782.7" cy="808.8" r="6.0"/><circle cx="1789.6" cy="808.8" r="6.0"/><circle cx="1796.5" cy="808.8" r="6.0"/><circle cx="1803.4" cy="808.8" r="6.0"/><circle cx="1810.3" cy="808.8" r="6.0"/><circle cx="1817.1" cy="808.8" r="6.0"/><circle cx="1824.0" cy="808.8" r="6.0"/><circle cx="1830.9" cy="808.8" r="6.0"/><circle cx="1837.8" cy="808.8" r="6.0"/><circle cx="1844.7" cy="808.8" r="6.0"/><circle cx="1851.5" cy="808.8" r="6.0"/><circle cx="1858.4" cy="808.8" r="6.0"/><circle cx="1865.3" cy="808.8" r="6.0"/></g></g>
<g clip-path="url(#c3)" fill="none" stroke-width="12"><path d="M1040.0,535.0 1042.0,534.9 1044.0,534.8 1046.0,534.7 1048.0,534.6 1050.0,534.5 1052.0,534.4 1054.0,534.2 1056.0,534.1 1058.0,533.9 1060.0,533.8 1062.0,533.6 1064.0,533.4 1066.0,533.2 1068.0,533.0 1070.0,532.8 1072.0,532.6 1074.0,532.3 1076.0,532.0 1078.0,531.8 1080.0,531.5 1082.0,531.1 1084.0,530.8 1086.0,530.4 1088.0,530.0 1090.0,529.6 1092.0,529.2 1094.0,528.7 1096.0,528.2 1098.0,527.7 1100.0,527.1 1102.0,526.5 1104.0,525.8 1106.0,525.2 1108.0,524.4 1110.0,523.7 1112.0,522.8 1114.0,522.0 1116.0,521.0 1118.0,520.0 1120.0,519.0 1122.0,517.9 1124.0,516.7 1126.0,515.5 1128.0,514.2 1130.0,512.8 1132.0,511.3 1134.0,509.8 1136.0,508.1 1138.0,506.4 1140.0,504.6 1142.0,502.7 1144.0,500.7 1146.0,498.7 1148.0,496.5 1150.0,494.2 1152.0,491.8 1154.0,489.3 1156.0,486.6 1158.0,483.9 1160.0,481.1 1162.0,478.1 1164.0,475.0 1166.0,471.8 1168.0,468.4 1170.0,465.0 1172.0,461.4 1174.0,457.6 1176.0,453.8 1178.0,449.8 1180.0,445.7 1182.0,441.5 1184.0,437.1 1186.0,432.6 1188.0,428.0 1190.0,423.2 1192.0,418.4 1194.0,413.4 1196.0,408.3 1198.0,403.1 1200.0,397.8 1202.0,392.4 1204.0,386.9 1206.0,381.2 1208.0,375.6 1210.0,369.8 1212.0,363.9 1214.0,358.0 1216.0,352.0 1218.0,346.0 1220.0,339.9 1222.0,333.8 1224.0,327.7 1226.0,321.6 1228.0,315.4 1230.0,309.3 1232.0,303.1 1234.0,297.1 1236.0,291.0 1238.0,285.0 1240.0,279.0 1242.0,273.2 1244.0,267.4 1246.0,261.7 1248.0,256.1 1250.0,250.7 1252.0,245.4 1254.0,240.2 1256.0,235.3 1258.0,230.5 1260.0,225.8 1262.0,221.4 1264.0,217.2 1266.0,213.3 1268.0,209.5 1270.0,206.1 1272.0,202.9 1274.0,199.9 1276.0,197.2 1278.0,194.9 1280.0,192.8 1282.0,191.0 1284.0,189.6 1286.0,188.4 1288.0,187.6 1290.0,187.1 1292.0,187.0 1294.0,187.1 1296.0,187.6 1298.0,188.4 1300.0,189.5 1302.0,190.9 1304.0,192.7 1306.0,194.7 1308.0,197.1 1310.0,199.7 1312.0,202.7 1314.0,205.9 1316.0,209.3 1318.0,213.0 1320.0,217.0 1322.0,221.2 1324.0,225.6 1326.0,230.2 1328.0,235.0 1330.0,239.9 1332.0,245.1 1334.0,250.4 1336.0,255.8 1338.0,261.4 1340.0,267.0 1342.0,272.8 1344.0,278.7 1346.0,284.6 1348.0,290.6 1350.0,296.7 1352.0,302.8 1354.0,308.9 1356.0,315.0 1358.0,321.2 1360.0,327.3 1362.0,333.5 1364.0,339.6 1366.0,345.6 1368.0,351.7 1370.0,357.6 1372.0,363.6 1374.0,369.4 1376.0,375.2 1378.0,380.9 1380.0,386.5 1382.0,392.0 1384.0,397.5 1386.0,402.8 1388.0,408.0 1390.0,413.1 1392.0,418.1 1394.0,422.9 1396.0,427.7 1398.0,432.3 1400.0,436.8 1402.0,441.2 1404.0,445.4 1406.0,449.6 1408.0,453.5 1410.0,457.4 1412.0,461.1 1414.0,464.7 1416.0,468.2 1418.0,471.6 1420.0,474.8 1422.0,477.9 1424.0,480.9 1426.0,483.7 1428.0,486.5 1430.0,489.1 1432.0,491.6 1434.0,494.0 1436.0,496.3 1438.0,498.5 1440.0,500.6 1442.0,502.6 1444.0,504.5 1446.0,506.3 1448.0,508.0 1450.0,509.7 1452.0,511.2 1454.0,512.7 1456.0,514.1 1458.0,515.4 1460.0,516.6 1462.0,517.8 1464.0,518.9 1466.0,520.0 1468.0,521.0 1470.0,521.9 1472.0,522.8 1474.0,523.6 1476.0,524.4 1478.0,525.1 1480.0,525.8 1482.0,526.5 1484.0,527.1 1486.0,527.6 1488.0,528.2 1490.0,528.7 1492.0,529.2 1494.0,529.6 1496.0,530.0 1498.0,530.4 1500.0,530.8 1502.0,531.1 1504.0,531.4 1506.0,531.7 1508.0,532.0 1510.0,532.3 1512.0,532.5 1514.0,532.8 1516.0,533.0 1518.0,533.2" stroke="#00ff00"/><path d="M897.0,538.0 899.0,538.0 901.0,538.0 903.0,538.0 905.0,537.9 907.0,537.9 909.0,537.9 911.0,537.8 913.0,537.8 915.0,537.8 917.0,537.7 919.0,537.7 921.0,537.7 923.0,537.6 925.0,537.6 927.0,537.5 929.0,537.5 931.0,537.4 933.0,537.4 935.0,537.4 937.0,537.3 939.0,537.2 941.0,537.2 943.0,537.1 945.0,537.1 947.0,537.0 949.0,537.0 951.0,536.9 953.0,536.8 955.0,536.8 957.0,536.7 959.0,536.6 961.0,536.5 963.0,536.4 965.0,536.4 967.0,536.3 969.0,536.2 971.0,536.1 973.0,536.0 975.0,535.8 977.0,535.7 979.0,535.6 981.0,535.5 983.0,535.4 985.0,535.2 987.0,535.1 989.0,534.9 991.0,534.8 993.0,534.6 995.0,534.4 997.0,534.3 999.0,534.1 1001.0,533.9 1003.0,533.7 1005.0,533.5 1007.0,533.2 1009.0,533.0 1011.0,532.8 1013.0,532.5 1015.0,532.3 1017.0,532.0 1019.0,531.7 1021.0,531.4 1023.0,531.1 1025.0,530.8 1027.0,530.5 1029.0,530.1 1031.0,529.8 1033.0,529.4 1035.0,529.1 1037.0,528.7 1039.0,528.3 1041.0,527.9 1043.0,527.4 1045.0,527.0 1047.0,526.6 1049.0,526.1 1051.0,525.6 1053.0,525.1 1055.0,524.6 1057.0,524.1 1059.0,523.6 1061.0,523.1 1063.0,522.5 1065.0,522.0 1067.0,521.4 1069.0,520.9 1071.0,520.3 1073.0,519.7 1075.0,519.1 1077.0,518.5 1079.0,517.9 1081.0,517.3 1083.0,516.7 1085.0,516.1 1087.0,515.4 1089.0,514.8 1091.0,514.2 1093.0,513.6 1095.0,513.0 1097.0,512.4 1099.0,511.9 1101.0,511.3 1103.0,510.7 1105.0,510.2 1107.0,509.7 1109.0,509.2 1111.0,508.7 1113.0,508.3 1115.0,507.9 1117.0,507.5 1119.0,507.2 1121.0,506.9 1123.0,506.6 1125.0,506.4 1127.0,506.2 1129.0,506.0 1131.0,505.9 1133.0,505.9 1135.0,505.9 1137.0,505.9 1139.0,506.0 1141.0,506.1 1143.0,506.3 1145.0,506.5 1147.0,506.7 1149.0,507.0 1151.0,507.3 1153.0,507.7 1155.0,508.1 1157.0,508.5 1159.0,509.0 1161.0,509.4 1163.0,510.0 1165.0,510.5 1167.0,511.0 1169.0,511.6 1171.0,512.1 1173.0,512.7 1175.0,513.3 1177.0,513.9 1179.0,514.5 1181.0,515.1 1183.0,515.7 1185.0,516.4 1187.0,517.0 1189.0,517.6 1191.0,518.2 1193.0,518.8 1195.0,519.4 1197.0,520.0 1199.0,520.6 1201.0,521.1 1203.0,521.7 1205.0,522.3 1207.0,522.8 1209.0,523.3 1211.0,523.9 1213.0,524.4 1215.0,524.9 1217.0,525.4 1219.0,525.9 1221.0,526.3 1223.0,526.8 1225.0,527.2 1227.0,527.6 1229.0,528.1 1231.0,528.5 1233.0,528.9 1235.0,529.2 1237.0,529.6 1239.0,530.0 1241.0,530.3 1243.0,530.6 1245.0,531.0 1247.0,531.3 1249.0,531.6 1251.0,531.9 1253.0,532.1 1255.0,532.4 1257.0,532.6 1259.0,532.9 1261.0,533.1 1263.0,533.4 1265.0,533.6 1267.0,533.8 1269.0,534.0 1271.0,534.2 1273.0,534.3 1275.0,534.5 1277.0,534.7 1279.0,534.9 1281.0,535.0 1283.0,535.2 1285.0,535.3 1287.0,535.4 1289.0,535.6 1291.0,535.7 1293.0,535.8 1295.0,535.9 1297.0,536.0 1299.0,536.1 1301.0,536.2 1303.0,536.3 1305.0,536.4 1307.0,536.5 1309.0,536.6 1311.0,536.6 1313.0,536.7 1315.0,536.8 1317.0,536.9 1319.0,536.9 1321.0,537.0 1323.0,537.1 1325.0,537.1 1327.0,537.2 1329.0,537.2 1331.0,537.3 1333.0,537.3 1335.0,537.4 1337.0,537.4 1339.0,537.5 1341.0,537.5 1343.0,537.6 1345.0,537.6 1347.0,537.6 1349.0,537.7 1351.0,537.7 1353.0,537.7 1355.0,537.8 1357.0,537.8 1359.0,537.8 1361.0,537.9 1363.0,537.9 1365.0,537.9 1367.0,538.0 1369.0,538.0 1370.0,538.0" stroke="#00ffff"/><path d="M150.0,539.1 153.0,539.1 156.0,539.1 159.0,539.1 162.0,539.1 165.0,539.1 168.0,539.1 171.0,539.1 174.0,539.1 177.0,539.1 180.0,539.0 183.0,539.0 186.0,539.0 189.0,539.0 192.0,539.0 195.0,539.0 198.0,539.0 201.0,539.0 204.0,539.0 207.0,539.0 210.0,538.9 213.0,538.9 216.0,538.9 219.0,538.9 222.0,538.9 225.0,538.9 228.0,538.9 231.0,538.9 234.0,538.8 237.0,538.8 240.0,538.8 243.0,538.8 246.0,538.8 249.0,538.8 252.0,538.8 255.0,538.7 258.0,538.7 261.0,538.7 264.0,538.7 267.0,538.7 270.0,538.7 273.0,538.6 276.0,538.6 279.0,538.6 282.0,538.6 285.0,538.6 288.0,538.5 291.0,538.5 294.0,538.5 297.0,538.5 300.0,538.4 303.0,538.4 306.0,538.4 309.0,538.4 312.0,538.3 315.0,538.3 318.0,538.3 321.0,538.2 324.0,538.2 327.0,538.2 330.0,538.1 333.0,538.1 336.0,538.0 339.0,538.0 342.0,537.9 345.0,537.9 348.0,537.8 351.0,537.8 354.0,537.7 357.0,537.6 360.0,537.5 363.0,537.5 366.0,537.4 369.0,537.3 372.0,537.2 375.0,537.1 378.0,536.9 381.0,536.8 384.0,536.7 387.0,536.5 390.0,536.3 393.0,536.1 396.0,535.9 399.0,535.7 402.0,535.5 405.0,535.2 408.0,534.9 411.0,534.6 414.0,534.3 417.0,534.0 420.0,533.6 423.0,533.2 426.0,532.7 429.0,532.2 432.0,531.7 435.0,531.2 438.0,530.6 441.0,529.9 444.0,529.2 447.0,528.5 450.0,527.7 453.0,526.9 456.0,526.0 459.0,525.0 462.0,524.0 465.0,523.0 468.0,521.8 471.0,520.7 474.0,519.4 477.0,518.1 480.0,516.7 483.0,515.3 486.0,513.7 489.0,512.1 492.0,510.5 495.0,508.8 498.0,507.0 501.0,505.1 504.0,503.2 507.0,501.2 510.0,499.2 513.0,497.1 516.0,494.9 519.0,492.7 522.0,490.4 525.0,488.1 528.0,485.8 531.0,483.4 534.0,481.0 537.0,478.6 540.0,476.2 543.0,473.7 546.0,471.3 549.0,468.8 552.0,466.4 555.0,464.0 558.0,461.6 561.0,459.2 564.0,456.9 567.0,454.7 570.0,452.5 573.0,450.4 576.0,448.4 579.0,446.5 582.0,444.7 585.0,443.0 588.0,441.4 591.0,440.0 594.0,438.7 597.0,437.5 600.0,436.5 603.0,435.7 606.0,435.0 609.0,434.5 612.0,434.2 615.0,434.0 618.0,434.0 621.0,434.2 624.0,434.6 627.0,435.1 630.0,435.8 633.0,436.7 636.0,437.7 639.0,438.9 642.0,440.3 645.0,441.7 648.0,443.3 651.0,445.1 654.0,446.9 657.0,448.8 660.0,450.8 663.0,453.0 666.0,455.1 669.0,457.4 672.0,459.7 675.0,462.1 678.0,464.4 681.0,466.9 684.0,469.3 687.0,471.7 690.0,474.2 693.0,476.6 696.0,479.1 699.0,481.5 702.0,483.9 705.0,486.3 708.0,488.6 711.0,490.9 714.0,493.1 717.0,495.3 720.0,497.5 723.0,499.6 726.0,501.6 729.0,503.6 732.0,505.5 735.0,507.3 738.0,509.1 741.0,510.8 744.0,512.5 747.0,514.0 750.0,515.6 753.0,517.0 756.0,518.4 759.0,519.7 762.0,520.9 765.0,522.1 768.0,523.2 771.0,524.2 774.0,525.2 777.0,526.2 780.0,527.0 783.0,527.9 786.0,528.6 789.0,529.4 792.0,530.0 795.0,530.7 798.0,531.3 801.0,531.8 804.0,532.3 807.0,532.8 810.0,533.2 813.0,533.7 816.0,534.0 819.0,534.4 822.0,534.7 825.0,535.0 828.0,535.3 831.0,535.5 834.0,535.8 837.0,536.0 840.0,536.2 843.0,536.4 846.0,536.5 849.0,536.7 852.0,536.8 855.0,537.0 858.0,537.1 861.0,537.2 864.0,537.3 867.0,537.4 870.0,537.5 873.0,537.6 876.0,537.6 879.0,537.7 882.0,537.8 885.0,537.8 888.0,537.9 891.0,537.9 894.0,538.0 897.0,538.0 900.0,538.1 903.0,538.1 906.0,538.2 909.0,538.2 912.0,538.2 915.0,538.3 918.0,538.3 921.0,538.3 924.0,538.4 927.0,538.4 930.0,538.4 933.0,538.4 936.0,538.5 939.0,538.5 942.0,538.5 945.0,538.5 948.0,538.6 951.0,538.6 954.0,538.6 957.0,538.6 960.0,538.6 963.0,538.7 966.0,538.7 969.0,538.7 972.0,538.7 975.0,538.7 978.0,538.7 981.0,538.8 984.0,538.8 987.0,538.8 990.0,538.8 993.0,538.8 996.0,538.8 999.0,538.8 1002.0,538.9 1005.0,538.9 1008.0,538.9 1011.0,538.9 1014.0,538.9 1017.0,538.9 1020.0,538.9 1023.0,538.9 1026.0,539.0 1029.0,539.0 1032.0,539.0 1035.0,539.0 1038.0,539.0 1041.0,539.0 1044.0,539.0 1047.0,539.0 1050.0,539.0 1053.0,539.0 1056.0,539.1 1059.0,539.1 1062.0,539.1 1065.0,539.1 1068.0,539.1 1071.0,539.1 1074.0,539.1 1077.0,539.1 1080.0,539.1 1083.0,539.1 1086.0,539.1 1089.0,539.1 1092.0,539.2 1095.0,539.2 1098.0,539.2 1101.0,539.2 1104.0,539.2 1107.0,539.2 1110.0,539.2 1113.0,539.2 1116.0,539.2 1119.0,539.2 1122.0,539.2 1125.0,539.2 1128.0,539.2 1131.0,539.2 1134.0,539.2 1137.0,539.2 1140.0,539.3 1143.0,539.3 1146.0,539.3 1149.0,539.3 1152.0,539.3 1155.0,539.3 1158.0,539.3 1161.0,539.3 1164.0,539.3 1167.0,539.3 1170.0,539.3 1173.0,539.3 1176.0,539.3 1179.0,539.3 1182.0,539.3 1185.0,539.3 1188.0,539.3 1191.0,539.3 1194.0,539.3 1197.0,539.3 1200.0,539.3 1203.0,539.4 1206.0,539.4 1209.0,539.4 1212.0,539.4 1215.0,539.4 1218.0,539.4 1221.0,539.4 1224.0,539.4 1227.0,539.4 1230.0,539.4 1233.0,539.4 1236.0,539.4 1239.0,539.4 1242.0,539.4 1245.0,539.4 1248.0,539.4 1251.0,539.4 1254.0,539.4 1257.0,539.4 1260.0,539.4 1263.0,539.4 1266.0,539.4 1269.0,539.4 1272.0,539.4 1275.0,539.4 1278.0,539.4 1281.0,539.4 1284.0,539.4 1287.0,539.4 1290.0,539.4 1293.0,539.5 1296.0,539.5 1299.0,539.5 1302.0,539.5 1305.0,539.5 1308.0,539.5 1311.0,539.5 1314.0,539.5 1317.0,539.5 1320.0,539.5 1323.0,539.5 1326.0,539.5 1329.0,539.5 1332.0,539.5 1335.0,539.5 1338.0,539.5 1341.0,539.5 1344.0,539.5 1347.0,539.5 1350.0,539.5 1353.0,539.5 1356.0,539.5 1359.0,539.5 1362.0,539.5 1365.0,539.5 1368.0,539.5 1371.0,539.5 1374.0,539.5 1377.0,539.5 1380.0,539.5 1383.0,539.5 1386.0,539.5 1389.0,539.5 1392.0,539.5 1395.0,539.5 1398.0,539.5 1401.0,539.5 1404.0,539.5 1407.0,539.5 1410.0,539.5 1413.0,539.5 1416.0,539.5 1419.0,539.5 1422.0,539.5 1425.0,539.5 1428.0,539.5 1431.0,539.5 1434.0,539.5 1437.0,539.5 1440.0,539.5 1443.0,539.5 1446.0,539.5 1449.0,539.6 1452.0,539.6 1455.0,539.6 1458.0,539.6 1461.0,539.6 1464.0,539.6 1467.0,539.6 1470.0,539.6 1473.0,539.6 1476.0,539.6 1479.0,539.6 1482.0,539.6 1485.0,539.6 1488.0,539.6 1491.0,539.6 1494.0,539.6 1497.0,539.6 1500.0,539.6 1503.0,539.6 1506.0,539.6 1509.0,539.6 1512.0,539.6 1515.0,539.6 1518.0,539.6 1521.0,539.6 1524.0,539.6 1527.0,539.6 1530.0,539.6 1533.0,539.6 1536.0,539.6 1539.0,539.6 1542.0,539.6 1545.0,539.6 1548.0,539.6 1551.0,539.6 1554.0,539.6 1557.0,539.6 1560.0,539.6 1563.0,539.6 1566.0,539.6 1569.0,539.6 1572.0,539.6 1575.0,539.6 1578.0,539.6 1581.0,539.6 1584.0,539.6 1587.0,539.6 1590.0,539.6 1593.0,539.6 1596.0,539.6 1599.0,539.6 1602.0,539.6 1605.0,539.6 1608.0,539.6 1611.0,539.6 1614.0,539.6 1617.0,539.6 1620.0,539.6 1623.0,539.6 1626.0,539.6 1629.0,539.6 1632.0,539.6 1635.0,539.6 1638.0,539.6 1641.0,539.6 1644.0,539.6 1647.0,539.6 1650.0,539.6 1653.0,539.6 1656.0,539.6 1659.0,539.6 1662.0,539.6 1665.0,539.6 1668.0,539.6 1671.0,539.6 1674.0,539.6 1677.0,539.6 1680.0,539.6 1683.0,539.6 1686.0,539.6 1689.0,539.6 1692.0,539.6 1695.0,539.6 1698.0,539.6 1701.0,539.6 1704.0,539.6 1707.0,539.6 1710.0,539.6 1713.0,539.6 1716.0,539.6 1719.0,539.6 1722.0,539.6 1725.0,539.6 1728.0,539.6 1731.0,539.6 1734.0,539.6 1737.0,539.6 1740.0,539.6 1743.0,539.6 1746.0,539.6 1749.0,539.6 1752.0,539.6 1755.0,539.6 1758.0,539.6 1761.0,539.6 1764.0,539.6 1767.0,539.6 1770.0,539.6 1773.0,539.6 1776.0,539.6 1779.0,539.6 1782.0,539.6 1785.0,539.6 1788.0,539.6 1791.0,539.6 1794.0,539.6 1797.0,539.7 1800.0,539.7 1803.0,539.7 1806.0,539.7 1809.0,539.7 1812.0,539.7 1815.0,539.7 1818.0,539.7 1821.0,539.7 1824.0,539.7 1827.0,539.7 1830.0,539.7 1833.0,539.7 1836.0,539.7 1839.0,539.7 1842.0,539.7 1845.0,539.7 1848.0,539.7 1851.0,539.7 1854.0,539.7 1857.0,539.7 1860.0,539.7 1863.0,539.7 1866.0,539.7 1869.0,539.7 1870.0,539.7" stroke="#ff8080"/><path d="M150.0,539.7 153.0,539.7 156.0,539.7 159.0,539.7 162.0,539.7 165.0,539.7 168.0,539.7 171.0,539.7 174.0,539.7 177.0,539.7 180.0,539.7 183.0,539.7 186.0,539.7 189.0,539.6 192.0,539.6 195.0,539.6 198.0,539.6 201.0,539.6 204.0,539.6 207.0,539.6 210.0,539.6 213.0,539.6 216.0,539.6 219.0,539.6 222.0,539.6 225.0,539.6 228.0,539.6 231.0,539.6 234.0,539.6 237.0,539.6 240.0,539.6 243.0,539.6 246.0,539.6 249.0,539.6 252.0,539.6 255.0,539.6 258.0,539.6 261.0,539.6 264.0,539.6 267.0,539.6 270.0,539.6 273.0,539.6 276.0,539.6 279.0,539.6 282.0,539.6 285.0,539.6 288.0,539.6 291.0,539.6 294.0,539.6 297.0,539.6 300.0,539.6 303.0,539.6 306.0,539.6 309.0,539.6 312.0,539.6 315.0,539.6 318.0,539.6 321.0,539.6 324.0,539.6 327.0,539.6 330.0,539.6 333.0,539.6 336.0,539.6 339.0,539.6 342.0,539.6 345.0,539.6 348.0,539.6 351.0,539.6 354.0,539.6 357.0,539.6 360.0,539.6 363.0,539.6 366.0,539.6 369.0,539.6 372.0,539.6 375.0,539.5 378.0,539.5 381.0,539.5 384.0,539.5 387.0,539.5 390.0,539.5 393.0,539.5 396.0,539.5 399.0,539.5 402.0,539.5 405.0,539.5 408.0,539.5 411.0,539.5 414.0,539.5 417.0,539.5 420.0,539.5 423.0,539.5 426.0,539.5 429.0,539.5 432.0,539.5 435.0,539.5 438.0,539.5 441.0,539.5 444.0,539.5 447.0,539.5 450.0,539.5 453.0,539.5 456.0,539.4 459.0,539.4 462.0,539.4 465.0,539.4 468.0,539.4 471.0,539.4 474.0,539.4 477.0,539.4 480.0,539.4 483.0,539.4 486.0,539.4 489.0,539.4 492.0,539.4 495.0,539.4 498.0,539.3 501.0,539.3 504.0,539.3 507.0,539.3 510.0,539.3 513.0,539.3 516.0,539.3 519.0,539.3 522.0,539.2 525.0,539.2 528.0,539.2 531.0,539.2 534.0,539.1 537.0,539.1 540.0,539.1 543.0,539.0 546.0,539.0 549.0,539.0 552.0,538.9 555.0,538.9 558.0,538.8 561.0,538.7 564.0,538.6 567.0,538.6 570.0,538.5 573.0,538.4 576.0,538.3 579.0,538.1 582.0,538.0 585.0,537.9 588.0,537.7 591.0,537.5 594.0,537.3 597.0,537.1 600.0,536.9 603.0,536.6 606.0,536.3 609.0,536.0 612.0,535.7 615.0,535.3 618.0,534.9 621.0,534.5 624.0,534.0 627.0,533.5 630.0,532.9 633.0,532.3 636.0,531.7 639.0,531.0 642.0,530.3 645.0,529.5 648.0,528.7 651.0,527.8 654.0,526.9 657.0,525.9 660.0,524.8 663.0,523.7 666.0,522.5 669.0,521.3 672.0,520.0 675.0,518.6 678.0,517.2 681.0,515.7 684.0,514.1 687.0,512.5 690.0,510.8 693.0,509.1 696.0,507.3 699.0,505.4 702.0,503.5 705.0,501.6 708.0,499.5 711.0,497.5 714.0,495.4 717.0,493.3 720.0,491.1 723.0,488.9 726.0,486.7 729.0,484.5 732.0,482.3 735.0,480.1 738.0,477.9 741.0,475.7 744.0,473.5 747.0,471.4 750.0,469.3 753.0,467.2 756.0,465.2 759.0,463.3 762.0,461.4 765.0,459.7 768.0,458.0 771.0,456.4 774.0,454.9 777.0,453.5 780.0,452.2 783.0,451.1 786.0,450.1 789.0,449.2 792.0,448.4 795.0,447.8 798.0,447.4 801.0,447.1 804.0,446.9 807.0,446.9 810.0,447.0 813.0,447.3 816.0,447.8 819.0,448.3 822.0,449.1 825.0,449.9 828.0,450.9 831.0,452.1 834.0,453.3 837.0,454.7 840.0,456.2 843.0,457.7 846.0,459.4 849.0,461.2 852.0,463.0 855.0,465.0 858.0,467.0 861.0,469.0 864.0,471.1 867.0,473.2 870.0,475.4 873.0,477.6 876.0,479.8 879.0,482.0 882.0,484.2 885.0,486.4 888.0,488.6 891.0,490.8 894.0,493.0 897.0,495.1 900.0,497.2 903.0,499.3 906.0,501.3 909.0,503.3 912.0,505.2 915.0,507.0 918.0,508.9 921.0,510.6 924.0,512.3 927.0,513.9 930.0,515.5 933.0,517.0 936.0,518.4 939.0,519.8 942.0,521.1 945.0,522.4 948.0,523.6 951.0,524.7 954.0,525.7 957.0,526.8 960.0,527.7 963.0,528.6 966.0,529.4 969.0,530.2 972.0,530.9 975.0,531.6 978.0,532.3 981.0,532.9 984.0,533.4 987.0,533.9 990.0,534.4 993.0,534.8 996.0,535.2 999.0,535.6 1002.0,535.9 1005.0,536.3 1008.0,536.6 1011.0,536.8 1014.0,537.1 1017.0,537.3 1020.0,537.5 1023.0,537.7 1026.0,537.8 1029.0,538.0 1032.0,538.1 1035.0,538.2 1038.0,538.4 1041.0,538.5 1044.0,538.6 1047.0,538.6 1050.0,538.7 1053.0,538.8 1056.0,538.8 1059.0,538.9 1062.0,538.9 1065.0,539.0 1068.0,539.0 1071.0,539.1 1074.0,539.1 1077.0,539.1 1080.0,539.2 1083.0,539.2 1086.0,539.2 1089.0,539.2 1092.0,539.3 1095.0,539.3 1098.0,539.3 1101.0,539.3 1104.0,539.3 1107.0,539.3 1110.0,539.3 1113.0,539.3 1116.0,539.4 1119.0,539.4 1122.0,539.4 1125.0,539.4 1128.0,539.4 1131.0,539.4 1134.0,539.4 1137.0,539.4 1140.0,539.4 1143.0,539.4 1146.0,539.4 1149.0,539.4 1152.0,539.4 1155.0,539.4 1158.0,539.5 1161.0,539.5 1164.0,539.5 1167.0,539.5 1170.0,539.5 1173.0,539.5 1176.0,539.5 1179.0,539.5 1182.0,539.5 1185.0,539.5 1188.0,539.5 1191.0,539.5 1194.0,539.5 1197.0,539.5 1200.0,539.5 1203.0,539.5 1206.0,539.5 1209.0,539.5 1212.0,539.5 1215.0,539.5 1218.0,539.5 1221.0,539.5 1224.0,539.5 1227.0,539.5 1230.0,539.5 1233.0,539.5 1236.0,539.5 1239.0,539.6 1242.0,539.6 1245.0,539.6 1248.0,539.6 1251.0,539.6 1254.0,539.6 1257.0,539.6 1260.0,539.6 1263.0,539.6 1266.0,539.6 1269.0,539.6 1272.0,539.6 1275.0,539.6 1278.0,539.6 1281.0,539.6 1284.0,539.6 1287.0,539.6 1290.0,539.6 1293.0,539.6 1296.0,539.6 1299.0,539.6 1302.0,539.6 1305.0,539.6 1308.0,539.6 1311.0,539.6 1314.0,539.6 1317.0,539.6 1320.0,539.6 1323.0,539.6 1326.0,539.6 1329.0,539.6 1332.0,539.6 1335.0,539.6 1338.0,539.6 1341.0,539.6 1344.0,539.6 1347.0,539.6 1350.0,539.6 1353.0,539.6 1356.0,539.6 1359.0,539.6 1362.0,539.6 1365.0,539.6 1368.0,539.6 1371.0,539.6 1374.0,539.6 1377.0,539.6 1380.0,539.6 1383.0,539.6 1386.0,539.6 1389.0,539.6 1392.0,539.6 1395.0,539.6 1398.0,539.6 1401.0,539.6 1404.0,539.6 1407.0,539.6 1410.0,539.6 1413.0,539.6 1416.0,539.6 1419.0,539.6 1422.0,539.6 1425.0,539.7 1428.0,539.7 1431.0,539.7 1434.0,539.7 1437.0,539.7 1440.0,539.7 1443.0,539.7 1446.0,539.7 1449.0,539.7 1452.0,539.7 1455.0,539.7 1458.0,539.7 1461.0,539.7 1464.0,539.7 1467.0,539.7 1470.0,539.7 1473.0,539.7 1476.0,539.7 1479.0,539.7 1482.0,539.7 1485.0,539.7 1488.0,539.7 1491.0,539.7 1494.0,539.7 1497.0,539.7 1500.0,539.7 1503.0,539.7 1506.0,539.7 1509.0,539.7 1512.0,539.7 1515.0,539.7 1518.0,539.7 1521.0,539.7 1524.0,539.7 1527.0,539.7 1530.0,539.7 1533.0,539.7 1536.0,539.7 1539.0,539.7 1542.0,539.7 1545.0,539.7 1548.0,539.7 1551.0,539.7 1554.0,539.7 1557.0,539.7 1560.0,539.7 1563.0,539.7 1566.0,539.7 1569.0,539.7 1572.0,539.7 1575.0,539.7 1578.0,539.7 1581.0,539.7 1584.0,539.7 1587.0,539.7 1590.0,539.7 1593.0,539.7 1596.0,539.7 1599.0,539.7 1602.0,539.7 1605.0,539.7 1608.0,539.7 1611.0,539.7 1614.0,539.7 1617.0,539.7 1620.0,539.7 1623.0,539.7 1626.0,539.7 1629.0,539.7 1632.0,539.7 1635.0,539.7 1638.0,539.7 1641.0,539.7 1644.0,539.7 1647.0,539.7 1650.0,539.7 1653.0,539.7 1656.0,539.7 1659.0,539.7 1662.0,539.7 1665.0,539.7 1668.0,539.7 1671.0,539.7 1674.0,539.7 1677.0,539.7 1680.0,539.7 1683.0,539.7 1686.0,539.7 1689.0,539.7 1692.0,539.7 1695.0,539.7 1698.0,539.7 1701.0,539.7 1704.0,539.7 1707.0,539.7 1710.0,539.7 1713.0,539.7 1716.0,539.7 1719.0,539.7 1722.0,539.7 1725.0,539.7 1728.0,539.7 1731.0,539.7 1734.0,539.7 1737.0,539.7 1740.0,539.7 1743.0,539.7 1746.0,539.7 1749.0,539.7 1752.0,539.7 1755.0,539.7 1758.0,539.7 1761.0,539.7 1764.0,539.7 1767.0,539.7 1770.0,539.7 1773.0,539.7 1776.0,539.7 1779.0,539.7 1782.0,539.7 1785.0,539.7 1788.0,539.7 1791.0,539.7 1794.0,539.7 1797.0,539.7 1800.0,539.7 1803.0,539.7 1806.0,539.7 1809.0,539.7 1812.0,539.7 1815.0,539.7 1818.0,539.7 1821.0,539.7 1824.0,539.7 1827.0,539.7 1830.0,539.7 1833.0,539.7 1836.0,539.7 1839.0,539.7 1842.0,539.7 1845.0,539.7 1848.0,539.7 1851.0,539.7 1854.0,539.7 1857.0,539.7 1860.0,539.7 1863.0,539.7 1866.0,539.7 1869.0,539.7 1870.0,539.7" stroke="#ff8080"/><path d="M152.2,534.1 159.1,534.3 165.9,534.6 172.8,534.9 179.7,535.3 186.6,535.6 193.5,535.9 200.3,536.3 207.2,536.6 214.1,536.9 221.0,537.2 227.9,537.5 234.7,537.8 241.6,538.0 248.5,538.3 255.4,538.5 262.3,538.6 269.1,538.8 276.0,538.9 282.9,539.1 289.8,539.1 296.7,539.2 303.5,539.3 310.4,539.3 317.3,539.3 324.2,539.4 331.1,539.3 337.9,539.3 344.8,539.3 351.7,539.2 358.6,539.1 365.5,539.0 372.3,538.9 379.2,538.7 386.1,538.5 393.0,538.2 399.9,537.9 406.7,537.4 413.6,536.8 420.5,536.1 427.4,535.3 434.3,534.2 441.1,532.9 448.0,531.4 454.9,529.5 461.8,527.4 468.7,524.8 475.5,521.9 482.4,518.6 489.3,514.8 496.2,510.6 503.1,505.9 509.9,500.8 516.8,495.2 523.7,489.3 530.6,483.1 537.5,476.7 544.3,470.1 551.2,463.5 558.1,456.9 565.0,450.6 571.9,444.6 578.7,439.0 585.6,433.9 592.5,429.6 599.4,425.9 606.3,423.1 613.1,421.2 620.0,420.1 626.9,419.8 633.8,420.4 640.7,421.6 647.5,423.5 654.4,425.9 661.3,428.7 668.2,431.7 675.1,434.8 681.9,437.8 688.8,440.5 695.7,443.0 702.6,444.9 709.5,446.4 716.3,447.3 723.2,447.5 730.1,447.2 737.0,446.4 743.9,445.0 750.7,443.3 757.6,441.3 764.5,439.2 771.4,437.0 778.3,435.1 785.1,433.3 792.0,432.0 798.9,431.2 805.8,431.0 812.7,431.5 819.5,432.7 826.4,434.6 833.3,437.2 840.2,440.5 847.1,444.5 853.9,449.0 860.8,453.9 867.7,459.2 874.6,464.8 881.5,470.5 888.3,476.2 895.2,481.8 902.1,487.3 909.0,492.5 915.9,497.4 922.7,502.0 929.6,506.2 936.5,509.9 943.4,513.1 950.3,516.0 957.1,518.3 964.0,520.3 970.9,521.8 977.8,523.0 984.7,523.7 991.5,524.1 998.4,524.2 1005.3,524.0 1012.2,523.5 1019.1,522.7 1025.9,521.6 1032.8,520.4 1039.7,518.8 1046.6,517.1 1053.5,515.1 1060.3,512.9 1067.2,510.5 1074.1,507.9 1081.0,505.0 1087.9,501.9 1094.7,498.5 1101.6,494.9 1108.5,490.9 1115.4,486.6 1122.3,481.9 1129.1,476.7 1136.0,471.0 1142.9,464.5 1149.8,457.2 1156.7,449.1 1163.5,439.8 1170.4,429.4 1177.3,417.6 1184.2,404.5 1191.1,389.9 1197.9,373.8 1204.8,356.3 1211.7,337.5 1218.6,317.7 1225.5,297.2 1232.3,276.2 1239.2,255.4 1246.1,235.0 1253.0,215.8 1259.9,198.0 1266.7,182.3 1273.6,168.9 1280.5,158.3 1287.4,150.7 1294.3,146.1 1301.1,144.6 1308.0,146.1 1314.9,150.4 1321.8,157.2 1328.7,166.4 1335.5,177.5 1342.4,190.4 1349.3,204.6 1356.2,220.0 1363.1,236.3 1369.9,253.2 1376.8,270.7 1383.7,288.5 1390.6,306.6 1397.5,324.7 1404.3,342.7 1411.2,360.5 1418.1,377.8 1425.0,394.7 1431.9,410.8 1438.7,426.1 1445.6,440.4 1452.5,453.7 1459.4,465.9 1466.3,476.9 1473.1,486.8 1480.0,495.5 1486.9,503.0 1493.8,509.6 1500.7,515.1 1507.5,519.8 1514.4,523.7 1521.3,527.0 1528.2,529.6 1535.1,531.7 1541.9,533.5 1548.8,534.8 1555.7,535.9 1562.6,536.8 1569.5,537.5 1576.3,538.0 1583.2,538.5 1590.1,538.8 1597.0,539.1 1603.9,539.3 1610.7,539.5 1617.6,539.6 1624.5,539.7 1631.4,539.8 1638.3,539.9 1645.1,539.9 1652.0,540.0 1658.9,540.0 1665.8,540.0 1672.7,540.1 1679.5,540.1 1686.4,540.1 1693.3,540.1 1700.2,540.1 1707.1,540.1 1713.9,540.1 1720.8,540.1 1727.7,540.1 1734.6,540.2 1741.5,540.2 1748.3,540.2 1755.2,540.2 1762.1,540.2 1769.0,540.2 1775.9,540.2 1782.7,540.2 1789.6,540.2 1796.5,540.2 1803.4,540.2 1810.3,540.2 1817.1,540.2 1824.0,540.2 1830.9,540.2 1837.8,540.2 1844.7,540.2 1851.5,540.2 1858.4,540.2 1865.3,540.2" stroke="#000" stroke-width="2.4"/><g fill="#fff" stroke="#000" stroke-width="2.0"><circle cx="152.2" cy="534.1" r="6.0"/><circle cx="159.1" cy="534.3" r="6.0"/><circle cx="165.9" cy="534.6" r="6.0"/><circle cx="172.8" cy="534.9" r="6.0"/><circle cx="179.7" cy="535.3" r="6.0"/><circle cx="186.6" cy="535.6" r="6.0"/><circle cx="193.5" cy="535.9" r="6.0"/><circle cx="200.3" cy="536.3" r="6.0"/><circle cx="207.2" cy="536.6" r="6.0"/><circle cx="214.1" cy="536.9" r="6.0"/><circle cx="221.0" cy="537.2" r="6.0"/><circle cx="227.9" cy="537.5" r="6.0"/><circle cx="234.7" cy="537.8" r="6.0"/><circle cx="241.6" cy="538.0" r="6.0"/><circle cx="248.5" cy="538.3" r="6.0"/><circle cx="255.4" cy="538.5" r="6.0"/><circle cx="262.3" cy="538.6" r="6.0"/><circle cx="269.1" cy="538.8" r="6.0"/><circle cx="276.0" cy="538.9" r="6.0"/><circle cx="282.9" cy="539.1" r="6.0"/><circle cx="289.8" cy="539.1" r="6.0"/><circle cx="296.7" cy="539.2" r="6.0"/><circle cx="303.5" cy="539.3" r="6.0"/><circle cx="310.4" cy="539.3" r="6.0"/><circle cx="317.3" cy="539.3" r="6.0"/><circle cx="324.2" cy="539.4" r="6.0"/><circle cx="331.1" cy="539.3" r="6.0"/><circle cx="337.9" cy="539.3" r="6.0"/><circle cx="344.8" cy="539.3" r="6.0"/><circle cx="351.7" cy="539.2" r="6.0"/><circle cx="358.6" cy="539.1" r="6.0"/><circle cx="365.5" cy="539.0" r="6.0"/><circle cx="372.3" cy="538.9" r="6.0"/><circle cx="379.2" cy="538.7" r="6.0"/><circle cx="386.1" cy="538.5" r="6.0"/><circle cx="393.0" cy="538.2" r="6.0"/><circle cx="399.9" cy="537.9" r="6.0"/><circle cx="406.7" cy="537.4" r="6.0"/><circle cx="413.6" cy="536.8" r="6.0"/><circle cx="420.5" cy="536.1" r="6.0"/><circle cx="427.4" cy="535.3" r="6.0"/><circle cx="434.3" cy="534.2" r="6.0"/><circle cx="441.1" cy="532.9" r="6.0"/><circle cx="448.0" cy="531.4" r="6.0"/><circle cx="454.9" cy="529.5" r="6.0"/><circle cx="461.8" cy="527.4" r="6.0"/><circle cx="468.7" cy="524.8" r="6.0"/><circle cx="475.5" cy="521.9" r="6.0"/><circle cx="482.4" cy="518.6" r="6.0"/><circle cx="489.3" cy="514.8" r="6.0"/><circle cx="496.2" cy="510.6" r="6.0"/><circle cx="503.1" cy="505.9" r="6.0"/><circle cx="509.9" cy="500.8" r="6.0"/><circle cx="516.8" cy="495.2" r="6.0"/><circle cx="523.7" cy="489.3" r="6.0"/><circle cx="530.6" cy="483.1" r="6.0"/><circle cx="537.5" cy="476.7" r="6.0"/><circle cx="544.3" cy="470.1" r="6.0"/><circle cx="551.2" cy="463.5" r="6.0"/><circle cx="558.1" cy="456.9" r="6.0"/><circle cx="565.0" cy="450.6" r="6.0"/><circle cx="571.9" cy="444.6" r="6.0"/><circle cx="578.7" cy="439.0" r="6.0"/><circle cx="585.6" cy="433.9" r="6.0"/><circle cx="592.5" cy="429.6" r="6.0"/><circle cx="599.4" cy="425.9" r="6.0"/><circle cx="606.3" cy="423.1" r="6.0"/><circle cx="613.1" cy="421.2" r="6.0"/><circle cx="620.0" cy="420.1" r="6.0"/><circle cx="626.9" cy="419.8" r="6.0"/><circle cx="633.8" cy="420.4" r="6.0"/><circle cx="640.7" cy="421.6" r="6.0"/><circle cx="647.5" cy="423.5" r="6.0"/><circle cx="654.4" cy="425.9" r="6.0"/><circle cx="661.3" cy="428.7" r="6.0"/><circle cx="668.2" cy="431.7" r="6.0"/><circle cx="675.1" cy="434.8" r="6.0"/><circle cx="681.9" cy="437.8" r="6.0"/><circle cx="688.8" cy="440.5" r="6.0"/><circle cx="695.7" cy="443.0" r="6.0"/><circle cx="702.6" cy="444.9" r="6.0"/><circle cx="709.5" cy="446.4" r="6.0"/><circle cx="716.3" cy="447.3" r="6.0"/><circle cx="723.2" cy="447.5" r="6.0"/><circle cx="730.1" cy="447.2" r="6.0"/><circle cx="737.0" cy="446.4" r="6.0"/><circle cx="743.9" cy="445.0" r="6.0"/><circle cx="750.7" cy="443.3" r="6.0"/><circle cx="757.6" cy="441.3" r="6.0"/><circle cx="764.5" cy="439.2" r="6.0"/><circle cx="771.4" cy="437.0" r="6.0"/><circle cx="778.3" cy="435.1" r="6.0"/><circle cx="785.1" cy="433.3" r="6.0"/><circle cx="792.0" cy="432.0" r="6.0"/><circle cx="798.9" cy="431.2" r="6.0"/><circle cx="805.8" cy="431.0" r="6.0"/><circle cx="812.7" cy="431.5" r="6.0"/><circle cx="819.5" cy="432.7" r="6.0"/><circle cx="826.4" cy="434.6" r="6.0"/><circle cx="833.3" cy="437.2" r="6.0"/><circle cx="840.2" cy="440.5" r="6.0"/><circle cx="847.1" cy="444.5" r="6.0"/><circle cx="853.9" cy="449.0" r="6.0"/><circle cx="860.8" cy="453.9" r="6.0"/><circle cx="867.7" cy="459.2" r="6.0"/><circle cx="874.6" cy="464.8" r="6.0"/><circle cx="881.5" cy="470.5" r="6.0"/><circle cx="888.3" cy="476.2" r="6.0"/><circle cx="895.2" cy="481.8" r="6.0"/><circle cx="902.1" cy="487.3" r="6.0"/><circle cx="909.0" cy="492.5" r="6.0"/><circle cx="915.9" cy="497.4" r="6.0"/><circle cx="922.7" cy="502.0" r="6.0"/><circle cx="929.6" cy="506.2" r="6.0"/><circle cx="936.5" cy="509.9" r="6.0"/><circle cx="943.4" cy="513.1" r="6.0"/><circle cx="950.3" cy="516.0" r="6.0"/><circle cx="957.1" cy="518.3" r="6.0"/><circle cx="964.0" cy="520.3" r="6.0"/><circle cx="970.9" cy="521.8" r="6.0"/><circle cx="977.8" cy="523.0" r="6.0"/><circle cx="984.7" cy="523.7" r="6.0"/><circle cx="991.5" cy="524.1" r="6.0"/><circle cx="998.4" cy="524.2" r="6.0"/><circle cx="1005.3" cy="524.0" r="6.0"/><circle cx="1012.2" cy="523.5" r="6.0"/><circle cx="1019.1" cy="522.7" r="6.0"/><circle cx="1025.9" cy="521.6" r="6.0"/><circle cx="1032.8" cy="520.4" r="6.0"/><circle cx="1039.7" cy="518.8" r="6.0"/><circle cx="1046.6" cy="517.1" r="6.0"/><circle cx="1053.5" cy="515.1" r="6.0"/><circle cx="1060.3" cy="512.9" r="6.0"/><circle cx="1067.2" cy="510.5" r="6.0"/><circle cx="1074.1" cy="507.9" r="6.0"/><circle cx="1081.0" cy="505.0" r="6.0"/><circle cx="1087.9" cy="501.9" r="6.0"/><circle cx="1094.7" cy="498.5" r="6.0"/><circle cx="1101.6" cy="494.9" r="6.0"/><circle cx="1108.5" cy="490.9" r="6.0"/><circle cx="1115.4" cy="486.6" r="6.0"/><circle cx="1122.3" cy="481.9" r="6.0"/><circle cx="1129.1" cy="476.7" r="6.0"/><circle cx="1136.0" cy="471.0" r="6.0"/><circle cx="1142.9" cy="464.5" r="6.0"/><circle cx="1149.8" cy="457.2" r="6.0"/><circle cx="1156.7" cy="449.1" r="6.0"/><circle cx="1163.5" cy="439.8" r="6.0"/><circle cx="1170.4" cy="429.4" r="6.0"/><circle cx="1177.3" cy="417.6" r="6.0"/><circle cx="1184.2" cy="404.5" r="6.0"/><circle cx="1191.1" cy="389.9" r="6.0"/><circle cx="1197.9" cy="373.8" r="6.0"/><circle cx="1204.8" cy="356.3" r="6.0"/><circle cx="1211.7" cy="337.5" r="6.0"/><circle cx="1218.6" cy="317.7" r="6.0"/><circle cx="1225.5" cy="297.2" r="6.0"/><circle cx="1232.3" cy="276.2" r="6.0"/><circle cx="1239.2" cy="255.4" r="6.0"/><circle cx="1246.1" cy="235.0" r="6.0"/><circle cx="1253.0" cy="215.8" r="6.0"/><circle cx="1259.9" cy="198.0" r="6.0"/><circle cx="1266.7" cy="182.3" r="6.0"/><circle cx="1273.6" cy="168.9" r="6.0"/><circle cx="1280.5" cy="158.3" r="6.0"/><circle cx="1287.4" cy="150.7" r="6.0"/><circle cx="1294.3" cy="146.1" r="6.0"/><circle cx="1301.1" cy="144.6" r="6.0"/><circle cx="1308.0" cy="146.1" r="6.0"/><circle cx="1314.9" cy="150.4" r="6.0"/><circle cx="1321.8" cy="157.2" r="6.0"/><circle cx="1328.7" cy="166.4" r="6.0"/><circle cx="1335.5" cy="177.5" r="6.0"/><circle cx="1342.4" cy="190.4" r="6.0"/><circle cx="1349.3" cy="204.6" r="6.0"/><circle cx="1356.2" cy="220.0" r="6.0"/><circle cx="1363.1" cy="236.3" r="6.0"/><circle cx="1369.9" cy="253.2" r="6.0"/><circle cx="1376.8" cy="270.7" r="6.0"/><circle cx="1383.7" cy="288.5" r="6.0"/><circle cx="1390.6" cy="306.6" r="6.0"/><circle cx="1397.5" cy="324.7" r="6.0"/><circle cx="1404.3" cy="342.7" r="6.0"/><circle cx="1411.2" cy="360.5" r="6.0"/><circle cx="1418.1" cy="377.8" r="6.0"/><circle cx="1425.0" cy="394.7" r="6.0"/><circle cx="1431.9" cy="410.8" r="6.0"/><circle cx="1438.7" cy="426.1" r="6.0"/><circle cx="1445.6" cy="440.4" r="6.0"/><circle cx="1452.5" cy="453.7" r="6.0"/><circle cx="1459.4" cy="465.9" r="6.0"/><circle cx="1466.3" cy="476.9" r="6.0"/><circle cx="1473.1" cy="486.8" r="6.0"/><circle cx="1480.0" cy="495.5" r="6.0"/><circle cx="1486.9" cy="503.0" r="6.0"/><circle cx="1493.8" cy="509.6" r="6.0"/><circle cx="1500.7" cy="515.1" r="6.0"/><circle cx="1507.5" cy="519.8" r="6.0"/><circle cx="1514.4" cy="523.7" r="6.0"/><circle cx="1521.3" cy="527.0" r="6.0"/><circle cx="1528.2" cy="529.6" r="6.0"/><circle cx="1535.1" cy="531.7" r="6.0"/><circle cx="1541.9" cy="533.5" r="6.0"/><circle cx="1548.8" cy="534.8" r="6.0"/><circle cx="1555.7" cy="535.9" r="6.0"/><circle cx="1562.6" cy="536.8" r="6.0"/><circle cx="1569.5" cy="537.5" r="6.0"/><circle cx="1576.3" cy="538.0" r="6.0"/><circle cx="1583.2" cy="538.5" r="6.0"/><circle cx="1590.1" cy="538.8" r="6.0"/><circle cx="1597.0" cy="539.1" r="6.0"/><circle cx="1603.9" cy="539.3" r="6.0"/><circle cx="1610.7" cy="539.5" r="6.0"/><circle cx="1617.6" cy="539.6" r="6.0"/><circle cx="1624.5" cy="539.7" r="6.0"/><circle cx="1631.4" cy="539.8" r="6.0"/><circle cx="1638.3" cy="539.9" r="6.0"/><circle cx="1645.1" cy="539.9" r="6.0"/><circle cx="1652.0" cy="540.0" r="6.0"/><circle cx="1658.9" cy="540.0" r="6.0"/><circle cx="1665.8" cy="540.0" r="6.0"/><circle cx="1672.7" cy="540.1" r="6.0"/><circle cx="1679.5" cy="540.1" r="6.0"/><circle cx="1686.4" cy="540.1" r="6.0"/><circle cx="1693.3" cy="540.1" r="6.0"/><circle cx="1700.2" cy="540.1" r="6.0"/><circle cx="1707.1" cy="540.1" r="6.0"/><circle cx="1713.9" cy="540.1" r="6.0"/><circle cx="1720.8" cy="540.1" r="6.0"/><circle cx="1727.7" cy="540.1" r="6.0"/><circle cx="1734.6" cy="540.2" r="6.0"/><circle cx="1741.5" cy="540.2" r="6.0"/><circle cx="1748.3" cy="540.2" r="6.0"/><circle cx="1755.2" cy="540.2" r="6.0"/><circle cx="1762.1" cy="540.2" r="6.0"/><circle cx="1769.0" cy="540.2" r="6.0"/><circle cx="1775.9" cy="540.2" r="6.0"/><circle cx="1782.7" cy="540.2" r="6.0"/><circle cx="1789.6" cy="540.2" r="6.0"/><circle cx="1796.5" cy="540.2" r="6.0"/><circle cx="1803.4" cy="540.2" r="6.0"/><circle cx="1810.3" cy="540.2" r="6.0"/><circle cx="1817.1" cy="540.2" r="6.0"/><circle cx="1824.0" cy="540.2" r="6.0"/><circle cx="1830.9" cy="540.2" r="6.0"/><circle cx="1837.8" cy="540.2" r="6.0"/><circle cx="1844.7" cy="540.2" r="6.0"/><circle cx="1851.5" cy="540.2" r="6.0"/><circle cx="1858.4" cy="540.2" r="6.0"/><circle cx="1865.3" cy="540.2" r="6.0"/></g></g>
<path d="M152.5,1630V48.5H1867.5V1630M151,48.5H1872" stroke="#000" stroke-width="3" fill="none"/>
<path d="M175.5,98.8H298.5" stroke="#00ff00" stroke-width="12" stroke-linecap="round"/>
<path d="M175.5,195H298.5" stroke="#00ffff" stroke-width="12" stroke-linecap="round"/>
<path d="M175.5,291H298.5" stroke="#ff8080" stroke-width="12" stroke-linecap="round"/>
<path d="M175,393H300" stroke="#000" stroke-width="3"/><circle cx="237.2" cy="393" r="5.3" fill="#fff" stroke="#000" stroke-width="1.9"/>
<text transform="translate(314.89,118.24) scale(0.9766,1)" font-family="&quot;Liberation Serif&quot;, serif" font-weight="bold" font-style="normal" font-size="56.85">Cu(II)</text>
<text transform="translate(466.76,138.10) scale(1.0373,1)" font-family="&quot;Liberation Serif&quot;, serif" font-weight="bold" font-style="normal" font-size="36.00">s</text>
<text transform="translate(314.89,214.42) scale(0.9955,1)" font-family="&quot;Liberation Serif&quot;, serif" font-weight="bold" font-style="normal" font-size="55.77">Cu(II)</text>
<text transform="translate(467.80,232.71) scale(1.0895,1)" font-family="&quot;Liberation Serif&quot;, serif" font-weight="bold" font-style="normal" font-size="33.04">w</text>
<text transform="translate(314.61,310.09) scale(0.9895,1)" font-family="&quot;Liberation Serif&quot;, serif" font-weight="bold" font-style="normal" font-size="58.31">CuO</text>
<text transform="translate(431.89,330.30) scale(1.0267,1)" font-family="&quot;Liberation Serif&quot;, serif" font-weight="bold" font-style="normal" font-size="35.43">satellite</text>
<text transform="translate(314.85,413.77) scale(0.9666,1)" font-family="&quot;Liberation Serif&quot;, serif" font-weight="bold" font-style="normal" font-size="64.89">Raw data</text>
<text transform="translate(1459.90,352.41) scale(0.9631,1)" font-family="&quot;Liberation Serif&quot;, serif" font-weight="bold" font-style="italic" font-size="87.22">BMC-La</text>
<text transform="translate(1768.64,388.36) scale(0.9413,1)" font-family="&quot;Liberation Serif&quot;, serif" font-weight="bold" font-style="italic" font-size="60.99">0.6</text>
<text transform="translate(1485.20,716.30) scale(0.9748,1)" font-family="&quot;Liberation Serif&quot;, serif" font-weight="bold" font-style="italic" font-size="86.06">BMC-La</text>
<text transform="translate(1794.80,752.40) scale(0.9309,1)" font-family="&quot;Liberation Serif&quot;, serif" font-weight="bold" font-style="italic" font-size="60.31">0.3</text>
<text transform="translate(1465.90,1097.36) scale(0.9522,1)" font-family="&quot;Liberation Serif&quot;, serif" font-weight="bold" font-style="italic" font-size="88.39">BMC-La</text>
<text transform="translate(1774.44,1131.99) scale(0.9576,1)" font-family="&quot;Liberation Serif&quot;, serif" font-weight="bold" font-style="italic" font-size="61.55">0.1</text>
<text transform="translate(1550.07,1462.73) scale(0.9193,1)" font-family="&quot;Liberation Serif&quot;, serif" font-weight="bold" font-style="italic" font-size="88.38">BMC</text>
<text transform="translate(117.19,1702.90) scale(0.9377,1)" font-family="&quot;Liberation Sans&quot;, sans-serif" font-weight="normal" font-style="normal" font-size="68.50">950</text>
<text transform="translate(460.25,1702.90) scale(0.9487,1)" font-family="&quot;Liberation Sans&quot;, sans-serif" font-weight="normal" font-style="normal" font-size="68.50">945</text>
<text transform="translate(803.39,1702.36) scale(0.9147,1)" font-family="&quot;Liberation Sans&quot;, sans-serif" font-weight="normal" font-style="normal" font-size="70.22">940</text>
<text transform="translate(1146.67,1702.90) scale(0.9597,1)" font-family="&quot;Liberation Sans&quot;, sans-serif" font-weight="normal" font-style="normal" font-size="68.50">935</text>
<text transform="translate(1490.66,1703.02) scale(0.9833,1)" font-family="&quot;Liberation Sans&quot;, sans-serif" font-weight="normal" font-style="normal" font-size="67.12">930</text>
<text transform="translate(1833.94,1703.00) scale(0.9537,1)" font-family="&quot;Liberation Sans&quot;, sans-serif" font-weight="normal" font-style="normal" font-size="68.50">925</text>
<text transform="translate(679.91,1821.63) scale(1.0047,1)" font-family="&quot;Liberation Serif&quot;, serif" font-weight="bold" font-style="normal" font-size="93.11">Binding Energy(eV)</text>
<text transform="translate(1037.79,1953.49) scale(1.0130,1)" font-family="&quot;Liberation Sans&quot;, sans-serif" font-weight="normal" font-style="normal" font-size="79.17">(c)</text>
<text transform="translate(94.29,1144.21) rotate(-90) scale(1.0107,1)" font-family="&quot;Liberation Serif&quot;, serif" font-weight="bold" font-style="normal" font-size="93.81">Intensity(a.u)</text>
</svg></body></html>
